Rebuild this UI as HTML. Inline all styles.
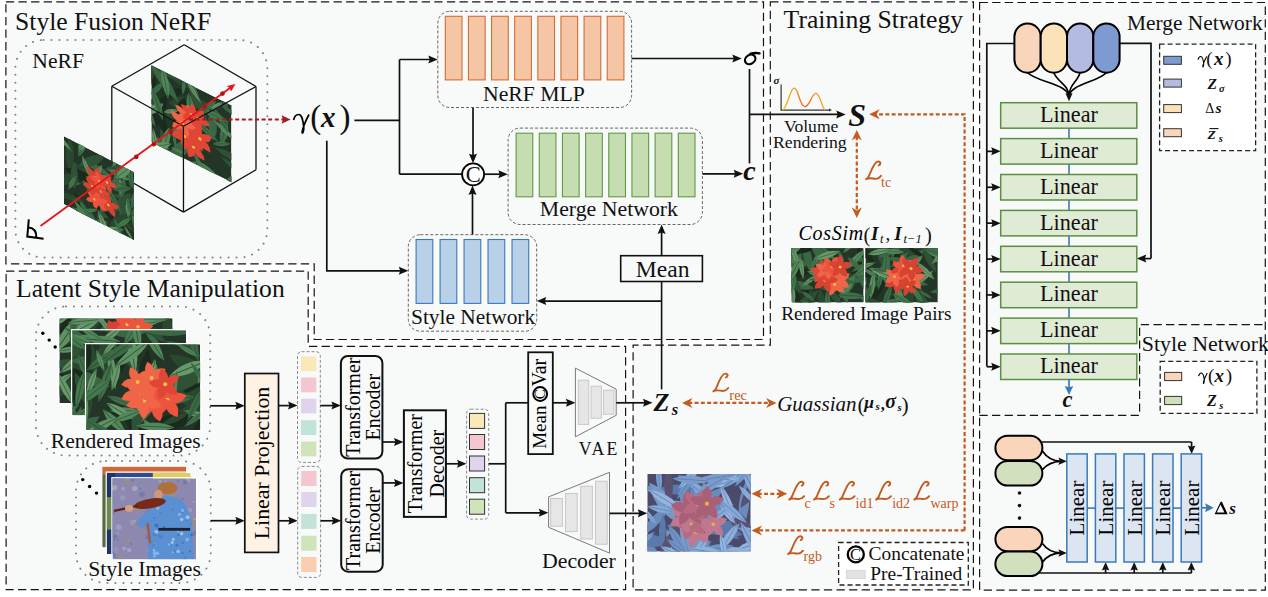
<!DOCTYPE html><html><head><meta charset="utf-8"><style>html,body{margin:0;padding:0;background:#fff;overflow:hidden}svg{display:block}</style></head><body>
<svg width="1268" height="597" viewBox="0 0 1268 597" font-family="Liberation Serif" fill="#000">
<defs><clipPath id="c1"><rect width="100" height="100"/></clipPath><clipPath id="c2"><rect width="100" height="100"/></clipPath><linearGradient id="vg" x1="0" x2="1" y1="0" y2="0"><stop offset="0" stop-color="#f5c518"/><stop offset="0.5" stop-color="#ef6a2a"/><stop offset="1" stop-color="#f5b020"/></linearGradient><clipPath id="c3"><rect width="72.1" height="54.3"/></clipPath><clipPath id="c4"><rect width="72.4" height="54.3"/></clipPath><clipPath id="c5"><rect width="113.4" height="85"/></clipPath><clipPath id="c6"><rect width="113.9" height="85"/></clipPath><clipPath id="c7"><rect width="114.2" height="85.8"/></clipPath><clipPath id="c8"><rect width="83.7" height="80.6"/></clipPath><clipPath id="c9"><rect width="83.7" height="81.3"/></clipPath><clipPath id="c10"><rect width="83.5" height="81.3"/></clipPath><clipPath id="c11"><rect width="103.4" height="77.6"/></clipPath></defs>
<path d="M5.9,1.8 L763.5,1.8 L763.5,339.5 L314.2,339.5 L314.2,263.8 L5.9,263.8 Z" fill="#f8f9f9" stroke="#141414" stroke-width="1.2" stroke-dasharray="8.3 4.3"/>
<path d="M6.1,271.2 L308.2,271.2 L308.2,346.3 L625.6,346.3 L625.6,589.6 L6.1,589.6 Z" fill="#f8f9f9" stroke="#141414" stroke-width="1.2" stroke-dasharray="8.3 4.3"/>
<path d="M770.3,1.8 L973.4,1.8 L973.4,589.9 L633.1,589.9 L633.1,345.2 L770.3,345.2 Z" fill="#f8f9f9" stroke="#141414" stroke-width="1.2" stroke-dasharray="8.3 4.3"/>
<rect x="979.6" y="2.5" width="285.7" height="587.6" rx="0" fill="#f8f9f9" stroke="#141414" stroke-width="1.2" stroke-dasharray="8.3 4.3"/>
<path d="M979.4,415.3 L1139.6,415.3 L1139.6,324.7 L1265.3,324.7" fill="none" stroke="#141414" stroke-width="1.2" stroke-linecap="butt" stroke-linejoin="miter" stroke-dasharray="8.3 4.3"/>
<text x="15.1" y="29.6" font-size="25.6" fill="#111" text-anchor="start">Style Fusion NeRF</text>
<text x="783.6" y="27.8" font-size="25.7" fill="#111" text-anchor="start">Training Strategy</text>
<text x="16" y="297" font-size="25.6" fill="#111" text-anchor="start">Latent Style Manipulation</text>
<rect x="15.4" y="40" width="251.9" height="217.6" rx="28" fill="none" stroke="#858585" stroke-width="2" stroke-dasharray="0.1 7.9" stroke-linecap="round"/>
<text x="32.3" y="67.8" font-size="21.6" fill="#111" text-anchor="start">NeRF</text>
<g transform="matrix(0.8,0.4,0,0.77,151.4,65.2)"><g clip-path="url(#c1)"><rect width="100" height="100" fill="#223526"/><path transform="translate(44.8,56.6) rotate(91.4)" d="M-26.5,0 Q0,-12.7 26.5,0 Q0,12.7 -26.5,0Z" fill="#3a6643"/><path transform="translate(15.3,51.3) rotate(16.9)" d="M-22.5,0 Q0,-12 22.5,0 Q0,12 -22.5,0Z" fill="#2a4830"/><path transform="translate(10.6,54.3) rotate(107.2)" d="M-26,0 Q0,-13.2 26,0 Q0,13.2 -26,0Z" fill="#1a2a1d"/><path transform="translate(101.1,66.9) rotate(2.7)" d="M-22.3,0 Q0,-9.5 22.3,0 Q0,9.5 -22.3,0Z" fill="#2f5236"/><path transform="translate(1.6,15.9) rotate(83.5)" d="M-17.3,0 Q0,-7 17.3,0 Q0,7 -17.3,0Z" fill="#1a2a1d"/><path transform="translate(60,16.5) rotate(0.8)" d="M-17.2,0 Q0,-7.7 17.2,0 Q0,7.7 -17.2,0Z" fill="#2f5236"/><path transform="translate(45.3,25.6) rotate(151.2)" d="M-27.5,0 Q0,-15.6 27.5,0 Q0,15.6 -27.5,0Z" fill="#2a4830"/><path transform="translate(29.7,20.3) rotate(137.9)" d="M-17.9,0 Q0,-7.4 17.9,0 Q0,7.4 -17.9,0Z" fill="#1a2a1d"/><path transform="translate(6.9,27) rotate(123.3)" d="M-14.9,0 Q0,-6 14.9,0 Q0,6 -14.9,0Z" fill="#3a6643"/><path transform="translate(18.1,95.1) rotate(71.5)" d="M-20.3,0 Q0,-11.5 20.3,0 Q0,11.5 -20.3,0Z" fill="#2f5236"/><path transform="translate(57.3,16.8) rotate(56)" d="M-23.1,0 Q0,-10.6 23.1,0 Q0,10.6 -23.1,0Z" fill="#2f5236"/><path transform="translate(101,78.4) rotate(18.2)" d="M-15.6,0 Q0,-6.9 15.6,0 Q0,6.9 -15.6,0Z" fill="#2f5236"/><path transform="translate(46.1,48.6) rotate(91.6)" d="M-23.2,0 Q0,-10 23.2,0 Q0,10 -23.2,0Z" fill="#3a6643"/><path transform="translate(41.1,37.2) rotate(0.1)" d="M-19.3,0 Q0,-11 19.3,0 Q0,11 -19.3,0Z" fill="#2a4830"/><path transform="translate(104.8,-2.8) rotate(108.4)" d="M-16.5,0 Q0,-9.4 16.5,0 Q0,9.4 -16.5,0Z" fill="#2f5236"/><path transform="translate(-0.4,11.1) rotate(109.9)" d="M-20,0 Q0,-8 20,0 Q0,8 -20,0Z" fill="#2a4830"/><path transform="translate(37.5,3.2) rotate(2.8)" d="M-16.8,0 Q0,-8.5 16.8,0 Q0,8.5 -16.8,0Z" fill="#2a4830"/><path transform="translate(35.9,44.9) rotate(103.4)" d="M-26.9,0 Q0,-13 26.9,0 Q0,13 -26.9,0Z" fill="#1a2a1d"/><path transform="translate(15.1,12) rotate(44.9)" d="M-26.3,0 Q0,-14.2 26.3,0 Q0,14.2 -26.3,0Z" fill="#3a6643"/><path transform="translate(12.4,64.2) rotate(69.9)" d="M-21.5,0 Q0,-11.1 21.5,0 Q0,11.1 -21.5,0Z" fill="#1a2a1d"/><path transform="translate(61.4,41.4) rotate(173.3)" d="M-15.4,0 Q0,-6.2 15.4,0 Q0,6.2 -15.4,0Z" fill="#3a6643"/><path transform="translate(76.4,38.1) rotate(88.4)" d="M-19.7,0 Q0,-10.9 19.7,0 Q0,10.9 -19.7,0Z" fill="#3a6643"/><path transform="translate(97.2,102.5) rotate(117.6)" d="M-15.7,0 Q0,-7.6 15.7,0 Q0,7.6 -15.7,0Z" fill="#2f5236"/><path transform="translate(25.8,95.9) rotate(48.5)" d="M-16.8,0 Q0,-6.7 16.8,0 Q0,6.7 -16.8,0Z" fill="#1a2a1d"/><path transform="translate(22.4,0.1) rotate(175.2)" d="M-17.8,0 Q0,-8.7 17.8,0 Q0,8.7 -17.8,0Z" fill="#2f5236"/><path transform="translate(34.8,93) rotate(124.4)" d="M-27.2,0 Q0,-13.9 27.2,0 Q0,13.9 -27.2,0Z" fill="#3a6643"/><path transform="translate(59.9,96.6) rotate(56.1)" d="M-14.7,0 Q0,-6.1 14.7,0 Q0,6.1 -14.7,0Z" fill="#457a4e"/><path transform="translate(59.9,96.6) rotate(56.1)" d="M-13.3,0 L13.3,0" stroke="#2a4a30" stroke-width="0.5"/><path transform="translate(-2.7,65) rotate(57.4)" d="M-14.8,0 Q0,-7 14.8,0 Q0,7 -14.8,0Z" fill="#457a4e"/><path transform="translate(-2.7,65) rotate(57.4)" d="M-13.3,0 L13.3,0" stroke="#2a4a30" stroke-width="0.6"/><path transform="translate(3.3,55.1) rotate(132.7)" d="M-17.4,0 Q0,-8.6 17.4,0 Q0,8.6 -17.4,0Z" fill="#68996a"/><path transform="translate(3.3,55.1) rotate(132.7)" d="M-15.6,0 L15.6,0" stroke="#2a4a30" stroke-width="0.7"/><path transform="translate(9.2,101) rotate(85.2)" d="M-13.4,0 Q0,-5 13.4,0 Q0,5 -13.4,0Z" fill="#457a4e"/><path transform="translate(9.2,101) rotate(85.2)" d="M-12.1,0 L12.1,0" stroke="#2a4a30" stroke-width="0.4"/><path transform="translate(90.8,40.9) rotate(103.1)" d="M-17.9,0 Q0,-8.8 17.9,0 Q0,8.8 -17.9,0Z" fill="#406f4a"/><path transform="translate(90.8,40.9) rotate(103.1)" d="M-16.1,0 L16.1,0" stroke="#2a4a30" stroke-width="0.7"/><path transform="translate(67.8,36.7) rotate(16.3)" d="M-10.1,0 Q0,-3.7 10.1,0 Q0,3.7 -10.1,0Z" fill="#457a4e"/><path transform="translate(67.8,36.7) rotate(16.3)" d="M-9.1,0 L9.1,0" stroke="#2a4a30" stroke-width="0.4"/><path transform="translate(104.3,91.8) rotate(132.3)" d="M-17.3,0 Q0,-7.2 17.3,0 Q0,7.2 -17.3,0Z" fill="#406f4a"/><path transform="translate(104.3,91.8) rotate(132.3)" d="M-15.6,0 L15.6,0" stroke="#2a4a30" stroke-width="0.6"/><path transform="translate(45.4,45.9) rotate(92.6)" d="M-15.4,0 Q0,-6.8 15.4,0 Q0,6.8 -15.4,0Z" fill="#3a6a45"/><path transform="translate(45.4,45.9) rotate(92.6)" d="M-13.9,0 L13.9,0" stroke="#2a4a30" stroke-width="0.6"/><path transform="translate(61.1,47.9) rotate(89.5)" d="M-12.3,0 Q0,-5.7 12.3,0 Q0,5.7 -12.3,0Z" fill="#406f4a"/><path transform="translate(61.1,47.9) rotate(89.5)" d="M-11.1,0 L11.1,0" stroke="#2a4a30" stroke-width="0.5"/><path transform="translate(67.6,48.5) rotate(25.8)" d="M-19,0 Q0,-7.9 19,0 Q0,7.9 -19,0Z" fill="#406f4a"/><path transform="translate(67.6,48.5) rotate(25.8)" d="M-17.1,0 L17.1,0" stroke="#2a4a30" stroke-width="0.7"/><path transform="translate(17.3,13.7) rotate(79.5)" d="M-19.1,0 Q0,-8.8 19.1,0 Q0,8.8 -19.1,0Z" fill="#52875a"/><path transform="translate(17.3,13.7) rotate(79.5)" d="M-17.2,0 L17.2,0" stroke="#2a4a30" stroke-width="0.7"/><path transform="translate(31,68.2) rotate(145.1)" d="M-12,0 Q0,-5.1 12,0 Q0,5.1 -12,0Z" fill="#52875a"/><path transform="translate(31,68.2) rotate(145.1)" d="M-10.8,0 L10.8,0" stroke="#2a4a30" stroke-width="0.4"/><path transform="translate(91.8,37.3) rotate(24.5)" d="M-15.8,0 Q0,-6.5 15.8,0 Q0,6.5 -15.8,0Z" fill="#5e9262"/><path transform="translate(91.8,37.3) rotate(24.5)" d="M-14.2,0 L14.2,0" stroke="#2a4a30" stroke-width="0.5"/><path transform="translate(33.6,93.5) rotate(176.5)" d="M-10.4,0 Q0,-3.8 10.4,0 Q0,3.8 -10.4,0Z" fill="#52875a"/><path transform="translate(33.6,93.5) rotate(176.5)" d="M-9.4,0 L9.4,0" stroke="#2a4a30" stroke-width="0.4"/><path transform="translate(7.4,46.8) rotate(68.9)" d="M-19.3,0 Q0,-9.4 19.3,0 Q0,9.4 -19.3,0Z" fill="#406f4a"/><path transform="translate(7.4,46.8) rotate(68.9)" d="M-17.3,0 L17.3,0" stroke="#2a4a30" stroke-width="0.8"/><path transform="translate(49.3,29.7) rotate(81.4)" d="M-18.4,0 Q0,-9.4 18.4,0 Q0,9.4 -18.4,0Z" fill="#457a4e"/><path transform="translate(49.3,29.7) rotate(81.4)" d="M-16.6,0 L16.6,0" stroke="#2a4a30" stroke-width="0.8"/><path transform="translate(86.2,25.6) rotate(50.6)" d="M-16.1,0 Q0,-7.5 16.1,0 Q0,7.5 -16.1,0Z" fill="#3a6a45"/><path transform="translate(86.2,25.6) rotate(50.6)" d="M-14.5,0 L14.5,0" stroke="#2a4a30" stroke-width="0.6"/><path transform="translate(29,82.1) rotate(81.9)" d="M-10.2,0 Q0,-3.9 10.2,0 Q0,3.9 -10.2,0Z" fill="#457a4e"/><path transform="translate(29,82.1) rotate(81.9)" d="M-9.2,0 L9.2,0" stroke="#2a4a30" stroke-width="0.4"/><path transform="translate(79.6,24.3) rotate(177.1)" d="M-17.8,0 Q0,-8.6 17.8,0 Q0,8.6 -17.8,0Z" fill="#457a4e"/><path transform="translate(79.6,24.3) rotate(177.1)" d="M-16,0 L16,0" stroke="#2a4a30" stroke-width="0.7"/><path transform="translate(44.1,64.3) rotate(172.5)" d="M-16.6,0 Q0,-8 16.6,0 Q0,8 -16.6,0Z" fill="#68996a"/><path transform="translate(44.1,64.3) rotate(172.5)" d="M-14.9,0 L14.9,0" stroke="#2a4a30" stroke-width="0.7"/><path transform="translate(16.8,85.6) rotate(135.9)" d="M-12.6,0 Q0,-5.9 12.6,0 Q0,5.9 -12.6,0Z" fill="#406f4a"/><path transform="translate(16.8,85.6) rotate(135.9)" d="M-11.3,0 L11.3,0" stroke="#2a4a30" stroke-width="0.5"/><path transform="translate(73.6,14.7) rotate(125.5)" d="M-12.7,0 Q0,-5.2 12.7,0 Q0,5.2 -12.7,0Z" fill="#406f4a"/><path transform="translate(73.6,14.7) rotate(125.5)" d="M-11.5,0 L11.5,0" stroke="#2a4a30" stroke-width="0.4"/><path transform="translate(50,104.6) rotate(126)" d="M-11.6,0 Q0,-5.7 11.6,0 Q0,5.7 -11.6,0Z" fill="#52875a"/><path transform="translate(50,104.6) rotate(126)" d="M-10.4,0 L10.4,0" stroke="#2a4a30" stroke-width="0.5"/><path transform="translate(4.6,97.6) rotate(81.6)" d="M-17.2,0 Q0,-6.5 17.2,0 Q0,6.5 -17.2,0Z" fill="#68996a"/><path transform="translate(4.6,97.6) rotate(81.6)" d="M-15.5,0 L15.5,0" stroke="#2a4a30" stroke-width="0.5"/><path transform="translate(92.6,-4.3) rotate(90.5)" d="M-15.5,0 Q0,-7.1 15.5,0 Q0,7.1 -15.5,0Z" fill="#3a6a45"/><path transform="translate(92.6,-4.3) rotate(90.5)" d="M-14,0 L14,0" stroke="#2a4a30" stroke-width="0.6"/><path transform="translate(46,66.6) rotate(147.3)" d="M-12,0 Q0,-5.7 12,0 Q0,5.7 -12,0Z" fill="#68996a"/><path transform="translate(46,66.6) rotate(147.3)" d="M-10.8,0 L10.8,0" stroke="#2a4a30" stroke-width="0.5"/><path transform="translate(96.7,8.6) rotate(15.8)" d="M-12.4,0 Q0,-5.2 12.4,0 Q0,5.2 -12.4,0Z" fill="#3a6a45"/><path transform="translate(96.7,8.6) rotate(15.8)" d="M-11.2,0 L11.2,0" stroke="#2a4a30" stroke-width="0.4"/><path transform="translate(54.1,82) rotate(154)" d="M-13.2,0 Q0,-6.6 13.2,0 Q0,6.6 -13.2,0Z" fill="#3a6a45"/><path transform="translate(54.1,82) rotate(154)" d="M-11.9,0 L11.9,0" stroke="#2a4a30" stroke-width="0.6"/><path transform="translate(50.5,-0.9) rotate(49.5)" d="M-13.4,0 Q0,-5.7 13.4,0 Q0,5.7 -13.4,0Z" fill="#457a4e"/><path transform="translate(50.5,-0.9) rotate(49.5)" d="M-12.1,0 L12.1,0" stroke="#2a4a30" stroke-width="0.5"/><path transform="translate(19,90.4) rotate(96)" d="M-14.3,0 Q0,-5.2 14.3,0 Q0,5.2 -14.3,0Z" fill="#68996a"/><path transform="translate(19,90.4) rotate(96)" d="M-12.9,0 L12.9,0" stroke="#2a4a30" stroke-width="0.4"/><path transform="translate(81.7,10.5) rotate(130.2)" d="M-11.5,0 Q0,-5 11.5,0 Q0,5 -11.5,0Z" fill="#68996a"/><path transform="translate(81.7,10.5) rotate(130.2)" d="M-10.3,0 L10.3,0" stroke="#2a4a30" stroke-width="0.4"/><path transform="translate(70.8,99) rotate(15.5)" d="M-14.9,0 Q0,-7.5 14.9,0 Q0,7.5 -14.9,0Z" fill="#52875a"/><path transform="translate(70.8,99) rotate(15.5)" d="M-13.4,0 L13.4,0" stroke="#2a4a30" stroke-width="0.6"/><path transform="translate(43.3,56.5) rotate(29.6)" d="M-18.3,0 Q0,-8.2 18.3,0 Q0,8.2 -18.3,0Z" fill="#406f4a"/><path transform="translate(43.3,56.5) rotate(29.6)" d="M-16.5,0 L16.5,0" stroke="#2a4a30" stroke-width="0.7"/><path transform="translate(87.8,56.6) rotate(152.1)" d="M-13.1,0 Q0,-5.5 13.1,0 Q0,5.5 -13.1,0Z" fill="#406f4a"/><path transform="translate(87.8,56.6) rotate(152.1)" d="M-11.8,0 L11.8,0" stroke="#2a4a30" stroke-width="0.5"/><path transform="translate(17.9,88.6) rotate(103.1)" d="M-19.7,0 Q0,-8.7 19.7,0 Q0,8.7 -19.7,0Z" fill="#52875a"/><path transform="translate(17.9,88.6) rotate(103.1)" d="M-17.7,0 L17.7,0" stroke="#2a4a30" stroke-width="0.7"/><path transform="translate(40.2,7.6) rotate(96.9)" d="M-10,0 Q0,-4.2 10,0 Q0,4.2 -10,0Z" fill="#457a4e"/><path transform="translate(40.2,7.6) rotate(96.9)" d="M-9,0 L9,0" stroke="#2a4a30" stroke-width="0.4"/><path transform="translate(51.8,39.1) rotate(88.4)" d="M-18,0 Q0,-8 18,0 Q0,8 -18,0Z" fill="#68996a"/><path transform="translate(51.8,39.1) rotate(88.4)" d="M-16.2,0 L16.2,0" stroke="#2a4a30" stroke-width="0.7"/><path transform="translate(13.3,97.4) rotate(144.1)" d="M-14.6,0 Q0,-7.3 14.6,0 Q0,7.3 -14.6,0Z" fill="#5e9262"/><path transform="translate(13.3,97.4) rotate(144.1)" d="M-13.1,0 L13.1,0" stroke="#2a4a30" stroke-width="0.6"/><path transform="translate(24.6,47) rotate(146.8)" d="M-11.3,0 Q0,-4.8 11.3,0 Q0,4.8 -11.3,0Z" fill="#5e9262"/><path transform="translate(24.6,47) rotate(146.8)" d="M-10.1,0 L10.1,0" stroke="#2a4a30" stroke-width="0.4"/><path transform="translate(52.7,6.9) rotate(46.8)" d="M-14.2,0 Q0,-5.2 14.2,0 Q0,5.2 -14.2,0Z" fill="#68996a"/><path transform="translate(52.7,6.9) rotate(46.8)" d="M-12.8,0 L12.8,0" stroke="#2a4a30" stroke-width="0.4"/><path transform="translate(55.2,61.3) rotate(45.6)" d="M-8.5,0 Q0,-8.7 8.5,0 Q0,8.7 -8.5,0Z" fill="#d84232"/><path transform="translate(46.6,62.5) rotate(117.6)" d="M-8.5,0 Q0,-8.7 8.5,0 Q0,8.7 -8.5,0Z" fill="#d84232"/><path transform="translate(42.7,54.8) rotate(189.6)" d="M-8.5,0 Q0,-8.7 8.5,0 Q0,8.7 -8.5,0Z" fill="#d84232"/><path transform="translate(48.9,48.7) rotate(261.6)" d="M-8.5,0 Q0,-8.7 8.5,0 Q0,8.7 -8.5,0Z" fill="#d84232"/><path transform="translate(56.6,52.7) rotate(333.6)" d="M-8.5,0 Q0,-8.7 8.5,0 Q0,8.7 -8.5,0Z" fill="#d84232"/><circle cx="50" cy="56" r="1.9" fill="#f0c040"/><path transform="translate(66.9,69.3) rotate(38.7)" d="M-9.3,0 Q0,-9.5 9.3,0 Q0,9.5 -9.3,0Z" fill="#e04636"/><path transform="translate(57.7,71.8) rotate(110.7)" d="M-9.3,0 Q0,-9.5 9.3,0 Q0,9.5 -9.3,0Z" fill="#e04636"/><path transform="translate(52.5,63.8) rotate(182.7)" d="M-9.3,0 Q0,-9.5 9.3,0 Q0,9.5 -9.3,0Z" fill="#e04636"/><path transform="translate(58.5,56.4) rotate(254.7)" d="M-9.3,0 Q0,-9.5 9.3,0 Q0,9.5 -9.3,0Z" fill="#e04636"/><path transform="translate(67.4,59.8) rotate(326.7)" d="M-9.3,0 Q0,-9.5 9.3,0 Q0,9.5 -9.3,0Z" fill="#e04636"/><circle cx="60.6" cy="64.2" r="2.1" fill="#f0c040"/><path transform="translate(59,83.6) rotate(38.1)" d="M-9.4,0 Q0,-9.6 9.4,0 Q0,9.6 -9.4,0Z" fill="#e04636"/><path transform="translate(49.8,86.2) rotate(110.1)" d="M-9.4,0 Q0,-9.6 9.4,0 Q0,9.6 -9.4,0Z" fill="#e04636"/><path transform="translate(44.5,78.3) rotate(182.1)" d="M-9.4,0 Q0,-9.6 9.4,0 Q0,9.6 -9.4,0Z" fill="#e04636"/><path transform="translate(50.4,70.7) rotate(254.1)" d="M-9.4,0 Q0,-9.6 9.4,0 Q0,9.6 -9.4,0Z" fill="#e04636"/><path transform="translate(59.4,74) rotate(326.1)" d="M-9.4,0 Q0,-9.6 9.4,0 Q0,9.6 -9.4,0Z" fill="#e04636"/><circle cx="52.6" cy="78.6" r="2.1" fill="#f0c040"/><path transform="translate(49.4,73.2) rotate(16.8)" d="M-9.4,0 Q0,-9.6 9.4,0 Q0,9.6 -9.4,0Z" fill="#e04636"/><path transform="translate(41.8,79) rotate(88.8)" d="M-9.4,0 Q0,-9.6 9.4,0 Q0,9.6 -9.4,0Z" fill="#e04636"/><path transform="translate(33.9,73.5) rotate(160.8)" d="M-9.4,0 Q0,-9.6 9.4,0 Q0,9.6 -9.4,0Z" fill="#e04636"/><path transform="translate(36.7,64.4) rotate(232.8)" d="M-9.4,0 Q0,-9.6 9.4,0 Q0,9.6 -9.4,0Z" fill="#e04636"/><path transform="translate(46.2,64.2) rotate(304.8)" d="M-9.4,0 Q0,-9.6 9.4,0 Q0,9.6 -9.4,0Z" fill="#e04636"/><circle cx="41.6" cy="70.8" r="2.1" fill="#f0c040"/><path transform="translate(42,62) rotate(65)" d="M-9.1,0 Q0,-9.3 9.1,0 Q0,9.3 -9.1,0Z" fill="#f06448"/><path transform="translate(32.9,60.3) rotate(137)" d="M-9.1,0 Q0,-9.3 9.1,0 Q0,9.3 -9.1,0Z" fill="#f06448"/><path transform="translate(31.7,51) rotate(209)" d="M-9.1,0 Q0,-9.3 9.1,0 Q0,9.3 -9.1,0Z" fill="#f06448"/><path transform="translate(40.2,47.1) rotate(281)" d="M-9.1,0 Q0,-9.3 9.1,0 Q0,9.3 -9.1,0Z" fill="#f06448"/><path transform="translate(46.6,53.9) rotate(353)" d="M-9.1,0 Q0,-9.3 9.1,0 Q0,9.3 -9.1,0Z" fill="#f06448"/><circle cx="38.7" cy="54.8" r="2.1" fill="#f0c040"/><path transform="translate(46.2,49.4) rotate(64.1)" d="M-8.2,0 Q0,-8.4 8.2,0 Q0,8.4 -8.2,0Z" fill="#f06448"/><path transform="translate(37.9,47.9) rotate(136.1)" d="M-8.2,0 Q0,-8.4 8.2,0 Q0,8.4 -8.2,0Z" fill="#f06448"/><path transform="translate(36.8,39.5) rotate(208.1)" d="M-8.2,0 Q0,-8.4 8.2,0 Q0,8.4 -8.2,0Z" fill="#f06448"/><path transform="translate(44.3,35.9) rotate(280.1)" d="M-8.2,0 Q0,-8.4 8.2,0 Q0,8.4 -8.2,0Z" fill="#f06448"/><path transform="translate(50.2,41.9) rotate(352.1)" d="M-8.2,0 Q0,-8.4 8.2,0 Q0,8.4 -8.2,0Z" fill="#f06448"/><circle cx="43.1" cy="42.9" r="1.9" fill="#f0c040"/><path transform="translate(53.1,44.4) rotate(63.9)" d="M-8,0 Q0,-8.2 8,0 Q0,8.2 -8,0Z" fill="#e04636"/><path transform="translate(45.1,43) rotate(135.9)" d="M-8,0 Q0,-8.2 8,0 Q0,8.2 -8,0Z" fill="#e04636"/><path transform="translate(43.9,34.9) rotate(207.9)" d="M-8,0 Q0,-8.2 8,0 Q0,8.2 -8,0Z" fill="#e04636"/><path transform="translate(51.3,31.3) rotate(279.9)" d="M-8,0 Q0,-8.2 8,0 Q0,8.2 -8,0Z" fill="#e04636"/><path transform="translate(57,37.2) rotate(351.9)" d="M-8,0 Q0,-8.2 8,0 Q0,8.2 -8,0Z" fill="#e04636"/><circle cx="50.1" cy="38.1" r="1.8" fill="#f0c040"/><path transform="translate(65.1,39.8) rotate(9.5)" d="M-7.9,0 Q0,-8.1 7.9,0 Q0,8.1 -7.9,0Z" fill="#e04636"/><path transform="translate(59.4,45.4) rotate(81.5)" d="M-7.9,0 Q0,-8.1 7.9,0 Q0,8.1 -7.9,0Z" fill="#e04636"/><path transform="translate(52.3,41.7) rotate(153.5)" d="M-7.9,0 Q0,-8.1 7.9,0 Q0,8.1 -7.9,0Z" fill="#e04636"/><path transform="translate(53.6,33.8) rotate(225.5)" d="M-7.9,0 Q0,-8.1 7.9,0 Q0,8.1 -7.9,0Z" fill="#e04636"/><path transform="translate(61.6,32.6) rotate(297.5)" d="M-7.9,0 Q0,-8.1 7.9,0 Q0,8.1 -7.9,0Z" fill="#e04636"/><circle cx="58.4" cy="38.6" r="1.8" fill="#f0c040"/></g></g>
<path d="M184.2,44.7 L111.8,86.2" fill="none" stroke="#111" stroke-width="1.3" stroke-linecap="butt" stroke-linejoin="miter"/>
<path d="M184.2,44.7 L256,86.5" fill="none" stroke="#111" stroke-width="1.3" stroke-linecap="butt" stroke-linejoin="miter"/>
<path d="M111.8,86.2 L183.4,126.2" fill="none" stroke="#111" stroke-width="1.3" stroke-linecap="butt" stroke-linejoin="miter"/>
<path d="M256,86.5 L183.4,126.2" fill="none" stroke="#111" stroke-width="1.3" stroke-linecap="butt" stroke-linejoin="miter"/>
<path d="M183.4,126.2 L183.5,212.1" fill="none" stroke="#111" stroke-width="1.3" stroke-linecap="butt" stroke-linejoin="miter"/>
<path d="M111.8,86.2 L111.8,170.5" fill="none" stroke="#111" stroke-width="1.3" stroke-linecap="butt" stroke-linejoin="miter"/>
<path d="M256,86.5 L256,169.8" fill="none" stroke="#111" stroke-width="1.3" stroke-linecap="butt" stroke-linejoin="miter"/>
<path d="M111.8,170.5 L183.5,212.1" fill="none" stroke="#111" stroke-width="1.3" stroke-linecap="butt" stroke-linejoin="miter"/>
<path d="M256,169.8 L183.5,212.1" fill="none" stroke="#111" stroke-width="1.3" stroke-linecap="butt" stroke-linejoin="miter"/>
<g transform="matrix(0.7,0.36,0,0.68,64,136.3)"><g clip-path="url(#c2)"><rect width="100" height="100" fill="#223526"/><path transform="translate(63.5,76.6) rotate(133.2)" d="M-24.7,0 Q0,-13.9 24.7,0 Q0,13.9 -24.7,0Z" fill="#2f5236"/><path transform="translate(87.4,80.4) rotate(28.2)" d="M-17.4,0 Q0,-7.1 17.4,0 Q0,7.1 -17.4,0Z" fill="#2a4830"/><path transform="translate(46.6,22.1) rotate(2.4)" d="M-21.3,0 Q0,-10.6 21.3,0 Q0,10.6 -21.3,0Z" fill="#3a6643"/><path transform="translate(39.9,15) rotate(137.1)" d="M-25.7,0 Q0,-12 25.7,0 Q0,12 -25.7,0Z" fill="#2f5236"/><path transform="translate(10.3,62.9) rotate(156.9)" d="M-15.7,0 Q0,-6.3 15.7,0 Q0,6.3 -15.7,0Z" fill="#3a6643"/><path transform="translate(80.1,100.6) rotate(56.5)" d="M-16.2,0 Q0,-6.9 16.2,0 Q0,6.9 -16.2,0Z" fill="#3a6643"/><path transform="translate(54.3,69.6) rotate(124.3)" d="M-16.8,0 Q0,-9.4 16.8,0 Q0,9.4 -16.8,0Z" fill="#1a2a1d"/><path transform="translate(27.9,34.7) rotate(11.7)" d="M-16.2,0 Q0,-6.9 16.2,0 Q0,6.9 -16.2,0Z" fill="#2a4830"/><path transform="translate(84.9,59.5) rotate(11.9)" d="M-22,0 Q0,-11.5 22,0 Q0,11.5 -22,0Z" fill="#2a4830"/><path transform="translate(85,47.9) rotate(126.8)" d="M-18.3,0 Q0,-8.8 18.3,0 Q0,8.8 -18.3,0Z" fill="#2f5236"/><path transform="translate(23.2,98.3) rotate(72.8)" d="M-26.8,0 Q0,-12.3 26.8,0 Q0,12.3 -26.8,0Z" fill="#1a2a1d"/><path transform="translate(35.3,58.6) rotate(32.6)" d="M-14.1,0 Q0,-5.7 14.1,0 Q0,5.7 -14.1,0Z" fill="#3a6643"/><path transform="translate(8.1,22.1) rotate(92.2)" d="M-25.1,0 Q0,-12 25.1,0 Q0,12 -25.1,0Z" fill="#2a4830"/><path transform="translate(80.3,6.9) rotate(154.7)" d="M-24.1,0 Q0,-12.9 24.1,0 Q0,12.9 -24.1,0Z" fill="#2f5236"/><path transform="translate(42.6,102.6) rotate(65.3)" d="M-16.8,0 Q0,-8.2 16.8,0 Q0,8.2 -16.8,0Z" fill="#3a6643"/><path transform="translate(32.4,96.7) rotate(57)" d="M-21.4,0 Q0,-9.7 21.4,0 Q0,9.7 -21.4,0Z" fill="#3a6643"/><path transform="translate(82.9,63.9) rotate(87.1)" d="M-23.7,0 Q0,-10.7 23.7,0 Q0,10.7 -23.7,0Z" fill="#2f5236"/><path transform="translate(3.9,61.1) rotate(133.3)" d="M-26.5,0 Q0,-10.7 26.5,0 Q0,10.7 -26.5,0Z" fill="#2a4830"/><path transform="translate(85.9,45.1) rotate(164.9)" d="M-19.7,0 Q0,-8 19.7,0 Q0,8 -19.7,0Z" fill="#2f5236"/><path transform="translate(83.2,31.8) rotate(101.5)" d="M-16.8,0 Q0,-9.5 16.8,0 Q0,9.5 -16.8,0Z" fill="#3a6643"/><path transform="translate(64.3,81.7) rotate(26.9)" d="M-15.4,0 Q0,-7.3 15.4,0 Q0,7.3 -15.4,0Z" fill="#1a2a1d"/><path transform="translate(27.4,44.8) rotate(175.7)" d="M-27.5,0 Q0,-15 27.5,0 Q0,15 -27.5,0Z" fill="#1a2a1d"/><path transform="translate(100.6,70.8) rotate(84.6)" d="M-18.3,0 Q0,-8.2 18.3,0 Q0,8.2 -18.3,0Z" fill="#3a6643"/><path transform="translate(7.4,85.4) rotate(168.7)" d="M-21.2,0 Q0,-9.1 21.2,0 Q0,9.1 -21.2,0Z" fill="#2a4830"/><path transform="translate(14.8,49.1) rotate(90.5)" d="M-21,0 Q0,-10.3 21,0 Q0,10.3 -21,0Z" fill="#2f5236"/><path transform="translate(81.5,80.2) rotate(136.7)" d="M-23.4,0 Q0,-12 23.4,0 Q0,12 -23.4,0Z" fill="#2a4830"/><path transform="translate(56.5,68.5) rotate(176.6)" d="M-18.4,0 Q0,-7.3 18.4,0 Q0,7.3 -18.4,0Z" fill="#68996a"/><path transform="translate(56.5,68.5) rotate(176.6)" d="M-16.5,0 L16.5,0" stroke="#2a4a30" stroke-width="0.6"/><path transform="translate(27.3,99) rotate(2.1)" d="M-16.5,0 Q0,-7.4 16.5,0 Q0,7.4 -16.5,0Z" fill="#406f4a"/><path transform="translate(27.3,99) rotate(2.1)" d="M-14.8,0 L14.8,0" stroke="#2a4a30" stroke-width="0.6"/><path transform="translate(80.1,30.8) rotate(90.1)" d="M-12.7,0 Q0,-5.1 12.7,0 Q0,5.1 -12.7,0Z" fill="#68996a"/><path transform="translate(80.1,30.8) rotate(90.1)" d="M-11.5,0 L11.5,0" stroke="#2a4a30" stroke-width="0.4"/><path transform="translate(82.7,33.3) rotate(149.1)" d="M-16.4,0 Q0,-7.8 16.4,0 Q0,7.8 -16.4,0Z" fill="#3a6a45"/><path transform="translate(82.7,33.3) rotate(149.1)" d="M-14.8,0 L14.8,0" stroke="#2a4a30" stroke-width="0.7"/><path transform="translate(96.5,14) rotate(65.6)" d="M-18.7,0 Q0,-8 18.7,0 Q0,8 -18.7,0Z" fill="#3a6a45"/><path transform="translate(96.5,14) rotate(65.6)" d="M-16.8,0 L16.8,0" stroke="#2a4a30" stroke-width="0.7"/><path transform="translate(52,53.2) rotate(168.7)" d="M-11.7,0 Q0,-5.7 11.7,0 Q0,5.7 -11.7,0Z" fill="#5e9262"/><path transform="translate(52,53.2) rotate(168.7)" d="M-10.5,0 L10.5,0" stroke="#2a4a30" stroke-width="0.5"/><path transform="translate(26.1,3.7) rotate(111)" d="M-16.7,0 Q0,-7.1 16.7,0 Q0,7.1 -16.7,0Z" fill="#406f4a"/><path transform="translate(26.1,3.7) rotate(111)" d="M-15,0 L15,0" stroke="#2a4a30" stroke-width="0.6"/><path transform="translate(51.8,98) rotate(156.1)" d="M-13,0 Q0,-5.8 13,0 Q0,5.8 -13,0Z" fill="#3a6a45"/><path transform="translate(51.8,98) rotate(156.1)" d="M-11.7,0 L11.7,0" stroke="#2a4a30" stroke-width="0.5"/><path transform="translate(74.2,-2) rotate(117)" d="M-11.6,0 Q0,-5 11.6,0 Q0,5 -11.6,0Z" fill="#52875a"/><path transform="translate(74.2,-2) rotate(117)" d="M-10.4,0 L10.4,0" stroke="#2a4a30" stroke-width="0.4"/><path transform="translate(78.5,14.9) rotate(176.4)" d="M-17.2,0 Q0,-8.8 17.2,0 Q0,8.8 -17.2,0Z" fill="#52875a"/><path transform="translate(78.5,14.9) rotate(176.4)" d="M-15.5,0 L15.5,0" stroke="#2a4a30" stroke-width="0.7"/><path transform="translate(1,9.7) rotate(34.8)" d="M-13.2,0 Q0,-5.1 13.2,0 Q0,5.1 -13.2,0Z" fill="#457a4e"/><path transform="translate(1,9.7) rotate(34.8)" d="M-11.9,0 L11.9,0" stroke="#2a4a30" stroke-width="0.4"/><path transform="translate(40.7,33.6) rotate(36.8)" d="M-16.6,0 Q0,-6.2 16.6,0 Q0,6.2 -16.6,0Z" fill="#68996a"/><path transform="translate(40.7,33.6) rotate(36.8)" d="M-15,0 L15,0" stroke="#2a4a30" stroke-width="0.5"/><path transform="translate(94.4,-4.9) rotate(73.8)" d="M-14.1,0 Q0,-5.6 14.1,0 Q0,5.6 -14.1,0Z" fill="#457a4e"/><path transform="translate(94.4,-4.9) rotate(73.8)" d="M-12.6,0 L12.6,0" stroke="#2a4a30" stroke-width="0.5"/><path transform="translate(70.8,55.2) rotate(54.2)" d="M-19.6,0 Q0,-8.7 19.6,0 Q0,8.7 -19.6,0Z" fill="#3a6a45"/><path transform="translate(70.8,55.2) rotate(54.2)" d="M-17.7,0 L17.7,0" stroke="#2a4a30" stroke-width="0.7"/><path transform="translate(55,32.3) rotate(147.3)" d="M-15.8,0 Q0,-8 15.8,0 Q0,8 -15.8,0Z" fill="#5e9262"/><path transform="translate(55,32.3) rotate(147.3)" d="M-14.2,0 L14.2,0" stroke="#2a4a30" stroke-width="0.7"/><path transform="translate(40,57) rotate(28.2)" d="M-15.4,0 Q0,-6.6 15.4,0 Q0,6.6 -15.4,0Z" fill="#5e9262"/><path transform="translate(40,57) rotate(28.2)" d="M-13.8,0 L13.8,0" stroke="#2a4a30" stroke-width="0.6"/><path transform="translate(57,100.3) rotate(63.2)" d="M-19.7,0 Q0,-8.9 19.7,0 Q0,8.9 -19.7,0Z" fill="#68996a"/><path transform="translate(57,100.3) rotate(63.2)" d="M-17.7,0 L17.7,0" stroke="#2a4a30" stroke-width="0.8"/><path transform="translate(-4.9,6.9) rotate(25.3)" d="M-15.7,0 Q0,-7.1 15.7,0 Q0,7.1 -15.7,0Z" fill="#68996a"/><path transform="translate(-4.9,6.9) rotate(25.3)" d="M-14.1,0 L14.1,0" stroke="#2a4a30" stroke-width="0.6"/><path transform="translate(91.4,57.1) rotate(88.8)" d="M-14.3,0 Q0,-7.3 14.3,0 Q0,7.3 -14.3,0Z" fill="#5e9262"/><path transform="translate(91.4,57.1) rotate(88.8)" d="M-12.9,0 L12.9,0" stroke="#2a4a30" stroke-width="0.6"/><path transform="translate(102,36.8) rotate(107.2)" d="M-19.6,0 Q0,-9.8 19.6,0 Q0,9.8 -19.6,0Z" fill="#3a6a45"/><path transform="translate(102,36.8) rotate(107.2)" d="M-17.7,0 L17.7,0" stroke="#2a4a30" stroke-width="0.8"/><path transform="translate(76.5,28.1) rotate(170.1)" d="M-12.5,0 Q0,-4.5 12.5,0 Q0,4.5 -12.5,0Z" fill="#3a6a45"/><path transform="translate(76.5,28.1) rotate(170.1)" d="M-11.3,0 L11.3,0" stroke="#2a4a30" stroke-width="0.4"/><path transform="translate(49.1,26.5) rotate(111.9)" d="M-14.8,0 Q0,-5.6 14.8,0 Q0,5.6 -14.8,0Z" fill="#5e9262"/><path transform="translate(49.1,26.5) rotate(111.9)" d="M-13.3,0 L13.3,0" stroke="#2a4a30" stroke-width="0.5"/><path transform="translate(22,-0.6) rotate(86.5)" d="M-11.4,0 Q0,-4.8 11.4,0 Q0,4.8 -11.4,0Z" fill="#406f4a"/><path transform="translate(22,-0.6) rotate(86.5)" d="M-10.2,0 L10.2,0" stroke="#2a4a30" stroke-width="0.4"/><path transform="translate(25.1,97.9) rotate(48.2)" d="M-17.8,0 Q0,-7.1 17.8,0 Q0,7.1 -17.8,0Z" fill="#52875a"/><path transform="translate(25.1,97.9) rotate(48.2)" d="M-16,0 L16,0" stroke="#2a4a30" stroke-width="0.6"/><path transform="translate(74.4,26.4) rotate(93.3)" d="M-14.9,0 Q0,-7.6 14.9,0 Q0,7.6 -14.9,0Z" fill="#406f4a"/><path transform="translate(74.4,26.4) rotate(93.3)" d="M-13.4,0 L13.4,0" stroke="#2a4a30" stroke-width="0.6"/><path transform="translate(91.9,93.5) rotate(50.8)" d="M-10.2,0 Q0,-3.8 10.2,0 Q0,3.8 -10.2,0Z" fill="#68996a"/><path transform="translate(91.9,93.5) rotate(50.8)" d="M-9.1,0 L9.1,0" stroke="#2a4a30" stroke-width="0.4"/><path transform="translate(32,27.7) rotate(65)" d="M-15.3,0 Q0,-6.6 15.3,0 Q0,6.6 -15.3,0Z" fill="#68996a"/><path transform="translate(32,27.7) rotate(65)" d="M-13.8,0 L13.8,0" stroke="#2a4a30" stroke-width="0.6"/><path transform="translate(84.4,9.6) rotate(123.4)" d="M-10,0 Q0,-4.5 10,0 Q0,4.5 -10,0Z" fill="#457a4e"/><path transform="translate(84.4,9.6) rotate(123.4)" d="M-9,0 L9,0" stroke="#2a4a30" stroke-width="0.4"/><path transform="translate(92.7,55) rotate(77)" d="M-10.1,0 Q0,-4.9 10.1,0 Q0,4.9 -10.1,0Z" fill="#406f4a"/><path transform="translate(92.7,55) rotate(77)" d="M-9.1,0 L9.1,0" stroke="#2a4a30" stroke-width="0.4"/><path transform="translate(70.8,99.9) rotate(151.4)" d="M-16.5,0 Q0,-8.1 16.5,0 Q0,8.1 -16.5,0Z" fill="#5e9262"/><path transform="translate(70.8,99.9) rotate(151.4)" d="M-14.8,0 L14.8,0" stroke="#2a4a30" stroke-width="0.7"/><path transform="translate(38.1,88.7) rotate(149.4)" d="M-12,0 Q0,-4.8 12,0 Q0,4.8 -12,0Z" fill="#457a4e"/><path transform="translate(38.1,88.7) rotate(149.4)" d="M-10.8,0 L10.8,0" stroke="#2a4a30" stroke-width="0.4"/><path transform="translate(28.4,-4.6) rotate(116.7)" d="M-17.8,0 Q0,-8 17.8,0 Q0,8 -17.8,0Z" fill="#5e9262"/><path transform="translate(28.4,-4.6) rotate(116.7)" d="M-16,0 L16,0" stroke="#2a4a30" stroke-width="0.7"/><path transform="translate(95.2,10.7) rotate(89.6)" d="M-14.8,0 Q0,-6.6 14.8,0 Q0,6.6 -14.8,0Z" fill="#3a6a45"/><path transform="translate(95.2,10.7) rotate(89.6)" d="M-13.3,0 L13.3,0" stroke="#2a4a30" stroke-width="0.6"/><path transform="translate(54.2,41.8) rotate(131.9)" d="M-15.4,0 Q0,-5.7 15.4,0 Q0,5.7 -15.4,0Z" fill="#3a6a45"/><path transform="translate(54.2,41.8) rotate(131.9)" d="M-13.9,0 L13.9,0" stroke="#2a4a30" stroke-width="0.5"/><path transform="translate(85.2,82.1) rotate(130.1)" d="M-16.6,0 Q0,-6 16.6,0 Q0,6 -16.6,0Z" fill="#457a4e"/><path transform="translate(85.2,82.1) rotate(130.1)" d="M-15,0 L15,0" stroke="#2a4a30" stroke-width="0.5"/><path transform="translate(104.8,72.1) rotate(39.5)" d="M-10.5,0 Q0,-5.1 10.5,0 Q0,5.1 -10.5,0Z" fill="#68996a"/><path transform="translate(104.8,72.1) rotate(39.5)" d="M-9.4,0 L9.4,0" stroke="#2a4a30" stroke-width="0.4"/><path transform="translate(85.7,7.2) rotate(127)" d="M-18.9,0 Q0,-9.7 18.9,0 Q0,9.7 -18.9,0Z" fill="#5e9262"/><path transform="translate(85.7,7.2) rotate(127)" d="M-17.1,0 L17.1,0" stroke="#2a4a30" stroke-width="0.8"/><path transform="translate(11.5,62.2) rotate(112)" d="M-14.1,0 Q0,-5.4 14.1,0 Q0,5.4 -14.1,0Z" fill="#457a4e"/><path transform="translate(11.5,62.2) rotate(112)" d="M-12.7,0 L12.7,0" stroke="#2a4a30" stroke-width="0.5"/><path transform="translate(56.1,67.6) rotate(102.8)" d="M-17.5,0 Q0,-7 17.5,0 Q0,7 -17.5,0Z" fill="#457a4e"/><path transform="translate(56.1,67.6) rotate(102.8)" d="M-15.7,0 L15.7,0" stroke="#2a4a30" stroke-width="0.6"/><path transform="translate(76.7,91.6) rotate(56.6)" d="M-11.3,0 Q0,-4.8 11.3,0 Q0,4.8 -11.3,0Z" fill="#406f4a"/><path transform="translate(76.7,91.6) rotate(56.6)" d="M-10.2,0 L10.2,0" stroke="#2a4a30" stroke-width="0.4"/><path transform="translate(55.5,59.6) rotate(58.2)" d="M-7.6,0 Q0,-7.8 7.6,0 Q0,7.8 -7.6,0Z" fill="#e04636"/><path transform="translate(47.7,59.1) rotate(130.2)" d="M-7.6,0 Q0,-7.8 7.6,0 Q0,7.8 -7.6,0Z" fill="#e04636"/><path transform="translate(45.9,51.5) rotate(202.2)" d="M-7.6,0 Q0,-7.8 7.6,0 Q0,7.8 -7.6,0Z" fill="#e04636"/><path transform="translate(52.5,47.4) rotate(274.2)" d="M-7.6,0 Q0,-7.8 7.6,0 Q0,7.8 -7.6,0Z" fill="#e04636"/><path transform="translate(58.4,52.4) rotate(346.2)" d="M-7.6,0 Q0,-7.8 7.6,0 Q0,7.8 -7.6,0Z" fill="#e04636"/><circle cx="52" cy="54" r="1.7" fill="#f0c040"/><path transform="translate(67.9,73.6) rotate(53)" d="M-8.8,0 Q0,-9 8.8,0 Q0,9 -8.8,0Z" fill="#d84232"/><path transform="translate(58.9,73.7) rotate(125)" d="M-8.8,0 Q0,-9 8.8,0 Q0,9 -8.8,0Z" fill="#d84232"/><path transform="translate(56,65.3) rotate(197)" d="M-8.8,0 Q0,-9 8.8,0 Q0,9 -8.8,0Z" fill="#d84232"/><path transform="translate(63.2,59.9) rotate(269)" d="M-8.8,0 Q0,-9 8.8,0 Q0,9 -8.8,0Z" fill="#d84232"/><path transform="translate(70.5,65) rotate(341)" d="M-8.8,0 Q0,-9 8.8,0 Q0,9 -8.8,0Z" fill="#d84232"/><circle cx="63.3" cy="67.5" r="2" fill="#f0c040"/><path transform="translate(53.7,73.7) rotate(47.2)" d="M-7.4,0 Q0,-7.6 7.4,0 Q0,7.6 -7.4,0Z" fill="#ec5440"/><path transform="translate(46.2,74.6) rotate(119.2)" d="M-7.4,0 Q0,-7.6 7.4,0 Q0,7.6 -7.4,0Z" fill="#ec5440"/><path transform="translate(43,67.7) rotate(191.2)" d="M-7.4,0 Q0,-7.6 7.4,0 Q0,7.6 -7.4,0Z" fill="#ec5440"/><path transform="translate(48.6,62.6) rotate(263.2)" d="M-7.4,0 Q0,-7.6 7.4,0 Q0,7.6 -7.4,0Z" fill="#ec5440"/><path transform="translate(55.2,66.3) rotate(335.2)" d="M-7.4,0 Q0,-7.6 7.4,0 Q0,7.6 -7.4,0Z" fill="#ec5440"/><circle cx="49.3" cy="69" r="1.7" fill="#f0c040"/><path transform="translate(49.6,70.6) rotate(6.6)" d="M-7.2,0 Q0,-7.4 7.2,0 Q0,7.4 -7.2,0Z" fill="#ec5440"/><path transform="translate(44.6,76) rotate(78.6)" d="M-7.2,0 Q0,-7.4 7.2,0 Q0,7.4 -7.2,0Z" fill="#ec5440"/><path transform="translate(37.8,72.9) rotate(150.6)" d="M-7.2,0 Q0,-7.4 7.2,0 Q0,7.4 -7.2,0Z" fill="#ec5440"/><path transform="translate(38.7,65.6) rotate(222.6)" d="M-7.2,0 Q0,-7.4 7.2,0 Q0,7.4 -7.2,0Z" fill="#ec5440"/><path transform="translate(46,64.1) rotate(294.6)" d="M-7.2,0 Q0,-7.4 7.2,0 Q0,7.4 -7.2,0Z" fill="#ec5440"/><circle cx="43.3" cy="69.8" r="1.6" fill="#f0c040"/><path transform="translate(46.2,54.1) rotate(17.2)" d="M-7.3,0 Q0,-7.5 7.3,0 Q0,7.5 -7.3,0Z" fill="#d84232"/><path transform="translate(40.2,58.5) rotate(89.2)" d="M-7.3,0 Q0,-7.5 7.3,0 Q0,7.5 -7.3,0Z" fill="#d84232"/><path transform="translate(34,54.2) rotate(161.2)" d="M-7.3,0 Q0,-7.5 7.3,0 Q0,7.5 -7.3,0Z" fill="#d84232"/><path transform="translate(36.3,47.1) rotate(233.2)" d="M-7.3,0 Q0,-7.5 7.3,0 Q0,7.5 -7.3,0Z" fill="#d84232"/><path transform="translate(43.7,47) rotate(305.2)" d="M-7.3,0 Q0,-7.5 7.3,0 Q0,7.5 -7.3,0Z" fill="#d84232"/><circle cx="40.1" cy="52.2" r="1.7" fill="#f0c040"/><path transform="translate(47.8,43.9) rotate(69.4)" d="M-8.8,0 Q0,-9 8.8,0 Q0,9 -8.8,0Z" fill="#d84232"/><path transform="translate(39.1,41.5) rotate(141.4)" d="M-8.8,0 Q0,-9 8.8,0 Q0,9 -8.8,0Z" fill="#d84232"/><path transform="translate(38.7,32.5) rotate(213.4)" d="M-8.8,0 Q0,-9 8.8,0 Q0,9 -8.8,0Z" fill="#d84232"/><path transform="translate(47.1,29.4) rotate(285.4)" d="M-8.8,0 Q0,-9 8.8,0 Q0,9 -8.8,0Z" fill="#d84232"/><path transform="translate(52.7,36.4) rotate(357.4)" d="M-8.8,0 Q0,-9 8.8,0 Q0,9 -8.8,0Z" fill="#d84232"/><circle cx="45.1" cy="36.7" r="2" fill="#f0c040"/><path transform="translate(55.2,43.6) rotate(39)" d="M-7.3,0 Q0,-7.5 7.3,0 Q0,7.5 -7.3,0Z" fill="#ec5440"/><path transform="translate(48,45.5) rotate(111)" d="M-7.3,0 Q0,-7.5 7.3,0 Q0,7.5 -7.3,0Z" fill="#ec5440"/><path transform="translate(44,39.2) rotate(183)" d="M-7.3,0 Q0,-7.5 7.3,0 Q0,7.5 -7.3,0Z" fill="#ec5440"/><path transform="translate(48.6,33.4) rotate(255)" d="M-7.3,0 Q0,-7.5 7.3,0 Q0,7.5 -7.3,0Z" fill="#ec5440"/><path transform="translate(55.6,36.1) rotate(327)" d="M-7.3,0 Q0,-7.5 7.3,0 Q0,7.5 -7.3,0Z" fill="#ec5440"/><circle cx="50.3" cy="39.6" r="1.6" fill="#f0c040"/><path transform="translate(64,41.7) rotate(68)" d="M-7.8,0 Q0,-8 7.8,0 Q0,8 -7.8,0Z" fill="#e04636"/><path transform="translate(56.2,39.8) rotate(140)" d="M-7.8,0 Q0,-8 7.8,0 Q0,8 -7.8,0Z" fill="#e04636"/><path transform="translate(55.7,31.8) rotate(212)" d="M-7.8,0 Q0,-8 7.8,0 Q0,8 -7.8,0Z" fill="#e04636"/><path transform="translate(63.1,28.8) rotate(284)" d="M-7.8,0 Q0,-8 7.8,0 Q0,8 -7.8,0Z" fill="#e04636"/><path transform="translate(68.2,35) rotate(356)" d="M-7.8,0 Q0,-8 7.8,0 Q0,8 -7.8,0Z" fill="#e04636"/><circle cx="61.4" cy="35.4" r="1.8" fill="#f0c040"/></g></g>
<path d="M40.5,226.1 L231,87.3" fill="none" stroke="#e3171c" stroke-width="1.9" stroke-linecap="butt" stroke-linejoin="miter"/>
<path d="M235.5,84 L231.1,91.54 L229.68,88.24 L226.97,85.88 Z" fill="#e3171c"/>
<circle cx="222.5" cy="93.6" r="2.3" fill="#a81818"/>
<circle cx="204.9" cy="106.6" r="2.3" fill="#a81818"/>
<circle cx="170.8" cy="131.7" r="2.3" fill="#a81818"/>
<circle cx="153.8" cy="144.3" r="2.3" fill="#a81818"/>
<circle cx="136.3" cy="156.9" r="2.3" fill="#a81818"/>
<path d="M189,119.5 L285.2,119.5" fill="none" stroke="#a31d25" stroke-width="2.1" stroke-linecap="butt" stroke-linejoin="miter" stroke-dasharray="4 2.6"/>
<path d="M290.6,119.5 L281.6,123.75 L282.95,119.5 L281.6,115.25 Z" fill="#a31d25"/>
<path d="M28.8,219.4 L27.3,236.6 L43.6,238.8 M28.8,227.6 C33.5,228 36.4,231.5 36.4,237.6" fill="none" stroke="#000" stroke-width="2"/>
<path transform="translate(293.6,114.5) scale(1)" d="M0,5.5 C0.9,1.5 2.9,0 5,0 C7.9,0 9.2,3.5 10.2,13 M15.4,0 C12.4,5.5 9.9,11.5 8.7,16.5 C8.2,18.5 8.9,19.3 9.5,17.7 C10,16.1 10.3,14.3 10.2,13" fill="none" stroke="#000" stroke-width="1.7"/>
<text x="310.2" y="128.2" font-size="33" fill="#111" text-anchor="start">(</text>
<text x="321" y="126.8" font-size="29" fill="#111" text-anchor="start" font-style="italic" font-weight="bold">x</text>
<text x="339.6" y="128.2" font-size="33" fill="#111" text-anchor="start">)</text>
<path d="M354.4,120.3 L399.5,120.3" fill="none" stroke="#111" stroke-width="1.7" stroke-linecap="butt" stroke-linejoin="miter"/>
<path d="M399.5,59.5 L399.5,174.2" fill="none" stroke="#111" stroke-width="1.7" stroke-linecap="butt" stroke-linejoin="miter"/>
<path d="M399.5,59.5 L432.1,59.5" fill="none" stroke="#111" stroke-width="1.7" stroke-linecap="butt" stroke-linejoin="miter"/>
<path d="M437.8,59.5 L428.3,63.5 L429.73,59.5 L428.3,55.5 Z" fill="#111"/>
<path d="M399.5,174.2 L462,174.2" fill="none" stroke="#111" stroke-width="1.7" stroke-linecap="butt" stroke-linejoin="miter"/>
<path d="M473,107.5 L473,157.5" fill="none" stroke="#111" stroke-width="1.7" stroke-linecap="butt" stroke-linejoin="miter"/>
<path d="M473,163.2 L469,153.7 L473,155.12 L477,153.7 Z" fill="#111"/>
<path d="M484.3,174.2 L502.1,174.2" fill="none" stroke="#111" stroke-width="1.7" stroke-linecap="butt" stroke-linejoin="miter"/>
<path d="M507.8,174.2 L498.3,178.2 L499.73,174.2 L498.3,170.2 Z" fill="#111"/>
<path d="M472.5,234.7 L472.5,191.1" fill="none" stroke="#111" stroke-width="1.7" stroke-linecap="butt" stroke-linejoin="miter"/>
<path d="M472.5,185.4 L476.5,194.9 L472.5,193.47 L468.5,194.9 Z" fill="#111"/>
<path d="M326.8,140.7 L326.8,270.8 L402.6,270.8" fill="none" stroke="#111" stroke-width="1.7" stroke-linecap="butt" stroke-linejoin="miter"/>
<path d="M408.3,270.8 L398.8,274.8 L400.23,270.8 L398.8,266.8 Z" fill="#111"/>
<path d="M631.6,58.5 L736.1,58.5" fill="none" stroke="#111" stroke-width="1.7" stroke-linecap="butt" stroke-linejoin="miter"/>
<path d="M741.8,58.5 L732.3,62.5 L733.72,58.5 L732.3,54.5 Z" fill="#111"/>
<path d="M702.4,173.8 L737.5,173.8" fill="none" stroke="#111" stroke-width="1.7" stroke-linecap="butt" stroke-linejoin="miter"/>
<path d="M743.2,173.8 L733.7,177.8 L735.12,173.8 L733.7,169.8 Z" fill="#111"/>
<path d="M749.5,69 L749.5,163.4" fill="none" stroke="#111" stroke-width="1.7" stroke-linecap="butt" stroke-linejoin="miter"/>
<path d="M749.5,114.4 L840,114.4" fill="none" stroke="#111" stroke-width="1.7" stroke-linecap="butt" stroke-linejoin="miter"/>
<path d="M845.7,114.4 L836.2,118.4 L837.62,114.4 L836.2,110.4 Z" fill="#111"/>
<rect x="620.7" y="255.7" width="81.7" height="25.8" rx="0" fill="none" stroke="#111" stroke-width="1.6"/>
<text x="635.8" y="276.6" font-size="23.6" fill="#111" text-anchor="start">Mean</text>
<path d="M661.6,255.3 L661.6,230.2" fill="none" stroke="#111" stroke-width="1.7" stroke-linecap="butt" stroke-linejoin="miter"/>
<path d="M661.6,224.5 L665.6,234 L661.6,232.57 L657.6,234 Z" fill="#111"/>
<path d="M661.6,281.3 L661.6,389.4" fill="none" stroke="#111" stroke-width="1.6" stroke-linecap="butt" stroke-linejoin="miter"/>
<path d="M661.6,301.1 L542.5,301.1" fill="none" stroke="#111" stroke-width="1.7" stroke-linecap="butt" stroke-linejoin="miter"/>
<path d="M536.8,301.1 L546.3,297.1 L544.88,301.1 L546.3,305.1 Z" fill="#111"/>
<circle cx="473.1" cy="174.4" r="11" fill="#fff" stroke="#000" stroke-width="1.8"/>
<text x="473.3" y="182.3" font-size="22.5" fill="#111" text-anchor="middle">C</text>
<rect x="437.8" y="11.3" width="193.8" height="96.2" rx="12" fill="none" stroke="#555" stroke-width="0.9" stroke-dasharray="3 2"/>
<rect x="445.3" y="16.3" width="16.7" height="63.6" rx="0" fill="#f5c6a5" stroke="#cf6f38" stroke-width="1.1"/>
<rect x="468.43" y="16.3" width="16.7" height="63.6" rx="0" fill="#f5c6a5" stroke="#cf6f38" stroke-width="1.1"/>
<rect x="491.56" y="16.3" width="16.7" height="63.6" rx="0" fill="#f5c6a5" stroke="#cf6f38" stroke-width="1.1"/>
<rect x="514.69" y="16.3" width="16.7" height="63.6" rx="0" fill="#f5c6a5" stroke="#cf6f38" stroke-width="1.1"/>
<rect x="537.82" y="16.3" width="16.7" height="63.6" rx="0" fill="#f5c6a5" stroke="#cf6f38" stroke-width="1.1"/>
<rect x="560.95" y="16.3" width="16.7" height="63.6" rx="0" fill="#f5c6a5" stroke="#cf6f38" stroke-width="1.1"/>
<rect x="584.08" y="16.3" width="16.7" height="63.6" rx="0" fill="#f5c6a5" stroke="#cf6f38" stroke-width="1.1"/>
<rect x="607.21" y="16.3" width="16.7" height="63.6" rx="0" fill="#f5c6a5" stroke="#cf6f38" stroke-width="1.1"/>
<text x="483" y="100.5" font-size="21.7" fill="#111" text-anchor="start">NeRF MLP</text>
<rect x="508.1" y="128.1" width="194.3" height="96.4" rx="12" fill="none" stroke="#555" stroke-width="0.9" stroke-dasharray="3 2"/>
<rect x="516.1" y="133.2" width="16.7" height="63.6" rx="0" fill="#c6ddb2" stroke="#5e9a44" stroke-width="1.1"/>
<rect x="539.27" y="133.2" width="16.7" height="63.6" rx="0" fill="#c6ddb2" stroke="#5e9a44" stroke-width="1.1"/>
<rect x="562.44" y="133.2" width="16.7" height="63.6" rx="0" fill="#c6ddb2" stroke="#5e9a44" stroke-width="1.1"/>
<rect x="585.61" y="133.2" width="16.7" height="63.6" rx="0" fill="#c6ddb2" stroke="#5e9a44" stroke-width="1.1"/>
<rect x="608.78" y="133.2" width="16.7" height="63.6" rx="0" fill="#c6ddb2" stroke="#5e9a44" stroke-width="1.1"/>
<rect x="631.95" y="133.2" width="16.7" height="63.6" rx="0" fill="#c6ddb2" stroke="#5e9a44" stroke-width="1.1"/>
<rect x="655.12" y="133.2" width="16.7" height="63.6" rx="0" fill="#c6ddb2" stroke="#5e9a44" stroke-width="1.1"/>
<rect x="678.29" y="133.2" width="16.7" height="63.6" rx="0" fill="#c6ddb2" stroke="#5e9a44" stroke-width="1.1"/>
<text x="539.8" y="215.5" font-size="21.8" fill="#111" text-anchor="start">Merge Network</text>
<rect x="408.3" y="234.7" width="128.4" height="96.5" rx="12" fill="none" stroke="#555" stroke-width="0.9" stroke-dasharray="3 2"/>
<rect x="416.1" y="239.5" width="16.7" height="63.9" rx="0" fill="#b9d0e9" stroke="#3b78b8" stroke-width="1.1"/>
<rect x="440.08" y="239.5" width="16.7" height="63.9" rx="0" fill="#b9d0e9" stroke="#3b78b8" stroke-width="1.1"/>
<rect x="464.06" y="239.5" width="16.7" height="63.9" rx="0" fill="#b9d0e9" stroke="#3b78b8" stroke-width="1.1"/>
<rect x="488.04" y="239.5" width="16.7" height="63.9" rx="0" fill="#b9d0e9" stroke="#3b78b8" stroke-width="1.1"/>
<rect x="512.02" y="239.5" width="16.7" height="63.9" rx="0" fill="#b9d0e9" stroke="#3b78b8" stroke-width="1.1"/>
<text x="411" y="323.5" font-size="21.4" fill="#111" text-anchor="start">Style Network</text>
<ellipse cx="750.2" cy="59.4" rx="5.5" ry="4.4" transform="rotate(-32 750.2 59.4)" fill="none" stroke="#000" stroke-width="2.2"/>
<path d="M750.5,53.6 Q755.5,52.6 759.6,53.3" fill="none" stroke="#000" stroke-width="2.3" stroke-linecap="round"/>
<text x="743.2" y="180" font-size="28" fill="#111" text-anchor="start" font-style="italic" font-weight="bold">c</text>
<text x="848.2" y="125.7" font-size="32" fill="#111" text-anchor="start" font-style="italic" font-weight="bold">S</text>
<path d="M781.1,84.6 L781.1,110.1 L830,110.1" fill="none" stroke="#333" stroke-width="1.2" stroke-linecap="butt" stroke-linejoin="miter"/>
<path d="M832,110.1 L829,111.6 L829,110.1 L829,108.6 Z" fill="#333"/>
<path d="M782.9,110 C788,106 790,88 794.3,88.1 C798.5,88.2 799.5,106.6 804.8,106.6 C810,106.6 811.5,93.4 815.9,93.4 C820,93.4 822,108 825,110" fill="none" stroke="url(#vg)" stroke-width="1.4"/>
<text x="773.6" y="83.8" font-size="11" fill="#111" text-anchor="start" font-style="italic" font-weight="bold">σ</text>
<text x="784" y="131.8" font-size="17.6" fill="#111" text-anchor="start">Volume</text>
<text x="773" y="148" font-size="17.7" fill="#111" text-anchor="start">Rendering</text>
<path d="M964.6,530.4 L964.6,114.3 L875.5,114.3" fill="none" stroke="#c45a1e" stroke-width="2.2" stroke-linecap="butt" stroke-linejoin="miter" stroke-dasharray="3.9 2.4"/>
<path d="M869.2,114.3 L879.7,109.3 L876.55,114.3 L879.7,119.3 Z" fill="#c45a1e"/>
<path d="M964.6,530.4 L757.8,530.4" fill="none" stroke="#c45a1e" stroke-width="2.2" stroke-linecap="butt" stroke-linejoin="miter" stroke-dasharray="3.9 2.4"/>
<path d="M751.5,530.4 L762,525.4 L758.85,530.4 L762,535.4 Z" fill="#c45a1e"/>
<path d="M856.8,136.3 L856.8,211.6" fill="none" stroke="#c45a1e" stroke-width="2.2" stroke-linecap="butt" stroke-linejoin="miter" stroke-dasharray="3.9 2.4"/>
<path d="M856.8,217.9 L851.8,207.4 L856.8,210.55 L861.8,207.4 Z" fill="#c45a1e"/>
<path d="M856.8,130 L861.8,140.5 L856.8,137.35 L851.8,140.5 Z" fill="#c45a1e"/>
<path d="M688.3,402.9 L770.2,402.9" fill="none" stroke="#c45a1e" stroke-width="2.2" stroke-linecap="butt" stroke-linejoin="miter" stroke-dasharray="3.9 2.4"/>
<path d="M776.5,402.9 L766,407.9 L769.15,402.9 L766,397.9 Z" fill="#c45a1e"/>
<path d="M682,402.9 L692.5,397.9 L689.35,402.9 L692.5,407.9 Z" fill="#c45a1e"/>
<path d="M757.8,493.8 L780.9,493.8" fill="none" stroke="#c45a1e" stroke-width="2.2" stroke-linecap="butt" stroke-linejoin="miter" stroke-dasharray="3.9 2.4"/>
<path d="M787.2,493.8 L776.7,498.8 L779.85,493.8 L776.7,488.8 Z" fill="#c45a1e"/>
<path d="M751.5,493.8 L762,488.8 L758.85,493.8 L762,498.8 Z" fill="#c45a1e"/>
<g transform="translate(865.2,161.4) scale(0.99)" fill="none" stroke="#c45a1e" stroke-linecap="round"><path d="M15.2,1.2 C14.6,0.1 13.2,-0.1 11.8,0.5 C8.6,1.9 6.2,9.5 3.6,15.2 C2.8,16.9 1.4,17.9 0.3,18.3 C3.2,16.6 6.4,16.9 9.6,17.5 C12.2,18 14.3,16.8 16,14.6" stroke-width="1.9"/><path d="M15.2,1.2 C15.6,2.4 14.9,3.6 13.6,4.0" stroke-width="1.9"/></g>
<text x="881" y="187" font-size="14" fill="#c45a1e" text-anchor="start">tc</text>
<g transform="translate(712.4,373.5) scale(0.99)" fill="none" stroke="#c45a1e" stroke-linecap="round"><path d="M15.2,1.2 C14.6,0.1 13.2,-0.1 11.8,0.5 C8.6,1.9 6.2,9.5 3.6,15.2 C2.8,16.9 1.4,17.9 0.3,18.3 C3.2,16.6 6.4,16.9 9.6,17.5 C12.2,18 14.3,16.8 16,14.6" stroke-width="1.9"/><path d="M15.2,1.2 C15.6,2.4 14.9,3.6 13.6,4.0" stroke-width="1.9"/></g>
<text x="729.3" y="399.5" font-size="14.5" fill="#c45a1e" text-anchor="start">rec</text>
<g transform="translate(787.2,536.2) scale(0.99)" fill="none" stroke="#c45a1e" stroke-linecap="round"><path d="M15.2,1.2 C14.6,0.1 13.2,-0.1 11.8,0.5 C8.6,1.9 6.2,9.5 3.6,15.2 C2.8,16.9 1.4,17.9 0.3,18.3 C3.2,16.6 6.4,16.9 9.6,17.5 C12.2,18 14.3,16.8 16,14.6" stroke-width="1.9"/><path d="M15.2,1.2 C15.6,2.4 14.9,3.6 13.6,4.0" stroke-width="1.9"/></g>
<text x="803.5" y="561" font-size="14" fill="#c45a1e" text-anchor="start">rgb</text>
<g transform="translate(788.3,481.7) scale(0.99)" fill="none" stroke="#c45a1e" stroke-linecap="round"><path d="M15.2,1.2 C14.6,0.1 13.2,-0.1 11.8,0.5 C8.6,1.9 6.2,9.5 3.6,15.2 C2.8,16.9 1.4,17.9 0.3,18.3 C3.2,16.6 6.4,16.9 9.6,17.5 C12.2,18 14.3,16.8 16,14.6" stroke-width="1.9"/><path d="M15.2,1.2 C15.6,2.4 14.9,3.6 13.6,4.0" stroke-width="1.9"/></g>
<text x="804.6" y="507.5" font-size="14" fill="#c45a1e" text-anchor="start">c</text>
<g transform="translate(813.1,481.7) scale(0.99)" fill="none" stroke="#c45a1e" stroke-linecap="round"><path d="M15.2,1.2 C14.6,0.1 13.2,-0.1 11.8,0.5 C8.6,1.9 6.2,9.5 3.6,15.2 C2.8,16.9 1.4,17.9 0.3,18.3 C3.2,16.6 6.4,16.9 9.6,17.5 C12.2,18 14.3,16.8 16,14.6" stroke-width="1.9"/><path d="M15.2,1.2 C15.6,2.4 14.9,3.6 13.6,4.0" stroke-width="1.9"/></g>
<text x="829.5" y="507.5" font-size="14" fill="#c45a1e" text-anchor="start">s</text>
<g transform="translate(838.8,481.7) scale(0.99)" fill="none" stroke="#c45a1e" stroke-linecap="round"><path d="M15.2,1.2 C14.6,0.1 13.2,-0.1 11.8,0.5 C8.6,1.9 6.2,9.5 3.6,15.2 C2.8,16.9 1.4,17.9 0.3,18.3 C3.2,16.6 6.4,16.9 9.6,17.5 C12.2,18 14.3,16.8 16,14.6" stroke-width="1.9"/><path d="M15.2,1.2 C15.6,2.4 14.9,3.6 13.6,4.0" stroke-width="1.9"/></g>
<text x="855.6" y="507.5" font-size="14" fill="#c45a1e" text-anchor="start">id1</text>
<g transform="translate(875.1,481.7) scale(0.99)" fill="none" stroke="#c45a1e" stroke-linecap="round"><path d="M15.2,1.2 C14.6,0.1 13.2,-0.1 11.8,0.5 C8.6,1.9 6.2,9.5 3.6,15.2 C2.8,16.9 1.4,17.9 0.3,18.3 C3.2,16.6 6.4,16.9 9.6,17.5 C12.2,18 14.3,16.8 16,14.6" stroke-width="1.9"/><path d="M15.2,1.2 C15.6,2.4 14.9,3.6 13.6,4.0" stroke-width="1.9"/></g>
<text x="892.2" y="507.5" font-size="14" fill="#c45a1e" text-anchor="start">id2</text>
<g transform="translate(913.4,481.7) scale(0.99)" fill="none" stroke="#c45a1e" stroke-linecap="round"><path d="M15.2,1.2 C14.6,0.1 13.2,-0.1 11.8,0.5 C8.6,1.9 6.2,9.5 3.6,15.2 C2.8,16.9 1.4,17.9 0.3,18.3 C3.2,16.6 6.4,16.9 9.6,17.5 C12.2,18 14.3,16.8 16,14.6" stroke-width="1.9"/><path d="M15.2,1.2 C15.6,2.4 14.9,3.6 13.6,4.0" stroke-width="1.9"/></g>
<text x="930.4" y="507.5" font-size="14" fill="#c45a1e" text-anchor="start">warp</text>
<text x="798.6" y="240.4" font-size="20" font-style="italic" textLength="64.5" lengthAdjust="spacing">CosSim</text>
<text x="863.6" y="242" font-size="20.5" fill="#111" text-anchor="start">(</text>
<text x="871" y="240.4" font-size="19" fill="#111" text-anchor="start" font-style="italic" font-weight="bold">I</text>
<text x="880" y="242.6" font-size="12.5" fill="#111" text-anchor="start" font-style="italic">t</text>
<text x="885.6" y="240.4" font-size="19" fill="#111" text-anchor="start">,</text>
<text x="894.2" y="240.4" font-size="19" fill="#111" text-anchor="start" font-style="italic" font-weight="bold">I</text>
<text x="903.6" y="242.6" font-size="12.5" fill="#111" text-anchor="start" font-style="italic">t−1</text>
<text x="925" y="242" font-size="20.5" fill="#111" text-anchor="start">)</text>
<g transform="translate(791.5,248.1)" clip-path="url(#c3)"><rect width="72.1" height="54.3" fill="#223526"/><path transform="translate(9.5,38.5) rotate(38.9)" d="M-16.3,0 Q0,-7.8 16.3,0 Q0,7.8 -16.3,0Z" fill="#1a2a1d"/><path transform="translate(60.5,27.9) rotate(0.6)" d="M-15,0 Q0,-6.6 15,0 Q0,6.6 -15,0Z" fill="#2a4830"/><path transform="translate(70.4,22.9) rotate(165.9)" d="M-11.5,0 Q0,-6.1 11.5,0 Q0,6.1 -11.5,0Z" fill="#2f5236"/><path transform="translate(31,56.7) rotate(79.5)" d="M-17.6,0 Q0,-8.2 17.6,0 Q0,8.2 -17.6,0Z" fill="#2a4830"/><path transform="translate(39.2,38.7) rotate(4.2)" d="M-16.4,0 Q0,-9.2 16.4,0 Q0,9.2 -16.4,0Z" fill="#2f5236"/><path transform="translate(6.3,52.7) rotate(61.7)" d="M-14.5,0 Q0,-7.2 14.5,0 Q0,7.2 -14.5,0Z" fill="#1a2a1d"/><path transform="translate(8.4,37) rotate(13.4)" d="M-14.7,0 Q0,-7.9 14.7,0 Q0,7.9 -14.7,0Z" fill="#3a6643"/><path transform="translate(12.9,55.1) rotate(137.3)" d="M-18.8,0 Q0,-9.9 18.8,0 Q0,9.9 -18.8,0Z" fill="#2f5236"/><path transform="translate(6.1,25.7) rotate(166.2)" d="M-18.1,0 Q0,-7.9 18.1,0 Q0,7.9 -18.1,0Z" fill="#1a2a1d"/><path transform="translate(19.6,54.3) rotate(87.2)" d="M-15,0 Q0,-6.8 15,0 Q0,6.8 -15,0Z" fill="#2a4830"/><path transform="translate(-1.5,2.9) rotate(89.3)" d="M-17.1,0 Q0,-9.7 17.1,0 Q0,9.7 -17.1,0Z" fill="#1a2a1d"/><path transform="translate(2,33.1) rotate(57.4)" d="M-15.2,0 Q0,-7.5 15.2,0 Q0,7.5 -15.2,0Z" fill="#2f5236"/><path transform="translate(10.7,7.4) rotate(62.4)" d="M-13.5,0 Q0,-7.5 13.5,0 Q0,7.5 -13.5,0Z" fill="#2a4830"/><path transform="translate(15.9,7.4) rotate(77.2)" d="M-19.1,0 Q0,-8.2 19.1,0 Q0,8.2 -19.1,0Z" fill="#3a6643"/><path transform="translate(50.6,37.7) rotate(73.3)" d="M-18.8,0 Q0,-10.6 18.8,0 Q0,10.6 -18.8,0Z" fill="#3a6643"/><path transform="translate(72.6,32.6) rotate(67.6)" d="M-18.7,0 Q0,-9 18.7,0 Q0,9 -18.7,0Z" fill="#3a6643"/><path transform="translate(70.7,12) rotate(73.3)" d="M-15.6,0 Q0,-7.4 15.6,0 Q0,7.4 -15.6,0Z" fill="#1a2a1d"/><path transform="translate(0.9,14.5) rotate(6.3)" d="M-18.4,0 Q0,-9.4 18.4,0 Q0,9.4 -18.4,0Z" fill="#3a6643"/><path transform="translate(9.9,1.4) rotate(177)" d="M-13.4,0 Q0,-7.4 13.4,0 Q0,7.4 -13.4,0Z" fill="#1a2a1d"/><path transform="translate(0.3,5.6) rotate(86.2)" d="M-16.4,0 Q0,-9.1 16.4,0 Q0,9.1 -16.4,0Z" fill="#3a6643"/><path transform="translate(67.7,19.1) rotate(139.1)" d="M-11.6,0 Q0,-5.4 11.6,0 Q0,5.4 -11.6,0Z" fill="#1a2a1d"/><path transform="translate(42.5,48) rotate(49.7)" d="M-13.1,0 Q0,-6.4 13.1,0 Q0,6.4 -13.1,0Z" fill="#2f5236"/><path transform="translate(26.7,4.8) rotate(58.7)" d="M-17.1,0 Q0,-7.6 17.1,0 Q0,7.6 -17.1,0Z" fill="#3a6643"/><path transform="translate(63.9,32.2) rotate(172.6)" d="M-12.6,0 Q0,-5.9 12.6,0 Q0,5.9 -12.6,0Z" fill="#3a6643"/><path transform="translate(7,2.9) rotate(80.4)" d="M-11,0 Q0,-4.4 11,0 Q0,4.4 -11,0Z" fill="#3a6643"/><path transform="translate(2.1,4.4) rotate(169.6)" d="M-12.8,0 Q0,-5.8 12.8,0 Q0,5.8 -12.8,0Z" fill="#1a2a1d"/><path transform="translate(35.6,10.4) rotate(68)" d="M-8.4,0 Q0,-3.3 8.4,0 Q0,3.3 -8.4,0Z" fill="#68996a"/><path transform="translate(35.6,10.4) rotate(68)" d="M-7.6,0 L7.6,0" stroke="#2a4a30" stroke-width="0.4"/><path transform="translate(55.4,42.5) rotate(134.2)" d="M-11.6,0 Q0,-5.1 11.6,0 Q0,5.1 -11.6,0Z" fill="#457a4e"/><path transform="translate(55.4,42.5) rotate(134.2)" d="M-10.4,0 L10.4,0" stroke="#2a4a30" stroke-width="0.4"/><path transform="translate(59.1,-2.2) rotate(137.5)" d="M-10.6,0 Q0,-3.9 10.6,0 Q0,3.9 -10.6,0Z" fill="#52875a"/><path transform="translate(59.1,-2.2) rotate(137.5)" d="M-9.5,0 L9.5,0" stroke="#2a4a30" stroke-width="0.4"/><path transform="translate(64.2,11.2) rotate(134.2)" d="M-14.2,0 Q0,-6.4 14.2,0 Q0,6.4 -14.2,0Z" fill="#52875a"/><path transform="translate(64.2,11.2) rotate(134.2)" d="M-12.7,0 L12.7,0" stroke="#2a4a30" stroke-width="0.5"/><path transform="translate(27.2,15.8) rotate(90.6)" d="M-13.7,0 Q0,-5.5 13.7,0 Q0,5.5 -13.7,0Z" fill="#406f4a"/><path transform="translate(27.2,15.8) rotate(90.6)" d="M-12.3,0 L12.3,0" stroke="#2a4a30" stroke-width="0.5"/><path transform="translate(35.3,31.5) rotate(107.1)" d="M-11.1,0 Q0,-4.1 11.1,0 Q0,4.1 -11.1,0Z" fill="#3a6a45"/><path transform="translate(35.3,31.5) rotate(107.1)" d="M-10,0 L10,0" stroke="#2a4a30" stroke-width="0.4"/><path transform="translate(73.1,15.8) rotate(100.9)" d="M-12.3,0 Q0,-5.4 12.3,0 Q0,5.4 -12.3,0Z" fill="#457a4e"/><path transform="translate(73.1,15.8) rotate(100.9)" d="M-11,0 L11,0" stroke="#2a4a30" stroke-width="0.5"/><path transform="translate(45.3,16.7) rotate(118.4)" d="M-8.7,0 Q0,-3.2 8.7,0 Q0,3.2 -8.7,0Z" fill="#5e9262"/><path transform="translate(45.3,16.7) rotate(118.4)" d="M-7.8,0 L7.8,0" stroke="#2a4a30" stroke-width="0.4"/><path transform="translate(4.9,1.8) rotate(136.8)" d="M-7.7,0 Q0,-3.7 7.7,0 Q0,3.7 -7.7,0Z" fill="#5e9262"/><path transform="translate(4.9,1.8) rotate(136.8)" d="M-7,0 L7,0" stroke="#2a4a30" stroke-width="0.4"/><path transform="translate(36.4,53.9) rotate(84.8)" d="M-12.1,0 Q0,-5.7 12.1,0 Q0,5.7 -12.1,0Z" fill="#406f4a"/><path transform="translate(36.4,53.9) rotate(84.8)" d="M-10.9,0 L10.9,0" stroke="#2a4a30" stroke-width="0.5"/><path transform="translate(27.3,21.3) rotate(78.1)" d="M-8.8,0 Q0,-3.2 8.8,0 Q0,3.2 -8.8,0Z" fill="#52875a"/><path transform="translate(27.3,21.3) rotate(78.1)" d="M-8,0 L8,0" stroke="#2a4a30" stroke-width="0.4"/><path transform="translate(18.3,32.5) rotate(143.6)" d="M-10.1,0 Q0,-4.3 10.1,0 Q0,4.3 -10.1,0Z" fill="#5e9262"/><path transform="translate(18.3,32.5) rotate(143.6)" d="M-9.1,0 L9.1,0" stroke="#2a4a30" stroke-width="0.4"/><path transform="translate(27,26.4) rotate(15.4)" d="M-11.8,0 Q0,-6 11.8,0 Q0,6 -11.8,0Z" fill="#5e9262"/><path transform="translate(27,26.4) rotate(15.4)" d="M-10.6,0 L10.6,0" stroke="#2a4a30" stroke-width="0.5"/><path transform="translate(10.1,19.6) rotate(81)" d="M-11.6,0 Q0,-4.5 11.6,0 Q0,4.5 -11.6,0Z" fill="#68996a"/><path transform="translate(10.1,19.6) rotate(81)" d="M-10.4,0 L10.4,0" stroke="#2a4a30" stroke-width="0.4"/><path transform="translate(56.6,37.2) rotate(122.9)" d="M-13.4,0 Q0,-6.3 13.4,0 Q0,6.3 -13.4,0Z" fill="#52875a"/><path transform="translate(56.6,37.2) rotate(122.9)" d="M-12.1,0 L12.1,0" stroke="#2a4a30" stroke-width="0.5"/><path transform="translate(34.6,27.1) rotate(94.4)" d="M-9.4,0 Q0,-3.9 9.4,0 Q0,3.9 -9.4,0Z" fill="#68996a"/><path transform="translate(34.6,27.1) rotate(94.4)" d="M-8.5,0 L8.5,0" stroke="#2a4a30" stroke-width="0.4"/><path transform="translate(74.8,-2.3) rotate(70.4)" d="M-9.5,0 Q0,-3.9 9.5,0 Q0,3.9 -9.5,0Z" fill="#52875a"/><path transform="translate(74.8,-2.3) rotate(70.4)" d="M-8.5,0 L8.5,0" stroke="#2a4a30" stroke-width="0.4"/><path transform="translate(3.6,7.8) rotate(67.6)" d="M-11,0 Q0,-5 11,0 Q0,5 -11,0Z" fill="#68996a"/><path transform="translate(3.6,7.8) rotate(67.6)" d="M-9.9,0 L9.9,0" stroke="#2a4a30" stroke-width="0.4"/><path transform="translate(33.1,3.7) rotate(37)" d="M-14.1,0 Q0,-6.6 14.1,0 Q0,6.6 -14.1,0Z" fill="#3a6a45"/><path transform="translate(33.1,3.7) rotate(37)" d="M-12.7,0 L12.7,0" stroke="#2a4a30" stroke-width="0.6"/><path transform="translate(25.9,32) rotate(5.1)" d="M-8.6,0 Q0,-3.2 8.6,0 Q0,3.2 -8.6,0Z" fill="#406f4a"/><path transform="translate(25.9,32) rotate(5.1)" d="M-7.7,0 L7.7,0" stroke="#2a4a30" stroke-width="0.4"/><path transform="translate(16.6,47.8) rotate(36)" d="M-8.3,0 Q0,-3.9 8.3,0 Q0,3.9 -8.3,0Z" fill="#406f4a"/><path transform="translate(16.6,47.8) rotate(36)" d="M-7.5,0 L7.5,0" stroke="#2a4a30" stroke-width="0.4"/><path transform="translate(51,40.1) rotate(72.3)" d="M-8.3,0 Q0,-3.5 8.3,0 Q0,3.5 -8.3,0Z" fill="#5e9262"/><path transform="translate(51,40.1) rotate(72.3)" d="M-7.5,0 L7.5,0" stroke="#2a4a30" stroke-width="0.4"/><path transform="translate(45.3,14) rotate(49)" d="M-8.5,0 Q0,-3.5 8.5,0 Q0,3.5 -8.5,0Z" fill="#52875a"/><path transform="translate(45.3,14) rotate(49)" d="M-7.6,0 L7.6,0" stroke="#2a4a30" stroke-width="0.4"/><path transform="translate(73.7,10.1) rotate(157)" d="M-9.7,0 Q0,-4.4 9.7,0 Q0,4.4 -9.7,0Z" fill="#3a6a45"/><path transform="translate(73.7,10.1) rotate(157)" d="M-8.8,0 L8.8,0" stroke="#2a4a30" stroke-width="0.4"/><path transform="translate(-2.1,27.2) rotate(126.1)" d="M-7.5,0 Q0,-3.4 7.5,0 Q0,3.4 -7.5,0Z" fill="#52875a"/><path transform="translate(-2.1,27.2) rotate(126.1)" d="M-6.7,0 L6.7,0" stroke="#2a4a30" stroke-width="0.4"/><path transform="translate(75,53.5) rotate(34.3)" d="M-8.3,0 Q0,-4.2 8.3,0 Q0,4.2 -8.3,0Z" fill="#3a6a45"/><path transform="translate(75,53.5) rotate(34.3)" d="M-7.4,0 L7.4,0" stroke="#2a4a30" stroke-width="0.4"/><path transform="translate(67.3,19.4) rotate(148)" d="M-8.2,0 Q0,-3.9 8.2,0 Q0,3.9 -8.2,0Z" fill="#406f4a"/><path transform="translate(67.3,19.4) rotate(148)" d="M-7.4,0 L7.4,0" stroke="#2a4a30" stroke-width="0.4"/><path transform="translate(63.1,15.7) rotate(44)" d="M-10.2,0 Q0,-5.1 10.2,0 Q0,5.1 -10.2,0Z" fill="#406f4a"/><path transform="translate(63.1,15.7) rotate(44)" d="M-9.2,0 L9.2,0" stroke="#2a4a30" stroke-width="0.4"/><path transform="translate(60,47.7) rotate(3.2)" d="M-13.9,0 Q0,-6.9 13.9,0 Q0,6.9 -13.9,0Z" fill="#406f4a"/><path transform="translate(60,47.7) rotate(3.2)" d="M-12.5,0 L12.5,0" stroke="#2a4a30" stroke-width="0.6"/><path transform="translate(2.2,23.3) rotate(118.5)" d="M-13.2,0 Q0,-6.8 13.2,0 Q0,6.8 -13.2,0Z" fill="#52875a"/><path transform="translate(2.2,23.3) rotate(118.5)" d="M-11.9,0 L11.9,0" stroke="#2a4a30" stroke-width="0.6"/><path transform="translate(1.1,46) rotate(84.8)" d="M-11.6,0 Q0,-5.3 11.6,0 Q0,5.3 -11.6,0Z" fill="#68996a"/><path transform="translate(1.1,46) rotate(84.8)" d="M-10.4,0 L10.4,0" stroke="#2a4a30" stroke-width="0.4"/><path transform="translate(23.2,13.4) rotate(112.9)" d="M-9.8,0 Q0,-4 9.8,0 Q0,4 -9.8,0Z" fill="#457a4e"/><path transform="translate(23.2,13.4) rotate(112.9)" d="M-8.8,0 L8.8,0" stroke="#2a4a30" stroke-width="0.4"/><path transform="translate(49.4,8.4) rotate(64.8)" d="M-7.9,0 Q0,-3.9 7.9,0 Q0,3.9 -7.9,0Z" fill="#3a6a45"/><path transform="translate(49.4,8.4) rotate(64.8)" d="M-7.1,0 L7.1,0" stroke="#2a4a30" stroke-width="0.4"/><path transform="translate(1.1,-0.5) rotate(117.6)" d="M-10.8,0 Q0,-5 10.8,0 Q0,5 -10.8,0Z" fill="#52875a"/><path transform="translate(1.1,-0.5) rotate(117.6)" d="M-9.7,0 L9.7,0" stroke="#2a4a30" stroke-width="0.4"/><path transform="translate(-1,11.2) rotate(35.8)" d="M-9.8,0 Q0,-3.9 9.8,0 Q0,3.9 -9.8,0Z" fill="#52875a"/><path transform="translate(-1,11.2) rotate(35.8)" d="M-8.8,0 L8.8,0" stroke="#2a4a30" stroke-width="0.4"/><path transform="translate(54.1,28.6) rotate(38.5)" d="M-7.8,0 Q0,-3.8 7.8,0 Q0,3.8 -7.8,0Z" fill="#457a4e"/><path transform="translate(54.1,28.6) rotate(38.5)" d="M-7,0 L7,0" stroke="#2a4a30" stroke-width="0.4"/><path transform="translate(54.1,33.5) rotate(3.8)" d="M-11.8,0 Q0,-5.4 11.8,0 Q0,5.4 -11.8,0Z" fill="#3a6a45"/><path transform="translate(54.1,33.5) rotate(3.8)" d="M-10.6,0 L10.6,0" stroke="#2a4a30" stroke-width="0.5"/><path transform="translate(35.6,7) rotate(163.1)" d="M-13.3,0 Q0,-6.4 13.3,0 Q0,6.4 -13.3,0Z" fill="#68996a"/><path transform="translate(35.6,7) rotate(163.1)" d="M-12,0 L12,0" stroke="#2a4a30" stroke-width="0.5"/><path transform="translate(0.8,38) rotate(108.6)" d="M-11.9,0 Q0,-5.4 11.9,0 Q0,5.4 -11.9,0Z" fill="#457a4e"/><path transform="translate(0.8,38) rotate(108.6)" d="M-10.7,0 L10.7,0" stroke="#2a4a30" stroke-width="0.5"/><path transform="translate(73.3,20.6) rotate(142.9)" d="M-14,0 Q0,-7 14,0 Q0,7 -14,0Z" fill="#457a4e"/><path transform="translate(73.3,20.6) rotate(142.9)" d="M-12.6,0 L12.6,0" stroke="#2a4a30" stroke-width="0.6"/><path transform="translate(46.1,28.9) rotate(17.3)" d="M-6.9,0 Q0,-7.1 6.9,0 Q0,7.1 -6.9,0Z" fill="#ec5440"/><path transform="translate(40.5,33.1) rotate(89.3)" d="M-6.9,0 Q0,-7.1 6.9,0 Q0,7.1 -6.9,0Z" fill="#ec5440"/><path transform="translate(34.7,29.1) rotate(161.3)" d="M-6.9,0 Q0,-7.1 6.9,0 Q0,7.1 -6.9,0Z" fill="#ec5440"/><path transform="translate(36.8,22.3) rotate(233.3)" d="M-6.9,0 Q0,-7.1 6.9,0 Q0,7.1 -6.9,0Z" fill="#ec5440"/><path transform="translate(43.8,22.3) rotate(305.3)" d="M-6.9,0 Q0,-7.1 6.9,0 Q0,7.1 -6.9,0Z" fill="#ec5440"/><circle cx="40.4" cy="27.1" r="1.6" fill="#f0c040"/><path transform="translate(52.3,35.4) rotate(38.9)" d="M-6.4,0 Q0,-6.5 6.4,0 Q0,6.5 -6.4,0Z" fill="#f06448"/><path transform="translate(46,37.1) rotate(110.9)" d="M-6.4,0 Q0,-6.5 6.4,0 Q0,6.5 -6.4,0Z" fill="#f06448"/><path transform="translate(42.4,31.7) rotate(182.9)" d="M-6.4,0 Q0,-6.5 6.4,0 Q0,6.5 -6.4,0Z" fill="#f06448"/><path transform="translate(46.5,26.6) rotate(254.9)" d="M-6.4,0 Q0,-6.5 6.4,0 Q0,6.5 -6.4,0Z" fill="#f06448"/><path transform="translate(52.6,28.9) rotate(326.9)" d="M-6.4,0 Q0,-6.5 6.4,0 Q0,6.5 -6.4,0Z" fill="#f06448"/><circle cx="48" cy="32" r="1.4" fill="#f0c040"/><path transform="translate(47.5,39.9) rotate(41.2)" d="M-6.7,0 Q0,-6.9 6.7,0 Q0,6.9 -6.7,0Z" fill="#f06448"/><path transform="translate(40.8,41.4) rotate(113.2)" d="M-6.7,0 Q0,-6.9 6.7,0 Q0,6.9 -6.7,0Z" fill="#f06448"/><path transform="translate(37.3,35.5) rotate(185.2)" d="M-6.7,0 Q0,-6.9 6.7,0 Q0,6.9 -6.7,0Z" fill="#f06448"/><path transform="translate(41.8,30.4) rotate(257.2)" d="M-6.7,0 Q0,-6.9 6.7,0 Q0,6.9 -6.7,0Z" fill="#f06448"/><path transform="translate(48.1,33.1) rotate(329.2)" d="M-6.7,0 Q0,-6.9 6.7,0 Q0,6.9 -6.7,0Z" fill="#f06448"/><circle cx="43.1" cy="36.1" r="1.5" fill="#f0c040"/><path transform="translate(35.6,37.7) rotate(68.7)" d="M-7,0 Q0,-7.1 7,0 Q0,7.1 -7,0Z" fill="#d84232"/><path transform="translate(28.7,35.9) rotate(140.7)" d="M-7,0 Q0,-7.1 7,0 Q0,7.1 -7,0Z" fill="#d84232"/><path transform="translate(28.3,28.8) rotate(212.7)" d="M-7,0 Q0,-7.1 7,0 Q0,7.1 -7,0Z" fill="#d84232"/><path transform="translate(35,26.2) rotate(284.7)" d="M-7,0 Q0,-7.1 7,0 Q0,7.1 -7,0Z" fill="#d84232"/><path transform="translate(39.5,31.7) rotate(356.7)" d="M-7,0 Q0,-7.1 7,0 Q0,7.1 -7,0Z" fill="#d84232"/><circle cx="33.4" cy="32" r="1.6" fill="#f0c040"/><path transform="translate(33.7,29) rotate(53.4)" d="M-6.6,0 Q0,-6.8 6.6,0 Q0,6.8 -6.6,0Z" fill="#e04636"/><path transform="translate(27,29) rotate(125.4)" d="M-6.6,0 Q0,-6.8 6.6,0 Q0,6.8 -6.6,0Z" fill="#e04636"/><path transform="translate(24.8,22.6) rotate(197.4)" d="M-6.6,0 Q0,-6.8 6.6,0 Q0,6.8 -6.6,0Z" fill="#e04636"/><path transform="translate(30.2,18.6) rotate(269.4)" d="M-6.6,0 Q0,-6.8 6.6,0 Q0,6.8 -6.6,0Z" fill="#e04636"/><path transform="translate(35.7,22.5) rotate(341.4)" d="M-6.6,0 Q0,-6.8 6.6,0 Q0,6.8 -6.6,0Z" fill="#e04636"/><circle cx="30.3" cy="24.4" r="1.5" fill="#f0c040"/><path transform="translate(35.9,26) rotate(64.4)" d="M-5.8,0 Q0,-5.9 5.8,0 Q0,5.9 -5.8,0Z" fill="#f06448"/><path transform="translate(30.1,25) rotate(136.4)" d="M-5.8,0 Q0,-5.9 5.8,0 Q0,5.9 -5.8,0Z" fill="#f06448"/><path transform="translate(29.3,19.1) rotate(208.4)" d="M-5.8,0 Q0,-5.9 5.8,0 Q0,5.9 -5.8,0Z" fill="#f06448"/><path transform="translate(34.7,16.5) rotate(280.4)" d="M-5.8,0 Q0,-5.9 5.8,0 Q0,5.9 -5.8,0Z" fill="#f06448"/><path transform="translate(38.8,20.8) rotate(352.4)" d="M-5.8,0 Q0,-5.9 5.8,0 Q0,5.9 -5.8,0Z" fill="#f06448"/><circle cx="33.8" cy="21.5" r="1.3" fill="#f0c040"/><path transform="translate(45.8,19.5) rotate(11.6)" d="M-6.2,0 Q0,-6.4 6.2,0 Q0,6.4 -6.2,0Z" fill="#ec5440"/><path transform="translate(41.1,23.8) rotate(83.6)" d="M-6.2,0 Q0,-6.4 6.2,0 Q0,6.4 -6.2,0Z" fill="#ec5440"/><path transform="translate(35.5,20.6) rotate(155.6)" d="M-6.2,0 Q0,-6.4 6.2,0 Q0,6.4 -6.2,0Z" fill="#ec5440"/><path transform="translate(36.8,14.4) rotate(227.6)" d="M-6.2,0 Q0,-6.4 6.2,0 Q0,6.4 -6.2,0Z" fill="#ec5440"/><path transform="translate(43.1,13.7) rotate(299.6)" d="M-6.2,0 Q0,-6.4 6.2,0 Q0,6.4 -6.2,0Z" fill="#ec5440"/><circle cx="40.5" cy="18.4" r="1.4" fill="#f0c040"/><path transform="translate(51.8,23.4) rotate(55.5)" d="M-6.5,0 Q0,-6.6 6.5,0 Q0,6.6 -6.5,0Z" fill="#d84232"/><path transform="translate(45.2,23.3) rotate(127.5)" d="M-6.5,0 Q0,-6.6 6.5,0 Q0,6.6 -6.5,0Z" fill="#d84232"/><path transform="translate(43.3,16.9) rotate(199.5)" d="M-6.5,0 Q0,-6.6 6.5,0 Q0,6.6 -6.5,0Z" fill="#d84232"/><path transform="translate(48.8,13.2) rotate(271.5)" d="M-6.5,0 Q0,-6.6 6.5,0 Q0,6.6 -6.5,0Z" fill="#d84232"/><path transform="translate(54,17.2) rotate(343.5)" d="M-6.5,0 Q0,-6.6 6.5,0 Q0,6.6 -6.5,0Z" fill="#d84232"/><circle cx="48.6" cy="18.8" r="1.5" fill="#f0c040"/></g>
<g transform="translate(865.4,248.1)" clip-path="url(#c4)"><rect width="72.4" height="54.3" fill="#223526"/><path transform="translate(72.7,5.7) rotate(33.2)" d="M-10.4,0 Q0,-5.9 10.4,0 Q0,5.9 -10.4,0Z" fill="#2f5236"/><path transform="translate(55.3,49.8) rotate(48.5)" d="M-17.9,0 Q0,-7.4 17.9,0 Q0,7.4 -17.9,0Z" fill="#2f5236"/><path transform="translate(21.8,33.2) rotate(166.3)" d="M-19.2,0 Q0,-9.9 19.2,0 Q0,9.9 -19.2,0Z" fill="#2f5236"/><path transform="translate(42.3,-1.4) rotate(32.5)" d="M-12.7,0 Q0,-6 12.7,0 Q0,6 -12.7,0Z" fill="#2f5236"/><path transform="translate(42.8,53.3) rotate(101.9)" d="M-17.7,0 Q0,-10 17.7,0 Q0,10 -17.7,0Z" fill="#2a4830"/><path transform="translate(45.1,12.7) rotate(140.6)" d="M-19.5,0 Q0,-8.8 19.5,0 Q0,8.8 -19.5,0Z" fill="#3a6643"/><path transform="translate(18.6,13.4) rotate(61.6)" d="M-16.9,0 Q0,-8 16.9,0 Q0,8 -16.9,0Z" fill="#2f5236"/><path transform="translate(29.8,12.3) rotate(71.5)" d="M-12.9,0 Q0,-7.1 12.9,0 Q0,7.1 -12.9,0Z" fill="#3a6643"/><path transform="translate(20.9,19.6) rotate(107.2)" d="M-15.8,0 Q0,-7.1 15.8,0 Q0,7.1 -15.8,0Z" fill="#1a2a1d"/><path transform="translate(56.7,51) rotate(79.9)" d="M-14.3,0 Q0,-5.9 14.3,0 Q0,5.9 -14.3,0Z" fill="#2f5236"/><path transform="translate(30.8,21.3) rotate(92.2)" d="M-19.2,0 Q0,-10.8 19.2,0 Q0,10.8 -19.2,0Z" fill="#1a2a1d"/><path transform="translate(-3.1,24.7) rotate(67.7)" d="M-12,0 Q0,-4.9 12,0 Q0,4.9 -12,0Z" fill="#3a6643"/><path transform="translate(22.5,18.6) rotate(96.4)" d="M-12,0 Q0,-4.9 12,0 Q0,4.9 -12,0Z" fill="#3a6643"/><path transform="translate(48.6,3.3) rotate(26.6)" d="M-12,0 Q0,-5.1 12,0 Q0,5.1 -12,0Z" fill="#1a2a1d"/><path transform="translate(-0.2,4.5) rotate(51.2)" d="M-17.1,0 Q0,-7.2 17.1,0 Q0,7.2 -17.1,0Z" fill="#1a2a1d"/><path transform="translate(34.3,1.2) rotate(19.9)" d="M-17.1,0 Q0,-9.6 17.1,0 Q0,9.6 -17.1,0Z" fill="#2a4830"/><path transform="translate(71.5,-1.6) rotate(61.3)" d="M-15,0 Q0,-7.6 15,0 Q0,7.6 -15,0Z" fill="#3a6643"/><path transform="translate(46.5,32.9) rotate(13.8)" d="M-17,0 Q0,-7.3 17,0 Q0,7.3 -17,0Z" fill="#3a6643"/><path transform="translate(24.4,4.3) rotate(155.9)" d="M-12.3,0 Q0,-5.4 12.3,0 Q0,5.4 -12.3,0Z" fill="#3a6643"/><path transform="translate(-1.8,42.2) rotate(72.5)" d="M-15.8,0 Q0,-8 15.8,0 Q0,8 -15.8,0Z" fill="#2f5236"/><path transform="translate(54.9,52.5) rotate(68)" d="M-18.3,0 Q0,-7.4 18.3,0 Q0,7.4 -18.3,0Z" fill="#2f5236"/><path transform="translate(12.7,42.3) rotate(124)" d="M-16.3,0 Q0,-6.7 16.3,0 Q0,6.7 -16.3,0Z" fill="#1a2a1d"/><path transform="translate(33.4,12.2) rotate(11.7)" d="M-12.4,0 Q0,-5.5 12.4,0 Q0,5.5 -12.4,0Z" fill="#3a6643"/><path transform="translate(10.6,54.7) rotate(28.5)" d="M-13.3,0 Q0,-5.4 13.3,0 Q0,5.4 -13.3,0Z" fill="#2a4830"/><path transform="translate(-0.3,26.4) rotate(0.7)" d="M-10.4,0 Q0,-5.5 10.4,0 Q0,5.5 -10.4,0Z" fill="#1a2a1d"/><path transform="translate(63.8,11.2) rotate(61.6)" d="M-15.4,0 Q0,-6.5 15.4,0 Q0,6.5 -15.4,0Z" fill="#2f5236"/><path transform="translate(52.4,33.6) rotate(171.8)" d="M-8,0 Q0,-3.9 8,0 Q0,3.9 -8,0Z" fill="#406f4a"/><path transform="translate(52.4,33.6) rotate(171.8)" d="M-7.2,0 L7.2,0" stroke="#2a4a30" stroke-width="0.4"/><path transform="translate(40.3,18.9) rotate(33.9)" d="M-13.4,0 Q0,-5.9 13.4,0 Q0,5.9 -13.4,0Z" fill="#3a6a45"/><path transform="translate(40.3,18.9) rotate(33.9)" d="M-12,0 L12,0" stroke="#2a4a30" stroke-width="0.5"/><path transform="translate(38.2,18.1) rotate(90)" d="M-13,0 Q0,-5.7 13,0 Q0,5.7 -13,0Z" fill="#52875a"/><path transform="translate(38.2,18.1) rotate(90)" d="M-11.7,0 L11.7,0" stroke="#2a4a30" stroke-width="0.5"/><path transform="translate(73.9,8.7) rotate(137.1)" d="M-10.2,0 Q0,-5 10.2,0 Q0,5 -10.2,0Z" fill="#5e9262"/><path transform="translate(73.9,8.7) rotate(137.1)" d="M-9.2,0 L9.2,0" stroke="#2a4a30" stroke-width="0.4"/><path transform="translate(49.4,28.7) rotate(165.8)" d="M-12.4,0 Q0,-4.6 12.4,0 Q0,4.6 -12.4,0Z" fill="#3a6a45"/><path transform="translate(49.4,28.7) rotate(165.8)" d="M-11.1,0 L11.1,0" stroke="#2a4a30" stroke-width="0.4"/><path transform="translate(15.2,28.2) rotate(100.4)" d="M-14.3,0 Q0,-5.5 14.3,0 Q0,5.5 -14.3,0Z" fill="#406f4a"/><path transform="translate(15.2,28.2) rotate(100.4)" d="M-12.8,0 L12.8,0" stroke="#2a4a30" stroke-width="0.5"/><path transform="translate(-3.6,16.5) rotate(91.2)" d="M-12.8,0 Q0,-4.8 12.8,0 Q0,4.8 -12.8,0Z" fill="#457a4e"/><path transform="translate(-3.6,16.5) rotate(91.2)" d="M-11.5,0 L11.5,0" stroke="#2a4a30" stroke-width="0.4"/><path transform="translate(60.6,46.6) rotate(32.1)" d="M-8,0 Q0,-2.9 8,0 Q0,2.9 -8,0Z" fill="#406f4a"/><path transform="translate(60.6,46.6) rotate(32.1)" d="M-7.2,0 L7.2,0" stroke="#2a4a30" stroke-width="0.4"/><path transform="translate(20.5,16) rotate(94.6)" d="M-13.8,0 Q0,-6.2 13.8,0 Q0,6.2 -13.8,0Z" fill="#406f4a"/><path transform="translate(20.5,16) rotate(94.6)" d="M-12.5,0 L12.5,0" stroke="#2a4a30" stroke-width="0.5"/><path transform="translate(22.9,55.3) rotate(162.3)" d="M-14.1,0 Q0,-6.6 14.1,0 Q0,6.6 -14.1,0Z" fill="#406f4a"/><path transform="translate(22.9,55.3) rotate(162.3)" d="M-12.7,0 L12.7,0" stroke="#2a4a30" stroke-width="0.6"/><path transform="translate(48.3,16.5) rotate(10.3)" d="M-9.3,0 Q0,-3.7 9.3,0 Q0,3.7 -9.3,0Z" fill="#3a6a45"/><path transform="translate(48.3,16.5) rotate(10.3)" d="M-8.3,0 L8.3,0" stroke="#2a4a30" stroke-width="0.4"/><path transform="translate(20.1,-1.3) rotate(80.1)" d="M-9.5,0 Q0,-3.6 9.5,0 Q0,3.6 -9.5,0Z" fill="#3a6a45"/><path transform="translate(20.1,-1.3) rotate(80.1)" d="M-8.6,0 L8.6,0" stroke="#2a4a30" stroke-width="0.4"/><path transform="translate(69.6,6.8) rotate(25.2)" d="M-9.3,0 Q0,-3.9 9.3,0 Q0,3.9 -9.3,0Z" fill="#5e9262"/><path transform="translate(69.6,6.8) rotate(25.2)" d="M-8.4,0 L8.4,0" stroke="#2a4a30" stroke-width="0.4"/><path transform="translate(20.8,29.6) rotate(67.5)" d="M-13.6,0 Q0,-6.9 13.6,0 Q0,6.9 -13.6,0Z" fill="#457a4e"/><path transform="translate(20.8,29.6) rotate(67.5)" d="M-12.2,0 L12.2,0" stroke="#2a4a30" stroke-width="0.6"/><path transform="translate(33.4,14) rotate(148.1)" d="M-11.2,0 Q0,-4.2 11.2,0 Q0,4.2 -11.2,0Z" fill="#3a6a45"/><path transform="translate(33.4,14) rotate(148.1)" d="M-10.1,0 L10.1,0" stroke="#2a4a30" stroke-width="0.4"/><path transform="translate(40.7,23.8) rotate(27.5)" d="M-9.1,0 Q0,-3.6 9.1,0 Q0,3.6 -9.1,0Z" fill="#406f4a"/><path transform="translate(40.7,23.8) rotate(27.5)" d="M-8.2,0 L8.2,0" stroke="#2a4a30" stroke-width="0.4"/><path transform="translate(34.7,45.2) rotate(61.1)" d="M-10.9,0 Q0,-4 10.9,0 Q0,4 -10.9,0Z" fill="#5e9262"/><path transform="translate(34.7,45.2) rotate(61.1)" d="M-9.8,0 L9.8,0" stroke="#2a4a30" stroke-width="0.4"/><path transform="translate(6.9,37.1) rotate(97)" d="M-13.7,0 Q0,-5.8 13.7,0 Q0,5.8 -13.7,0Z" fill="#5e9262"/><path transform="translate(6.9,37.1) rotate(97)" d="M-12.3,0 L12.3,0" stroke="#2a4a30" stroke-width="0.5"/><path transform="translate(51,45.5) rotate(51.5)" d="M-12.1,0 Q0,-5 12.1,0 Q0,5 -12.1,0Z" fill="#457a4e"/><path transform="translate(51,45.5) rotate(51.5)" d="M-10.9,0 L10.9,0" stroke="#2a4a30" stroke-width="0.4"/><path transform="translate(70.9,4.2) rotate(14.3)" d="M-13.3,0 Q0,-6.3 13.3,0 Q0,6.3 -13.3,0Z" fill="#406f4a"/><path transform="translate(70.9,4.2) rotate(14.3)" d="M-12,0 L12,0" stroke="#2a4a30" stroke-width="0.5"/><path transform="translate(34,35.3) rotate(165.7)" d="M-11.8,0 Q0,-4.3 11.8,0 Q0,4.3 -11.8,0Z" fill="#406f4a"/><path transform="translate(34,35.3) rotate(165.7)" d="M-10.6,0 L10.6,0" stroke="#2a4a30" stroke-width="0.4"/><path transform="translate(59.1,29.4) rotate(142.6)" d="M-11.5,0 Q0,-4.5 11.5,0 Q0,4.5 -11.5,0Z" fill="#68996a"/><path transform="translate(59.1,29.4) rotate(142.6)" d="M-10.3,0 L10.3,0" stroke="#2a4a30" stroke-width="0.4"/><path transform="translate(28.1,30.6) rotate(165.2)" d="M-8.5,0 Q0,-3.6 8.5,0 Q0,3.6 -8.5,0Z" fill="#406f4a"/><path transform="translate(28.1,30.6) rotate(165.2)" d="M-7.7,0 L7.7,0" stroke="#2a4a30" stroke-width="0.4"/><path transform="translate(60,22.7) rotate(44)" d="M-12.9,0 Q0,-5 12.9,0 Q0,5 -12.9,0Z" fill="#68996a"/><path transform="translate(60,22.7) rotate(44)" d="M-11.6,0 L11.6,0" stroke="#2a4a30" stroke-width="0.4"/><path transform="translate(38.6,38) rotate(43.2)" d="M-11.4,0 Q0,-5.1 11.4,0 Q0,5.1 -11.4,0Z" fill="#406f4a"/><path transform="translate(38.6,38) rotate(43.2)" d="M-10.2,0 L10.2,0" stroke="#2a4a30" stroke-width="0.4"/><path transform="translate(15.6,24.8) rotate(22.2)" d="M-13.1,0 Q0,-6.7 13.1,0 Q0,6.7 -13.1,0Z" fill="#68996a"/><path transform="translate(15.6,24.8) rotate(22.2)" d="M-11.8,0 L11.8,0" stroke="#2a4a30" stroke-width="0.6"/><path transform="translate(14.5,22.1) rotate(8.3)" d="M-8.2,0 Q0,-3.9 8.2,0 Q0,3.9 -8.2,0Z" fill="#406f4a"/><path transform="translate(14.5,22.1) rotate(8.3)" d="M-7.4,0 L7.4,0" stroke="#2a4a30" stroke-width="0.4"/><path transform="translate(36.5,36.2) rotate(91.6)" d="M-8,0 Q0,-3.9 8,0 Q0,3.9 -8,0Z" fill="#52875a"/><path transform="translate(36.5,36.2) rotate(91.6)" d="M-7.2,0 L7.2,0" stroke="#2a4a30" stroke-width="0.4"/><path transform="translate(27.9,3.4) rotate(2.3)" d="M-10.9,0 Q0,-5.2 10.9,0 Q0,5.2 -10.9,0Z" fill="#52875a"/><path transform="translate(27.9,3.4) rotate(2.3)" d="M-9.8,0 L9.8,0" stroke="#2a4a30" stroke-width="0.4"/><path transform="translate(31.5,45.6) rotate(91.5)" d="M-8.4,0 Q0,-4.2 8.4,0 Q0,4.2 -8.4,0Z" fill="#52875a"/><path transform="translate(31.5,45.6) rotate(91.5)" d="M-7.5,0 L7.5,0" stroke="#2a4a30" stroke-width="0.4"/><path transform="translate(52.6,12.9) rotate(128.6)" d="M-8.1,0 Q0,-3.1 8.1,0 Q0,3.1 -8.1,0Z" fill="#68996a"/><path transform="translate(52.6,12.9) rotate(128.6)" d="M-7.3,0 L7.3,0" stroke="#2a4a30" stroke-width="0.4"/><path transform="translate(36.3,12.5) rotate(125.5)" d="M-10.5,0 Q0,-4.5 10.5,0 Q0,4.5 -10.5,0Z" fill="#406f4a"/><path transform="translate(36.3,12.5) rotate(125.5)" d="M-9.4,0 L9.4,0" stroke="#2a4a30" stroke-width="0.4"/><path transform="translate(22,47.9) rotate(110.6)" d="M-12.6,0 Q0,-5.8 12.6,0 Q0,5.8 -12.6,0Z" fill="#3a6a45"/><path transform="translate(22,47.9) rotate(110.6)" d="M-11.4,0 L11.4,0" stroke="#2a4a30" stroke-width="0.5"/><path transform="translate(1.9,46.6) rotate(112.7)" d="M-11.2,0 Q0,-5.6 11.2,0 Q0,5.6 -11.2,0Z" fill="#3a6a45"/><path transform="translate(1.9,46.6) rotate(112.7)" d="M-10,0 L10,0" stroke="#2a4a30" stroke-width="0.5"/><path transform="translate(72.2,43.1) rotate(174.6)" d="M-7.9,0 Q0,-3.9 7.9,0 Q0,3.9 -7.9,0Z" fill="#3a6a45"/><path transform="translate(72.2,43.1) rotate(174.6)" d="M-7.1,0 L7.1,0" stroke="#2a4a30" stroke-width="0.4"/><path transform="translate(-0.3,17.8) rotate(163)" d="M-11.3,0 Q0,-4.3 11.3,0 Q0,4.3 -11.3,0Z" fill="#5e9262"/><path transform="translate(-0.3,17.8) rotate(163)" d="M-10.2,0 L10.2,0" stroke="#2a4a30" stroke-width="0.4"/><path transform="translate(37.1,51.3) rotate(28.5)" d="M-12.2,0 Q0,-5.4 12.2,0 Q0,5.4 -12.2,0Z" fill="#457a4e"/><path transform="translate(37.1,51.3) rotate(28.5)" d="M-11,0 L11,0" stroke="#2a4a30" stroke-width="0.5"/><path transform="translate(32.4,20.3) rotate(153.9)" d="M-7.8,0 Q0,-3.5 7.8,0 Q0,3.5 -7.8,0Z" fill="#5e9262"/><path transform="translate(32.4,20.3) rotate(153.9)" d="M-7,0 L7,0" stroke="#2a4a30" stroke-width="0.4"/><path transform="translate(13.3,3.8) rotate(168.1)" d="M-11.3,0 Q0,-5.6 11.3,0 Q0,5.6 -11.3,0Z" fill="#68996a"/><path transform="translate(13.3,3.8) rotate(168.1)" d="M-10.2,0 L10.2,0" stroke="#2a4a30" stroke-width="0.5"/><path transform="translate(5.1,25) rotate(32.7)" d="M-8.7,0 Q0,-3.7 8.7,0 Q0,3.7 -8.7,0Z" fill="#52875a"/><path transform="translate(5.1,25) rotate(32.7)" d="M-7.8,0 L7.8,0" stroke="#2a4a30" stroke-width="0.4"/><path transform="translate(43.3,31.7) rotate(58.4)" d="M-6.1,0 Q0,-6.2 6.1,0 Q0,6.2 -6.1,0Z" fill="#ec5440"/><path transform="translate(37.1,31.2) rotate(130.4)" d="M-6.1,0 Q0,-6.2 6.1,0 Q0,6.2 -6.1,0Z" fill="#ec5440"/><path transform="translate(35.7,25.1) rotate(202.4)" d="M-6.1,0 Q0,-6.2 6.1,0 Q0,6.2 -6.1,0Z" fill="#ec5440"/><path transform="translate(40.9,21.9) rotate(274.4)" d="M-6.1,0 Q0,-6.2 6.1,0 Q0,6.2 -6.1,0Z" fill="#ec5440"/><path transform="translate(45.7,25.9) rotate(346.4)" d="M-6.1,0 Q0,-6.2 6.1,0 Q0,6.2 -6.1,0Z" fill="#ec5440"/><circle cx="40.5" cy="27.1" r="1.4" fill="#f0c040"/><path transform="translate(51.3,35.5) rotate(53.1)" d="M-6.7,0 Q0,-6.8 6.7,0 Q0,6.8 -6.7,0Z" fill="#f06448"/><path transform="translate(44.5,35.6) rotate(125.1)" d="M-6.7,0 Q0,-6.8 6.7,0 Q0,6.8 -6.7,0Z" fill="#f06448"/><path transform="translate(42.3,29.2) rotate(197.1)" d="M-6.7,0 Q0,-6.8 6.7,0 Q0,6.8 -6.7,0Z" fill="#f06448"/><path transform="translate(47.7,25.1) rotate(269.1)" d="M-6.7,0 Q0,-6.8 6.7,0 Q0,6.8 -6.7,0Z" fill="#f06448"/><path transform="translate(53.3,29) rotate(341.1)" d="M-6.7,0 Q0,-6.8 6.7,0 Q0,6.8 -6.7,0Z" fill="#f06448"/><circle cx="47.8" cy="30.9" r="1.5" fill="#f0c040"/><path transform="translate(46.1,41.4) rotate(37.8)" d="M-5.5,0 Q0,-5.6 5.5,0 Q0,5.6 -5.5,0Z" fill="#d84232"/><path transform="translate(40.6,43) rotate(109.8)" d="M-5.5,0 Q0,-5.6 5.5,0 Q0,5.6 -5.5,0Z" fill="#d84232"/><path transform="translate(37.5,38.3) rotate(181.8)" d="M-5.5,0 Q0,-5.6 5.5,0 Q0,5.6 -5.5,0Z" fill="#d84232"/><path transform="translate(40.9,33.9) rotate(253.8)" d="M-5.5,0 Q0,-5.6 5.5,0 Q0,5.6 -5.5,0Z" fill="#d84232"/><path transform="translate(46.2,35.8) rotate(325.8)" d="M-5.5,0 Q0,-5.6 5.5,0 Q0,5.6 -5.5,0Z" fill="#d84232"/><circle cx="42.3" cy="38.5" r="1.2" fill="#f0c040"/><path transform="translate(37,34.7) rotate(13.6)" d="M-6.8,0 Q0,-7 6.8,0 Q0,7 -6.8,0Z" fill="#d84232"/><path transform="translate(31.7,39.2) rotate(85.6)" d="M-6.8,0 Q0,-7 6.8,0 Q0,7 -6.8,0Z" fill="#d84232"/><path transform="translate(25.8,35.5) rotate(157.6)" d="M-6.8,0 Q0,-7 6.8,0 Q0,7 -6.8,0Z" fill="#d84232"/><path transform="translate(27.4,28.8) rotate(229.6)" d="M-6.8,0 Q0,-7 6.8,0 Q0,7 -6.8,0Z" fill="#d84232"/><path transform="translate(34.4,28.2) rotate(301.6)" d="M-6.8,0 Q0,-7 6.8,0 Q0,7 -6.8,0Z" fill="#d84232"/><circle cx="31.3" cy="33.3" r="1.5" fill="#f0c040"/><path transform="translate(34.2,28.7) rotate(3.2)" d="M-5.8,0 Q0,-6 5.8,0 Q0,6 -5.8,0Z" fill="#f06448"/><path transform="translate(30.4,33.3) rotate(75.2)" d="M-5.8,0 Q0,-6 5.8,0 Q0,6 -5.8,0Z" fill="#f06448"/><path transform="translate(24.9,31.1) rotate(147.2)" d="M-5.8,0 Q0,-6 5.8,0 Q0,6 -5.8,0Z" fill="#f06448"/><path transform="translate(25.2,25.2) rotate(219.2)" d="M-5.8,0 Q0,-6 5.8,0 Q0,6 -5.8,0Z" fill="#f06448"/><path transform="translate(31,23.7) rotate(291.2)" d="M-5.8,0 Q0,-6 5.8,0 Q0,6 -5.8,0Z" fill="#f06448"/><circle cx="29.1" cy="28.4" r="1.3" fill="#f0c040"/><path transform="translate(39.4,20.5) rotate(8.5)" d="M-5.5,0 Q0,-5.7 5.5,0 Q0,5.7 -5.5,0Z" fill="#d84232"/><path transform="translate(35.5,24.5) rotate(80.5)" d="M-5.5,0 Q0,-5.7 5.5,0 Q0,5.7 -5.5,0Z" fill="#d84232"/><path transform="translate(30.4,22) rotate(152.5)" d="M-5.5,0 Q0,-5.7 5.5,0 Q0,5.7 -5.5,0Z" fill="#d84232"/><path transform="translate(31.2,16.4) rotate(224.5)" d="M-5.5,0 Q0,-5.7 5.5,0 Q0,5.7 -5.5,0Z" fill="#d84232"/><path transform="translate(36.8,15.4) rotate(296.5)" d="M-5.5,0 Q0,-5.7 5.5,0 Q0,5.7 -5.5,0Z" fill="#d84232"/><circle cx="34.7" cy="19.7" r="1.3" fill="#f0c040"/><path transform="translate(41.6,21.4) rotate(45.9)" d="M-6,0 Q0,-6.2 6,0 Q0,6.2 -6,0Z" fill="#ec5440"/><path transform="translate(35.5,22.2) rotate(117.9)" d="M-6,0 Q0,-6.2 6,0 Q0,6.2 -6,0Z" fill="#ec5440"/><path transform="translate(32.8,16.7) rotate(189.9)" d="M-6,0 Q0,-6.2 6,0 Q0,6.2 -6,0Z" fill="#ec5440"/><path transform="translate(37.2,12.4) rotate(261.9)" d="M-6,0 Q0,-6.2 6,0 Q0,6.2 -6,0Z" fill="#ec5440"/><path transform="translate(42.7,15.3) rotate(333.9)" d="M-6,0 Q0,-6.2 6,0 Q0,6.2 -6,0Z" fill="#ec5440"/><circle cx="38" cy="17.6" r="1.4" fill="#f0c040"/><path transform="translate(51.5,21.7) rotate(12.3)" d="M-6.9,0 Q0,-7.1 6.9,0 Q0,7.1 -6.9,0Z" fill="#d84232"/><path transform="translate(46.2,26.4) rotate(84.3)" d="M-6.9,0 Q0,-7.1 6.9,0 Q0,7.1 -6.9,0Z" fill="#d84232"/><path transform="translate(40.1,22.8) rotate(156.3)" d="M-6.9,0 Q0,-7.1 6.9,0 Q0,7.1 -6.9,0Z" fill="#d84232"/><path transform="translate(41.6,15.9) rotate(228.3)" d="M-6.9,0 Q0,-7.1 6.9,0 Q0,7.1 -6.9,0Z" fill="#d84232"/><path transform="translate(48.6,15.2) rotate(300.3)" d="M-6.9,0 Q0,-7.1 6.9,0 Q0,7.1 -6.9,0Z" fill="#d84232"/><circle cx="45.6" cy="20.4" r="1.6" fill="#f0c040"/></g>
<text x="781.2" y="319.9" font-size="19.3" fill="#111" text-anchor="start">Rendered Image Pairs</text>
<rect x="838.6" y="542.5" width="129.7" height="42.5" rx="0" fill="#fff" stroke="#222" stroke-width="1.3" stroke-dasharray="5 3"/>
<circle cx="855.8" cy="554.4" r="8" fill="none" stroke="#000" stroke-width="2.3"/>
<text x="855.6" y="559.8" font-size="16.5" fill="#111" text-anchor="middle">C</text>
<text x="868.6" y="560.3" font-size="19.4" fill="#111" text-anchor="start">Concatenate</text>
<rect x="846.5" y="570.3" width="18.7" height="8.3" rx="0" fill="#e3e3e3" stroke="#d2d2d2" stroke-width="0.8"/>
<text x="870.3" y="579.8" font-size="19.4" fill="#111" text-anchor="start">Pre-Trained</text>
<rect x="35.9" y="306.5" width="174.3" height="149" rx="30" fill="none" stroke="#858585" stroke-width="2" stroke-dasharray="0.1 7.9" stroke-linecap="round"/>
<rect x="76" y="461" width="134.7" height="122" rx="30" fill="none" stroke="#858585" stroke-width="2" stroke-dasharray="0.1 7.9" stroke-linecap="round"/>
<circle cx="42.8" cy="333.2" r="1.7" fill="#000"/>
<circle cx="49.2" cy="340.1" r="1.7" fill="#000"/>
<circle cx="55.2" cy="347" r="1.7" fill="#000"/>
<circle cx="82.7" cy="479.6" r="1.7" fill="#000"/>
<circle cx="89.6" cy="486.5" r="1.7" fill="#000"/>
<circle cx="96.5" cy="493.1" r="1.7" fill="#000"/>
<g transform="translate(59.3,318.2)" clip-path="url(#c5)"><rect width="113.4" height="85" fill="#223526"/><path transform="translate(-4.1,6.3) rotate(25)" d="M-21.9,0 Q0,-11.3 21.9,0 Q0,11.3 -21.9,0Z" fill="#2f5236"/><path transform="translate(61.1,62.3) rotate(6)" d="M-18,0 Q0,-10.2 18,0 Q0,10.2 -18,0Z" fill="#2f5236"/><path transform="translate(11.4,45.8) rotate(179.3)" d="M-22.7,0 Q0,-10.7 22.7,0 Q0,10.7 -22.7,0Z" fill="#2f5236"/><path transform="translate(9.1,67.8) rotate(37.1)" d="M-29.5,0 Q0,-13.5 29.5,0 Q0,13.5 -29.5,0Z" fill="#1a2a1d"/><path transform="translate(39.8,85.1) rotate(105.3)" d="M-19.1,0 Q0,-8.3 19.1,0 Q0,8.3 -19.1,0Z" fill="#2f5236"/><path transform="translate(113.3,74.2) rotate(150.6)" d="M-21.3,0 Q0,-9.2 21.3,0 Q0,9.2 -21.3,0Z" fill="#1a2a1d"/><path transform="translate(-1.9,64.5) rotate(39.3)" d="M-29.2,0 Q0,-14.9 29.2,0 Q0,14.9 -29.2,0Z" fill="#1a2a1d"/><path transform="translate(85.4,13.9) rotate(7.5)" d="M-25.7,0 Q0,-11.2 25.7,0 Q0,11.2 -25.7,0Z" fill="#2a4830"/><path transform="translate(30.9,49.2) rotate(56.9)" d="M-23.3,0 Q0,-11.9 23.3,0 Q0,11.9 -23.3,0Z" fill="#3a6643"/><path transform="translate(116.1,88.6) rotate(31.7)" d="M-28,0 Q0,-12.6 28,0 Q0,12.6 -28,0Z" fill="#2a4830"/><path transform="translate(6,13.8) rotate(125.2)" d="M-30,0 Q0,-15 30,0 Q0,15 -30,0Z" fill="#2f5236"/><path transform="translate(77.9,22.4) rotate(159.3)" d="M-20.6,0 Q0,-11.2 20.6,0 Q0,11.2 -20.6,0Z" fill="#2f5236"/><path transform="translate(51.1,70.6) rotate(101.1)" d="M-22.7,0 Q0,-12.1 22.7,0 Q0,12.1 -22.7,0Z" fill="#2f5236"/><path transform="translate(27.7,77.4) rotate(36.2)" d="M-25.6,0 Q0,-14.4 25.6,0 Q0,14.4 -25.6,0Z" fill="#3a6643"/><path transform="translate(83.3,75.6) rotate(141.9)" d="M-23.2,0 Q0,-11.2 23.2,0 Q0,11.2 -23.2,0Z" fill="#2a4830"/><path transform="translate(101.7,87.5) rotate(153.8)" d="M-23.4,0 Q0,-11.7 23.4,0 Q0,11.7 -23.4,0Z" fill="#1a2a1d"/><path transform="translate(11.5,63.5) rotate(138.2)" d="M-26.5,0 Q0,-15 26.5,0 Q0,15 -26.5,0Z" fill="#2a4830"/><path transform="translate(55.4,68.8) rotate(17.4)" d="M-23.1,0 Q0,-10.1 23.1,0 Q0,10.1 -23.1,0Z" fill="#2a4830"/><path transform="translate(49.9,88.6) rotate(110.5)" d="M-17.9,0 Q0,-8.9 17.9,0 Q0,8.9 -17.9,0Z" fill="#3a6643"/><path transform="translate(92.7,84.3) rotate(99.8)" d="M-29.1,0 Q0,-15.1 29.1,0 Q0,15.1 -29.1,0Z" fill="#1a2a1d"/><path transform="translate(22.6,13.9) rotate(147.5)" d="M-25.3,0 Q0,-11.4 25.3,0 Q0,11.4 -25.3,0Z" fill="#2a4830"/><path transform="translate(11,7.3) rotate(169.7)" d="M-27.9,0 Q0,-14.7 27.9,0 Q0,14.7 -27.9,0Z" fill="#1a2a1d"/><path transform="translate(66.6,11.3) rotate(76.5)" d="M-28.9,0 Q0,-12.1 28.9,0 Q0,12.1 -28.9,0Z" fill="#3a6643"/><path transform="translate(25,78.3) rotate(55.3)" d="M-19,0 Q0,-10.5 19,0 Q0,10.5 -19,0Z" fill="#3a6643"/><path transform="translate(109,20.9) rotate(85)" d="M-30.3,0 Q0,-12.3 30.3,0 Q0,12.3 -30.3,0Z" fill="#2a4830"/><path transform="translate(26.6,14.7) rotate(72.2)" d="M-28.3,0 Q0,-13.1 28.3,0 Q0,13.1 -28.3,0Z" fill="#1a2a1d"/><path transform="translate(42.2,14.3) rotate(125.6)" d="M-13.8,0 Q0,-5.7 13.8,0 Q0,5.7 -13.8,0Z" fill="#3a6a45"/><path transform="translate(42.2,14.3) rotate(125.6)" d="M-12.4,0 L12.4,0" stroke="#2a4a30" stroke-width="0.5"/><path transform="translate(8.3,15.9) rotate(124.8)" d="M-22.3,0 Q0,-11.1 22.3,0 Q0,11.1 -22.3,0Z" fill="#5e9262"/><path transform="translate(8.3,15.9) rotate(124.8)" d="M-20.1,0 L20.1,0" stroke="#2a4a30" stroke-width="0.9"/><path transform="translate(50.7,56.7) rotate(12.2)" d="M-18.8,0 Q0,-8 18.8,0 Q0,8 -18.8,0Z" fill="#52875a"/><path transform="translate(50.7,56.7) rotate(12.2)" d="M-16.9,0 L16.9,0" stroke="#2a4a30" stroke-width="0.7"/><path transform="translate(31.4,40) rotate(68.3)" d="M-11.4,0 Q0,-4.1 11.4,0 Q0,4.1 -11.4,0Z" fill="#3a6a45"/><path transform="translate(31.4,40) rotate(68.3)" d="M-10.3,0 L10.3,0" stroke="#2a4a30" stroke-width="0.4"/><path transform="translate(31.8,81.1) rotate(139.9)" d="M-17.9,0 Q0,-7.5 17.9,0 Q0,7.5 -17.9,0Z" fill="#52875a"/><path transform="translate(31.8,81.1) rotate(139.9)" d="M-16.1,0 L16.1,0" stroke="#2a4a30" stroke-width="0.6"/><path transform="translate(24.1,9.1) rotate(153)" d="M-18.5,0 Q0,-8.8 18.5,0 Q0,8.8 -18.5,0Z" fill="#68996a"/><path transform="translate(24.1,9.1) rotate(153)" d="M-16.7,0 L16.7,0" stroke="#2a4a30" stroke-width="0.7"/><path transform="translate(65.9,13.3) rotate(169.4)" d="M-15.6,0 Q0,-6.9 15.6,0 Q0,6.9 -15.6,0Z" fill="#68996a"/><path transform="translate(65.9,13.3) rotate(169.4)" d="M-14,0 L14,0" stroke="#2a4a30" stroke-width="0.6"/><path transform="translate(52.8,83.6) rotate(71.6)" d="M-14.3,0 Q0,-6.9 14.3,0 Q0,6.9 -14.3,0Z" fill="#52875a"/><path transform="translate(52.8,83.6) rotate(71.6)" d="M-12.9,0 L12.9,0" stroke="#2a4a30" stroke-width="0.6"/><path transform="translate(63.5,16.5) rotate(43.6)" d="M-16,0 Q0,-7.8 16,0 Q0,7.8 -16,0Z" fill="#68996a"/><path transform="translate(63.5,16.5) rotate(43.6)" d="M-14.4,0 L14.4,0" stroke="#2a4a30" stroke-width="0.7"/><path transform="translate(24.2,75) rotate(49.1)" d="M-16,0 Q0,-8 16,0 Q0,8 -16,0Z" fill="#457a4e"/><path transform="translate(24.2,75) rotate(49.1)" d="M-14.4,0 L14.4,0" stroke="#2a4a30" stroke-width="0.7"/><path transform="translate(93.7,1.5) rotate(179.7)" d="M-14.2,0 Q0,-6.2 14.2,0 Q0,6.2 -14.2,0Z" fill="#52875a"/><path transform="translate(93.7,1.5) rotate(179.7)" d="M-12.7,0 L12.7,0" stroke="#2a4a30" stroke-width="0.5"/><path transform="translate(89.9,24.6) rotate(40.6)" d="M-20.4,0 Q0,-10.3 20.4,0 Q0,10.3 -20.4,0Z" fill="#5e9262"/><path transform="translate(89.9,24.6) rotate(40.6)" d="M-18.4,0 L18.4,0" stroke="#2a4a30" stroke-width="0.9"/><path transform="translate(62.4,2.9) rotate(48.9)" d="M-16.9,0 Q0,-7.3 16.9,0 Q0,7.3 -16.9,0Z" fill="#5e9262"/><path transform="translate(62.4,2.9) rotate(48.9)" d="M-15.2,0 L15.2,0" stroke="#2a4a30" stroke-width="0.6"/><path transform="translate(77.5,-3.9) rotate(117)" d="M-19,0 Q0,-9.7 19,0 Q0,9.7 -19,0Z" fill="#52875a"/><path transform="translate(77.5,-3.9) rotate(117)" d="M-17.1,0 L17.1,0" stroke="#2a4a30" stroke-width="0.8"/><path transform="translate(15.4,4.1) rotate(102.5)" d="M-21.1,0 Q0,-7.8 21.1,0 Q0,7.8 -21.1,0Z" fill="#3a6a45"/><path transform="translate(15.4,4.1) rotate(102.5)" d="M-19,0 L19,0" stroke="#2a4a30" stroke-width="0.7"/><path transform="translate(71.5,14.7) rotate(156.5)" d="M-13.8,0 Q0,-5.1 13.8,0 Q0,5.1 -13.8,0Z" fill="#5e9262"/><path transform="translate(71.5,14.7) rotate(156.5)" d="M-12.4,0 L12.4,0" stroke="#2a4a30" stroke-width="0.4"/><path transform="translate(-0.8,64) rotate(147)" d="M-16.5,0 Q0,-6.9 16.5,0 Q0,6.9 -16.5,0Z" fill="#68996a"/><path transform="translate(-0.8,64) rotate(147)" d="M-14.8,0 L14.8,0" stroke="#2a4a30" stroke-width="0.6"/><path transform="translate(92.5,85.1) rotate(43.1)" d="M-17.2,0 Q0,-7 17.2,0 Q0,7 -17.2,0Z" fill="#3a6a45"/><path transform="translate(92.5,85.1) rotate(43.1)" d="M-15.5,0 L15.5,0" stroke="#2a4a30" stroke-width="0.6"/><path transform="translate(92.2,38.2) rotate(156.8)" d="M-12.9,0 Q0,-5.8 12.9,0 Q0,5.8 -12.9,0Z" fill="#52875a"/><path transform="translate(92.2,38.2) rotate(156.8)" d="M-11.6,0 L11.6,0" stroke="#2a4a30" stroke-width="0.5"/><path transform="translate(9.9,31.4) rotate(172.7)" d="M-13.9,0 Q0,-5.7 13.9,0 Q0,5.7 -13.9,0Z" fill="#5e9262"/><path transform="translate(9.9,31.4) rotate(172.7)" d="M-12.5,0 L12.5,0" stroke="#2a4a30" stroke-width="0.5"/><path transform="translate(91,73.7) rotate(75.6)" d="M-18.1,0 Q0,-8.8 18.1,0 Q0,8.8 -18.1,0Z" fill="#457a4e"/><path transform="translate(91,73.7) rotate(75.6)" d="M-16.3,0 L16.3,0" stroke="#2a4a30" stroke-width="0.7"/><path transform="translate(17.6,16.9) rotate(30.5)" d="M-14.3,0 Q0,-7.1 14.3,0 Q0,7.1 -14.3,0Z" fill="#457a4e"/><path transform="translate(17.6,16.9) rotate(30.5)" d="M-12.9,0 L12.9,0" stroke="#2a4a30" stroke-width="0.6"/><path transform="translate(82.7,24.8) rotate(35.4)" d="M-18.9,0 Q0,-8.1 18.9,0 Q0,8.1 -18.9,0Z" fill="#406f4a"/><path transform="translate(82.7,24.8) rotate(35.4)" d="M-17,0 L17,0" stroke="#2a4a30" stroke-width="0.7"/><path transform="translate(6.1,70.5) rotate(63.4)" d="M-17.5,0 Q0,-7.6 17.5,0 Q0,7.6 -17.5,0Z" fill="#68996a"/><path transform="translate(6.1,70.5) rotate(63.4)" d="M-15.7,0 L15.7,0" stroke="#2a4a30" stroke-width="0.6"/><path transform="translate(48.7,10.3) rotate(153.3)" d="M-14.2,0 Q0,-5.8 14.2,0 Q0,5.8 -14.2,0Z" fill="#3a6a45"/><path transform="translate(48.7,10.3) rotate(153.3)" d="M-12.8,0 L12.8,0" stroke="#2a4a30" stroke-width="0.5"/><path transform="translate(62.8,68.1) rotate(109.9)" d="M-12.7,0 Q0,-5.9 12.7,0 Q0,5.9 -12.7,0Z" fill="#68996a"/><path transform="translate(62.8,68.1) rotate(109.9)" d="M-11.4,0 L11.4,0" stroke="#2a4a30" stroke-width="0.5"/><path transform="translate(104.6,47.3) rotate(47.5)" d="M-18.1,0 Q0,-8.6 18.1,0 Q0,8.6 -18.1,0Z" fill="#406f4a"/><path transform="translate(104.6,47.3) rotate(47.5)" d="M-16.2,0 L16.2,0" stroke="#2a4a30" stroke-width="0.7"/><path transform="translate(32.3,32.1) rotate(109.1)" d="M-16.3,0 Q0,-6.7 16.3,0 Q0,6.7 -16.3,0Z" fill="#68996a"/><path transform="translate(32.3,32.1) rotate(109.1)" d="M-14.7,0 L14.7,0" stroke="#2a4a30" stroke-width="0.6"/><path transform="translate(26.6,2.7) rotate(174.5)" d="M-18.3,0 Q0,-7 18.3,0 Q0,7 -18.3,0Z" fill="#5e9262"/><path transform="translate(26.6,2.7) rotate(174.5)" d="M-16.5,0 L16.5,0" stroke="#2a4a30" stroke-width="0.6"/><path transform="translate(114.1,63.2) rotate(76.7)" d="M-19.5,0 Q0,-9.2 19.5,0 Q0,9.2 -19.5,0Z" fill="#52875a"/><path transform="translate(114.1,63.2) rotate(76.7)" d="M-17.5,0 L17.5,0" stroke="#2a4a30" stroke-width="0.8"/><path transform="translate(15.8,43.6) rotate(144.2)" d="M-19.1,0 Q0,-8.6 19.1,0 Q0,8.6 -19.1,0Z" fill="#5e9262"/><path transform="translate(15.8,43.6) rotate(144.2)" d="M-17.2,0 L17.2,0" stroke="#2a4a30" stroke-width="0.7"/><path transform="translate(106.3,72.7) rotate(119.4)" d="M-15.2,0 Q0,-6.6 15.2,0 Q0,6.6 -15.2,0Z" fill="#52875a"/><path transform="translate(106.3,72.7) rotate(119.4)" d="M-13.6,0 L13.6,0" stroke="#2a4a30" stroke-width="0.6"/><path transform="translate(84.2,40.9) rotate(17.2)" d="M-14.8,0 Q0,-5.8 14.8,0 Q0,5.8 -14.8,0Z" fill="#5e9262"/><path transform="translate(84.2,40.9) rotate(17.2)" d="M-13.3,0 L13.3,0" stroke="#2a4a30" stroke-width="0.5"/><path transform="translate(68.1,28.1) rotate(12.8)" d="M-21.1,0 Q0,-10.1 21.1,0 Q0,10.1 -21.1,0Z" fill="#68996a"/><path transform="translate(68.1,28.1) rotate(12.8)" d="M-19,0 L19,0" stroke="#2a4a30" stroke-width="0.9"/><path transform="translate(69.2,71.8) rotate(9.3)" d="M-12.1,0 Q0,-4.4 12.1,0 Q0,4.4 -12.1,0Z" fill="#3a6a45"/><path transform="translate(69.2,71.8) rotate(9.3)" d="M-10.9,0 L10.9,0" stroke="#2a4a30" stroke-width="0.4"/><path transform="translate(65,18) rotate(92.8)" d="M-15.5,0 Q0,-6.6 15.5,0 Q0,6.6 -15.5,0Z" fill="#3a6a45"/><path transform="translate(65,18) rotate(92.8)" d="M-14,0 L14,0" stroke="#2a4a30" stroke-width="0.6"/><path transform="translate(44.2,4.9) rotate(53)" d="M-12.4,0 Q0,-4.8 12.4,0 Q0,4.8 -12.4,0Z" fill="#68996a"/><path transform="translate(44.2,4.9) rotate(53)" d="M-11.2,0 L11.2,0" stroke="#2a4a30" stroke-width="0.4"/><path transform="translate(-1.1,2.7) rotate(155.1)" d="M-13,0 Q0,-6.6 13,0 Q0,6.6 -13,0Z" fill="#68996a"/><path transform="translate(-1.1,2.7) rotate(155.1)" d="M-11.7,0 L11.7,0" stroke="#2a4a30" stroke-width="0.6"/><path transform="translate(85.7,5.2) rotate(174)" d="M-14.1,0 Q0,-6.9 14.1,0 Q0,6.9 -14.1,0Z" fill="#5e9262"/><path transform="translate(85.7,5.2) rotate(174)" d="M-12.7,0 L12.7,0" stroke="#2a4a30" stroke-width="0.6"/><path transform="translate(109.5,29.3) rotate(158.8)" d="M-16,0 Q0,-7.5 16,0 Q0,7.5 -16,0Z" fill="#52875a"/><path transform="translate(109.5,29.3) rotate(158.8)" d="M-14.4,0 L14.4,0" stroke="#2a4a30" stroke-width="0.6"/><path transform="translate(77.3,19.5) rotate(20)" d="M-8.5,0 Q0,-8.7 8.5,0 Q0,8.7 -8.5,0Z" fill="#e04636"/><path transform="translate(70.1,24.4) rotate(92)" d="M-8.5,0 Q0,-8.7 8.5,0 Q0,8.7 -8.5,0Z" fill="#e04636"/><path transform="translate(63.2,19.1) rotate(164)" d="M-8.5,0 Q0,-8.7 8.5,0 Q0,8.7 -8.5,0Z" fill="#e04636"/><path transform="translate(66.2,10.8) rotate(236)" d="M-8.5,0 Q0,-8.7 8.5,0 Q0,8.7 -8.5,0Z" fill="#e04636"/><path transform="translate(74.9,11.1) rotate(308)" d="M-8.5,0 Q0,-8.7 8.5,0 Q0,8.7 -8.5,0Z" fill="#e04636"/><circle cx="70.3" cy="17" r="1.9" fill="#f0c040"/><path transform="translate(81.7,34.5) rotate(69.7)" d="M-7.9,0 Q0,-8.1 7.9,0 Q0,8.1 -7.9,0Z" fill="#f06448"/><path transform="translate(74,32.3) rotate(141.7)" d="M-7.9,0 Q0,-8.1 7.9,0 Q0,8.1 -7.9,0Z" fill="#f06448"/><path transform="translate(73.6,24.3) rotate(213.7)" d="M-7.9,0 Q0,-8.1 7.9,0 Q0,8.1 -7.9,0Z" fill="#f06448"/><path transform="translate(81.2,21.5) rotate(285.7)" d="M-7.9,0 Q0,-8.1 7.9,0 Q0,8.1 -7.9,0Z" fill="#f06448"/><path transform="translate(86.2,27.8) rotate(357.7)" d="M-7.9,0 Q0,-8.1 7.9,0 Q0,8.1 -7.9,0Z" fill="#f06448"/><circle cx="79.3" cy="28.1" r="1.8" fill="#f0c040"/><path transform="translate(78.9,29.6) rotate(14.4)" d="M-8.1,0 Q0,-8.3 8.1,0 Q0,8.3 -8.1,0Z" fill="#d84232"/><path transform="translate(72.5,34.9) rotate(86.4)" d="M-8.1,0 Q0,-8.3 8.1,0 Q0,8.3 -8.1,0Z" fill="#d84232"/><path transform="translate(65.6,30.4) rotate(158.4)" d="M-8.1,0 Q0,-8.3 8.1,0 Q0,8.3 -8.1,0Z" fill="#d84232"/><path transform="translate(67.6,22.4) rotate(230.4)" d="M-8.1,0 Q0,-8.3 8.1,0 Q0,8.3 -8.1,0Z" fill="#d84232"/><path transform="translate(75.9,21.9) rotate(302.4)" d="M-8.1,0 Q0,-8.3 8.1,0 Q0,8.3 -8.1,0Z" fill="#d84232"/><circle cx="72.1" cy="27.9" r="1.8" fill="#f0c040"/><path transform="translate(69.9,30.1) rotate(1.2)" d="M-8,0 Q0,-8.2 8,0 Q0,8.2 -8,0Z" fill="#ec5440"/><path transform="translate(64.9,36.6) rotate(73.2)" d="M-8,0 Q0,-8.2 8,0 Q0,8.2 -8,0Z" fill="#ec5440"/><path transform="translate(57.2,33.9) rotate(145.2)" d="M-8,0 Q0,-8.2 8,0 Q0,8.2 -8,0Z" fill="#ec5440"/><path transform="translate(57.4,25.8) rotate(217.2)" d="M-8,0 Q0,-8.2 8,0 Q0,8.2 -8,0Z" fill="#ec5440"/><path transform="translate(65.2,23.4) rotate(289.2)" d="M-8,0 Q0,-8.2 8,0 Q0,8.2 -8,0Z" fill="#ec5440"/><circle cx="62.9" cy="30" r="1.8" fill="#f0c040"/><path transform="translate(61.4,19.7) rotate(30.4)" d="M-8.2,0 Q0,-8.4 8.2,0 Q0,8.4 -8.2,0Z" fill="#d84232"/><path transform="translate(53.7,23.1) rotate(102.4)" d="M-8.2,0 Q0,-8.4 8.2,0 Q0,8.4 -8.2,0Z" fill="#d84232"/><path transform="translate(48.2,16.8) rotate(174.4)" d="M-8.2,0 Q0,-8.4 8.2,0 Q0,8.4 -8.2,0Z" fill="#d84232"/><path transform="translate(52.4,9.6) rotate(246.4)" d="M-8.2,0 Q0,-8.4 8.2,0 Q0,8.4 -8.2,0Z" fill="#d84232"/><path transform="translate(60.6,11.4) rotate(318.4)" d="M-8.2,0 Q0,-8.4 8.2,0 Q0,8.4 -8.2,0Z" fill="#d84232"/><circle cx="55.3" cy="16.1" r="1.9" fill="#f0c040"/><path transform="translate(69.8,11.3) rotate(35.4)" d="M-8.2,0 Q0,-8.4 8.2,0 Q0,8.4 -8.2,0Z" fill="#d84232"/><path transform="translate(61.9,14) rotate(107.4)" d="M-8.2,0 Q0,-8.4 8.2,0 Q0,8.4 -8.2,0Z" fill="#d84232"/><path transform="translate(56.9,7.3) rotate(179.4)" d="M-8.2,0 Q0,-8.4 8.2,0 Q0,8.4 -8.2,0Z" fill="#d84232"/><path transform="translate(61.8,0.5) rotate(251.4)" d="M-8.2,0 Q0,-8.4 8.2,0 Q0,8.4 -8.2,0Z" fill="#d84232"/><path transform="translate(69.7,3) rotate(323.4)" d="M-8.2,0 Q0,-8.4 8.2,0 Q0,8.4 -8.2,0Z" fill="#d84232"/><circle cx="64" cy="7.2" r="1.8" fill="#f0c040"/><path transform="translate(75.3,6.1) rotate(0.1)" d="M-8.2,0 Q0,-8.4 8.2,0 Q0,8.4 -8.2,0Z" fill="#ec5440"/><path transform="translate(70.3,12.9) rotate(72.1)" d="M-8.2,0 Q0,-8.4 8.2,0 Q0,8.4 -8.2,0Z" fill="#ec5440"/><path transform="translate(62.4,10.3) rotate(144.1)" d="M-8.2,0 Q0,-8.4 8.2,0 Q0,8.4 -8.2,0Z" fill="#ec5440"/><path transform="translate(62.4,1.9) rotate(216.1)" d="M-8.2,0 Q0,-8.4 8.2,0 Q0,8.4 -8.2,0Z" fill="#ec5440"/><path transform="translate(70.3,-0.7) rotate(288.1)" d="M-8.2,0 Q0,-8.4 8.2,0 Q0,8.4 -8.2,0Z" fill="#ec5440"/><circle cx="68.1" cy="6.1" r="1.9" fill="#f0c040"/><path transform="translate(81,15.3) rotate(70.4)" d="M-8.2,0 Q0,-8.4 8.2,0 Q0,8.4 -8.2,0Z" fill="#ec5440"/><path transform="translate(73,13) rotate(142.4)" d="M-8.2,0 Q0,-8.4 8.2,0 Q0,8.4 -8.2,0Z" fill="#ec5440"/><path transform="translate(72.8,4.6) rotate(214.4)" d="M-8.2,0 Q0,-8.4 8.2,0 Q0,8.4 -8.2,0Z" fill="#ec5440"/><path transform="translate(80.7,1.8) rotate(286.4)" d="M-8.2,0 Q0,-8.4 8.2,0 Q0,8.4 -8.2,0Z" fill="#ec5440"/><path transform="translate(85.7,8.4) rotate(358.4)" d="M-8.2,0 Q0,-8.4 8.2,0 Q0,8.4 -8.2,0Z" fill="#ec5440"/><circle cx="78.7" cy="8.6" r="1.8" fill="#f0c040"/></g>
<rect x="58.7" y="317.6" width="114.6" height="86.2" rx="0" fill="none" stroke="#fff" stroke-width="1.2"/>
<g transform="translate(72.2,330.3)" clip-path="url(#c6)"><rect width="113.9" height="85" fill="#223526"/><path transform="translate(4,15.7) rotate(89.3)" d="M-20.6,0 Q0,-11.4 20.6,0 Q0,11.4 -20.6,0Z" fill="#2f5236"/><path transform="translate(6.9,43.3) rotate(170)" d="M-28.9,0 Q0,-14.1 28.9,0 Q0,14.1 -28.9,0Z" fill="#1a2a1d"/><path transform="translate(40.8,-4.2) rotate(1.7)" d="M-27.6,0 Q0,-11.6 27.6,0 Q0,11.6 -27.6,0Z" fill="#3a6643"/><path transform="translate(99.1,84.9) rotate(21.7)" d="M-19,0 Q0,-7.9 19,0 Q0,7.9 -19,0Z" fill="#2f5236"/><path transform="translate(85.5,36.8) rotate(100)" d="M-22.6,0 Q0,-12.6 22.6,0 Q0,12.6 -22.6,0Z" fill="#3a6643"/><path transform="translate(14.8,24.7) rotate(146.6)" d="M-30.2,0 Q0,-12.9 30.2,0 Q0,12.9 -30.2,0Z" fill="#2a4830"/><path transform="translate(65.5,49.6) rotate(41.3)" d="M-27.8,0 Q0,-13.9 27.8,0 Q0,13.9 -27.8,0Z" fill="#2a4830"/><path transform="translate(4.2,57.7) rotate(125.4)" d="M-28.9,0 Q0,-13 28.9,0 Q0,13 -28.9,0Z" fill="#1a2a1d"/><path transform="translate(-4.6,12.6) rotate(155.4)" d="M-18.5,0 Q0,-10.5 18.5,0 Q0,10.5 -18.5,0Z" fill="#3a6643"/><path transform="translate(77.2,0.3) rotate(34.8)" d="M-20.6,0 Q0,-9.6 20.6,0 Q0,9.6 -20.6,0Z" fill="#2f5236"/><path transform="translate(55.7,42.9) rotate(64.9)" d="M-24,0 Q0,-10.9 24,0 Q0,10.9 -24,0Z" fill="#1a2a1d"/><path transform="translate(113.9,76.4) rotate(91.6)" d="M-25.4,0 Q0,-12.4 25.4,0 Q0,12.4 -25.4,0Z" fill="#3a6643"/><path transform="translate(42.4,50) rotate(172.4)" d="M-21.6,0 Q0,-11.7 21.6,0 Q0,11.7 -21.6,0Z" fill="#3a6643"/><path transform="translate(70,72.6) rotate(44.6)" d="M-25.9,0 Q0,-10.9 25.9,0 Q0,10.9 -25.9,0Z" fill="#2f5236"/><path transform="translate(56.9,5.8) rotate(30)" d="M-16,0 Q0,-8.7 16,0 Q0,8.7 -16,0Z" fill="#2a4830"/><path transform="translate(91.7,34.7) rotate(176.1)" d="M-19.4,0 Q0,-9.1 19.4,0 Q0,9.1 -19.4,0Z" fill="#1a2a1d"/><path transform="translate(15.1,29.9) rotate(176.3)" d="M-17.2,0 Q0,-9 17.2,0 Q0,9 -17.2,0Z" fill="#3a6643"/><path transform="translate(10.6,60.4) rotate(66)" d="M-20,0 Q0,-10.3 20,0 Q0,10.3 -20,0Z" fill="#2f5236"/><path transform="translate(97.2,-1) rotate(0.7)" d="M-30.8,0 Q0,-13.2 30.8,0 Q0,13.2 -30.8,0Z" fill="#3a6643"/><path transform="translate(78.9,67.4) rotate(57.3)" d="M-21.7,0 Q0,-9.1 21.7,0 Q0,9.1 -21.7,0Z" fill="#3a6643"/><path transform="translate(23.1,37.1) rotate(1)" d="M-22.9,0 Q0,-12.7 22.9,0 Q0,12.7 -22.9,0Z" fill="#2a4830"/><path transform="translate(-3.7,2.1) rotate(21.7)" d="M-21.3,0 Q0,-11.1 21.3,0 Q0,11.1 -21.3,0Z" fill="#3a6643"/><path transform="translate(116.1,76.6) rotate(106.1)" d="M-27.5,0 Q0,-11.3 27.5,0 Q0,11.3 -27.5,0Z" fill="#3a6643"/><path transform="translate(57.3,1.9) rotate(175.8)" d="M-18.8,0 Q0,-10.7 18.8,0 Q0,10.7 -18.8,0Z" fill="#3a6643"/><path transform="translate(116.6,29.9) rotate(110.8)" d="M-25.9,0 Q0,-11.9 25.9,0 Q0,11.9 -25.9,0Z" fill="#2f5236"/><path transform="translate(72.1,29.9) rotate(135.4)" d="M-16.3,0 Q0,-7.9 16.3,0 Q0,7.9 -16.3,0Z" fill="#3a6643"/><path transform="translate(7.8,59.5) rotate(102.2)" d="M-18.7,0 Q0,-7.4 18.7,0 Q0,7.4 -18.7,0Z" fill="#457a4e"/><path transform="translate(7.8,59.5) rotate(102.2)" d="M-16.8,0 L16.8,0" stroke="#2a4a30" stroke-width="0.6"/><path transform="translate(74,44.4) rotate(37.1)" d="M-12.9,0 Q0,-5.2 12.9,0 Q0,5.2 -12.9,0Z" fill="#52875a"/><path transform="translate(74,44.4) rotate(37.1)" d="M-11.6,0 L11.6,0" stroke="#2a4a30" stroke-width="0.4"/><path transform="translate(32.4,57.2) rotate(7)" d="M-20,0 Q0,-9.8 20,0 Q0,9.8 -20,0Z" fill="#5e9262"/><path transform="translate(32.4,57.2) rotate(7)" d="M-18,0 L18,0" stroke="#2a4a30" stroke-width="0.8"/><path transform="translate(115,71.6) rotate(103)" d="M-14.5,0 Q0,-5.5 14.5,0 Q0,5.5 -14.5,0Z" fill="#5e9262"/><path transform="translate(115,71.6) rotate(103)" d="M-13,0 L13,0" stroke="#2a4a30" stroke-width="0.5"/><path transform="translate(32.2,83.8) rotate(140.5)" d="M-11.7,0 Q0,-4.9 11.7,0 Q0,4.9 -11.7,0Z" fill="#52875a"/><path transform="translate(32.2,83.8) rotate(140.5)" d="M-10.5,0 L10.5,0" stroke="#2a4a30" stroke-width="0.4"/><path transform="translate(26.3,82) rotate(124)" d="M-14.8,0 Q0,-7.6 14.8,0 Q0,7.6 -14.8,0Z" fill="#457a4e"/><path transform="translate(26.3,82) rotate(124)" d="M-13.3,0 L13.3,0" stroke="#2a4a30" stroke-width="0.6"/><path transform="translate(81.6,10.1) rotate(43.9)" d="M-11.9,0 Q0,-4.7 11.9,0 Q0,4.7 -11.9,0Z" fill="#406f4a"/><path transform="translate(81.6,10.1) rotate(43.9)" d="M-10.8,0 L10.8,0" stroke="#2a4a30" stroke-width="0.4"/><path transform="translate(113.6,70.5) rotate(13.4)" d="M-18.3,0 Q0,-8.2 18.3,0 Q0,8.2 -18.3,0Z" fill="#52875a"/><path transform="translate(113.6,70.5) rotate(13.4)" d="M-16.5,0 L16.5,0" stroke="#2a4a30" stroke-width="0.7"/><path transform="translate(32.1,44.7) rotate(3.3)" d="M-17,0 Q0,-7.3 17,0 Q0,7.3 -17,0Z" fill="#5e9262"/><path transform="translate(32.1,44.7) rotate(3.3)" d="M-15.3,0 L15.3,0" stroke="#2a4a30" stroke-width="0.6"/><path transform="translate(110.9,19.7) rotate(26.7)" d="M-19.5,0 Q0,-9.7 19.5,0 Q0,9.7 -19.5,0Z" fill="#3a6a45"/><path transform="translate(110.9,19.7) rotate(26.7)" d="M-17.5,0 L17.5,0" stroke="#2a4a30" stroke-width="0.8"/><path transform="translate(38.1,5.5) rotate(141.6)" d="M-15.4,0 Q0,-6.9 15.4,0 Q0,6.9 -15.4,0Z" fill="#68996a"/><path transform="translate(38.1,5.5) rotate(141.6)" d="M-13.8,0 L13.8,0" stroke="#2a4a30" stroke-width="0.6"/><path transform="translate(6.1,87.4) rotate(104.4)" d="M-11.7,0 Q0,-4.9 11.7,0 Q0,4.9 -11.7,0Z" fill="#406f4a"/><path transform="translate(6.1,87.4) rotate(104.4)" d="M-10.5,0 L10.5,0" stroke="#2a4a30" stroke-width="0.4"/><path transform="translate(66.6,21.9) rotate(80.4)" d="M-14,0 Q0,-6.9 14,0 Q0,6.9 -14,0Z" fill="#5e9262"/><path transform="translate(66.6,21.9) rotate(80.4)" d="M-12.6,0 L12.6,0" stroke="#2a4a30" stroke-width="0.6"/><path transform="translate(78.3,54.3) rotate(125.2)" d="M-19.2,0 Q0,-9.4 19.2,0 Q0,9.4 -19.2,0Z" fill="#457a4e"/><path transform="translate(78.3,54.3) rotate(125.2)" d="M-17.2,0 L17.2,0" stroke="#2a4a30" stroke-width="0.8"/><path transform="translate(63.4,-2.8) rotate(123.9)" d="M-22.5,0 Q0,-8.8 22.5,0 Q0,8.8 -22.5,0Z" fill="#457a4e"/><path transform="translate(63.4,-2.8) rotate(123.9)" d="M-20.2,0 L20.2,0" stroke="#2a4a30" stroke-width="0.7"/><path transform="translate(72.9,83.5) rotate(127.4)" d="M-12.3,0 Q0,-6 12.3,0 Q0,6 -12.3,0Z" fill="#5e9262"/><path transform="translate(72.9,83.5) rotate(127.4)" d="M-11,0 L11,0" stroke="#2a4a30" stroke-width="0.5"/><path transform="translate(93.3,72.3) rotate(100.2)" d="M-19.6,0 Q0,-9.6 19.6,0 Q0,9.6 -19.6,0Z" fill="#68996a"/><path transform="translate(93.3,72.3) rotate(100.2)" d="M-17.7,0 L17.7,0" stroke="#2a4a30" stroke-width="0.8"/><path transform="translate(15.3,7.8) rotate(178.2)" d="M-16.5,0 Q0,-7.3 16.5,0 Q0,7.3 -16.5,0Z" fill="#52875a"/><path transform="translate(15.3,7.8) rotate(178.2)" d="M-14.8,0 L14.8,0" stroke="#2a4a30" stroke-width="0.6"/><path transform="translate(30.1,9.9) rotate(4.3)" d="M-18.2,0 Q0,-8.9 18.2,0 Q0,8.9 -18.2,0Z" fill="#52875a"/><path transform="translate(30.1,9.9) rotate(4.3)" d="M-16.3,0 L16.3,0" stroke="#2a4a30" stroke-width="0.8"/><path transform="translate(86,20.8) rotate(153.6)" d="M-12.8,0 Q0,-6 12.8,0 Q0,6 -12.8,0Z" fill="#3a6a45"/><path transform="translate(86,20.8) rotate(153.6)" d="M-11.5,0 L11.5,0" stroke="#2a4a30" stroke-width="0.5"/><path transform="translate(55,84.1) rotate(179)" d="M-16.3,0 Q0,-6.1 16.3,0 Q0,6.1 -16.3,0Z" fill="#68996a"/><path transform="translate(55,84.1) rotate(179)" d="M-14.6,0 L14.6,0" stroke="#2a4a30" stroke-width="0.5"/><path transform="translate(7.1,8.9) rotate(21.9)" d="M-13.9,0 Q0,-6.6 13.9,0 Q0,6.6 -13.9,0Z" fill="#52875a"/><path transform="translate(7.1,8.9) rotate(21.9)" d="M-12.5,0 L12.5,0" stroke="#2a4a30" stroke-width="0.6"/><path transform="translate(29.8,68.9) rotate(7.3)" d="M-15.3,0 Q0,-6.1 15.3,0 Q0,6.1 -15.3,0Z" fill="#5e9262"/><path transform="translate(29.8,68.9) rotate(7.3)" d="M-13.8,0 L13.8,0" stroke="#2a4a30" stroke-width="0.5"/><path transform="translate(64.7,3.6) rotate(80.6)" d="M-17.3,0 Q0,-8.1 17.3,0 Q0,8.1 -17.3,0Z" fill="#52875a"/><path transform="translate(64.7,3.6) rotate(80.6)" d="M-15.6,0 L15.6,0" stroke="#2a4a30" stroke-width="0.7"/><path transform="translate(5.7,86.6) rotate(137.8)" d="M-15.5,0 Q0,-7.4 15.5,0 Q0,7.4 -15.5,0Z" fill="#406f4a"/><path transform="translate(5.7,86.6) rotate(137.8)" d="M-13.9,0 L13.9,0" stroke="#2a4a30" stroke-width="0.6"/><path transform="translate(21.2,39.8) rotate(68.8)" d="M-22.7,0 Q0,-8.3 22.7,0 Q0,8.3 -22.7,0Z" fill="#5e9262"/><path transform="translate(21.2,39.8) rotate(68.8)" d="M-20.4,0 L20.4,0" stroke="#2a4a30" stroke-width="0.7"/><path transform="translate(98.6,84.1) rotate(137.8)" d="M-22.2,0 Q0,-11.2 22.2,0 Q0,11.2 -22.2,0Z" fill="#52875a"/><path transform="translate(98.6,84.1) rotate(137.8)" d="M-20,0 L20,0" stroke="#2a4a30" stroke-width="0.9"/><path transform="translate(89.7,26.1) rotate(126.5)" d="M-12.9,0 Q0,-5.6 12.9,0 Q0,5.6 -12.9,0Z" fill="#3a6a45"/><path transform="translate(89.7,26.1) rotate(126.5)" d="M-11.6,0 L11.6,0" stroke="#2a4a30" stroke-width="0.5"/><path transform="translate(91.2,75.4) rotate(165.2)" d="M-14.8,0 Q0,-6.9 14.8,0 Q0,6.9 -14.8,0Z" fill="#68996a"/><path transform="translate(91.2,75.4) rotate(165.2)" d="M-13.3,0 L13.3,0" stroke="#2a4a30" stroke-width="0.6"/><path transform="translate(1.9,9.8) rotate(39.2)" d="M-15.9,0 Q0,-8.1 15.9,0 Q0,8.1 -15.9,0Z" fill="#457a4e"/><path transform="translate(1.9,9.8) rotate(39.2)" d="M-14.3,0 L14.3,0" stroke="#2a4a30" stroke-width="0.7"/><path transform="translate(32.2,37.5) rotate(170.6)" d="M-12.3,0 Q0,-4.5 12.3,0 Q0,4.5 -12.3,0Z" fill="#52875a"/><path transform="translate(32.2,37.5) rotate(170.6)" d="M-11,0 L11,0" stroke="#2a4a30" stroke-width="0.4"/><path transform="translate(18.1,2.9) rotate(29.6)" d="M-14.5,0 Q0,-5.4 14.5,0 Q0,5.4 -14.5,0Z" fill="#52875a"/><path transform="translate(18.1,2.9) rotate(29.6)" d="M-13,0 L13,0" stroke="#2a4a30" stroke-width="0.5"/><path transform="translate(105,43.1) rotate(118.4)" d="M-16.5,0 Q0,-8.3 16.5,0 Q0,8.3 -16.5,0Z" fill="#5e9262"/><path transform="translate(105,43.1) rotate(118.4)" d="M-14.9,0 L14.9,0" stroke="#2a4a30" stroke-width="0.7"/><path transform="translate(113.1,62.1) rotate(35.1)" d="M-16.3,0 Q0,-6.7 16.3,0 Q0,6.7 -16.3,0Z" fill="#5e9262"/><path transform="translate(113.1,62.1) rotate(35.1)" d="M-14.7,0 L14.7,0" stroke="#2a4a30" stroke-width="0.6"/><path transform="translate(49.1,59.3) rotate(132)" d="M-16.4,0 Q0,-7.3 16.4,0 Q0,7.3 -16.4,0Z" fill="#3a6a45"/><path transform="translate(49.1,59.3) rotate(132)" d="M-14.8,0 L14.8,0" stroke="#2a4a30" stroke-width="0.6"/><path transform="translate(76.8,53.1) rotate(93.3)" d="M-11.9,0 Q0,-4.5 11.9,0 Q0,4.5 -11.9,0Z" fill="#406f4a"/><path transform="translate(76.8,53.1) rotate(93.3)" d="M-10.7,0 L10.7,0" stroke="#2a4a30" stroke-width="0.4"/><path transform="translate(-0.9,79.2) rotate(55.4)" d="M-13.5,0 Q0,-6.1 13.5,0 Q0,6.1 -13.5,0Z" fill="#406f4a"/><path transform="translate(-0.9,79.2) rotate(55.4)" d="M-12.1,0 L12.1,0" stroke="#2a4a30" stroke-width="0.5"/><path transform="translate(-4.3,81) rotate(152.2)" d="M-12.4,0 Q0,-5.6 12.4,0 Q0,5.6 -12.4,0Z" fill="#457a4e"/><path transform="translate(-4.3,81) rotate(152.2)" d="M-11.1,0 L11.1,0" stroke="#2a4a30" stroke-width="0.5"/><path transform="translate(11.4,37.1) rotate(66.6)" d="M-14.8,0 Q0,-7 14.8,0 Q0,7 -14.8,0Z" fill="#406f4a"/><path transform="translate(11.4,37.1) rotate(66.6)" d="M-13.3,0 L13.3,0" stroke="#2a4a30" stroke-width="0.6"/><path transform="translate(93.8,68.3) rotate(111.2)" d="M-15.9,0 Q0,-5.7 15.9,0 Q0,5.7 -15.9,0Z" fill="#406f4a"/><path transform="translate(93.8,68.3) rotate(111.2)" d="M-14.3,0 L14.3,0" stroke="#2a4a30" stroke-width="0.5"/><path transform="translate(75.9,64.8) rotate(7.6)" d="M-8.7,0 Q0,-8.9 8.7,0 Q0,8.9 -8.7,0Z" fill="#ec5440"/><path transform="translate(69.7,71.2) rotate(79.6)" d="M-8.7,0 Q0,-8.9 8.7,0 Q0,8.9 -8.7,0Z" fill="#ec5440"/><path transform="translate(61.7,67.3) rotate(151.6)" d="M-8.7,0 Q0,-8.9 8.7,0 Q0,8.9 -8.7,0Z" fill="#ec5440"/><path transform="translate(62.9,58.5) rotate(223.6)" d="M-8.7,0 Q0,-8.9 8.7,0 Q0,8.9 -8.7,0Z" fill="#ec5440"/><path transform="translate(71.6,56.9) rotate(295.6)" d="M-8.7,0 Q0,-8.9 8.7,0 Q0,8.9 -8.7,0Z" fill="#ec5440"/><circle cx="68.3" cy="63.8" r="2" fill="#f0c040"/><path transform="translate(81.8,81.4) rotate(48.2)" d="M-9.3,0 Q0,-9.6 9.3,0 Q0,9.6 -9.3,0Z" fill="#d84232"/><path transform="translate(72.3,82.4) rotate(120.2)" d="M-9.3,0 Q0,-9.6 9.3,0 Q0,9.6 -9.3,0Z" fill="#d84232"/><path transform="translate(68.4,73.6) rotate(192.2)" d="M-9.3,0 Q0,-9.6 9.3,0 Q0,9.6 -9.3,0Z" fill="#d84232"/><path transform="translate(75.5,67.3) rotate(264.2)" d="M-9.3,0 Q0,-9.6 9.3,0 Q0,9.6 -9.3,0Z" fill="#d84232"/><path transform="translate(83.8,72.1) rotate(336.2)" d="M-9.3,0 Q0,-9.6 9.3,0 Q0,9.6 -9.3,0Z" fill="#d84232"/><circle cx="76.4" cy="75.3" r="2.1" fill="#f0c040"/><path transform="translate(72.5,83.2) rotate(0.5)" d="M-8.7,0 Q0,-8.9 8.7,0 Q0,8.9 -8.7,0Z" fill="#ec5440"/><path transform="translate(67.2,90.4) rotate(72.5)" d="M-8.7,0 Q0,-8.9 8.7,0 Q0,8.9 -8.7,0Z" fill="#ec5440"/><path transform="translate(58.8,87.5) rotate(144.5)" d="M-8.7,0 Q0,-8.9 8.7,0 Q0,8.9 -8.7,0Z" fill="#ec5440"/><path transform="translate(58.9,78.7) rotate(216.5)" d="M-8.7,0 Q0,-8.9 8.7,0 Q0,8.9 -8.7,0Z" fill="#ec5440"/><path transform="translate(67.3,76) rotate(288.5)" d="M-8.7,0 Q0,-8.9 8.7,0 Q0,8.9 -8.7,0Z" fill="#ec5440"/><circle cx="64.9" cy="83.2" r="2" fill="#f0c040"/><path transform="translate(65.3,83) rotate(53.2)" d="M-11,0 Q0,-11.2 11,0 Q0,11.2 -11,0Z" fill="#d84232"/><path transform="translate(54.1,83.2) rotate(125.2)" d="M-11,0 Q0,-11.2 11,0 Q0,11.2 -11,0Z" fill="#d84232"/><path transform="translate(50.5,72.6) rotate(197.2)" d="M-11,0 Q0,-11.2 11,0 Q0,11.2 -11,0Z" fill="#d84232"/><path transform="translate(59.5,65.8) rotate(269.2)" d="M-11,0 Q0,-11.2 11,0 Q0,11.2 -11,0Z" fill="#d84232"/><path transform="translate(68.6,72.3) rotate(341.2)" d="M-11,0 Q0,-11.2 11,0 Q0,11.2 -11,0Z" fill="#d84232"/><circle cx="59.6" cy="75.4" r="2.5" fill="#f0c040"/><path transform="translate(60,72.9) rotate(34)" d="M-10,0 Q0,-10.2 10,0 Q0,10.2 -10,0Z" fill="#d84232"/><path transform="translate(50.4,76.4) rotate(106)" d="M-10,0 Q0,-10.2 10,0 Q0,10.2 -10,0Z" fill="#d84232"/><path transform="translate(44.2,68.4) rotate(178)" d="M-10,0 Q0,-10.2 10,0 Q0,10.2 -10,0Z" fill="#d84232"/><path transform="translate(49.9,59.9) rotate(250)" d="M-10,0 Q0,-10.2 10,0 Q0,10.2 -10,0Z" fill="#d84232"/><path transform="translate(59.6,62.7) rotate(322)" d="M-10,0 Q0,-10.2 10,0 Q0,10.2 -10,0Z" fill="#d84232"/><circle cx="52.8" cy="68.1" r="2.3" fill="#f0c040"/><path transform="translate(60.9,53.1) rotate(17.6)" d="M-8.9,0 Q0,-9.1 8.9,0 Q0,9.1 -8.9,0Z" fill="#d84232"/><path transform="translate(53.6,58.5) rotate(89.6)" d="M-8.9,0 Q0,-9.1 8.9,0 Q0,9.1 -8.9,0Z" fill="#d84232"/><path transform="translate(46.1,53.2) rotate(161.6)" d="M-8.9,0 Q0,-9.1 8.9,0 Q0,9.1 -8.9,0Z" fill="#d84232"/><path transform="translate(48.9,44.5) rotate(233.6)" d="M-8.9,0 Q0,-9.1 8.9,0 Q0,9.1 -8.9,0Z" fill="#d84232"/><path transform="translate(58,44.4) rotate(305.6)" d="M-8.9,0 Q0,-9.1 8.9,0 Q0,9.1 -8.9,0Z" fill="#d84232"/><circle cx="53.5" cy="50.7" r="2" fill="#f0c040"/><path transform="translate(78,50.8) rotate(36.7)" d="M-9.3,0 Q0,-9.5 9.3,0 Q0,9.5 -9.3,0Z" fill="#f06448"/><path transform="translate(68.9,53.6) rotate(108.7)" d="M-9.3,0 Q0,-9.5 9.3,0 Q0,9.5 -9.3,0Z" fill="#f06448"/><path transform="translate(63.4,45.9) rotate(180.7)" d="M-9.3,0 Q0,-9.5 9.3,0 Q0,9.5 -9.3,0Z" fill="#f06448"/><path transform="translate(69.1,38.3) rotate(252.7)" d="M-9.3,0 Q0,-9.5 9.3,0 Q0,9.5 -9.3,0Z" fill="#f06448"/><path transform="translate(78.1,41.3) rotate(324.7)" d="M-9.3,0 Q0,-9.5 9.3,0 Q0,9.5 -9.3,0Z" fill="#f06448"/><circle cx="71.5" cy="46" r="2.1" fill="#f0c040"/><path transform="translate(84,52.7) rotate(31.5)" d="M-9.1,0 Q0,-9.3 9.1,0 Q0,9.3 -9.1,0Z" fill="#e04636"/><path transform="translate(75.5,56.2) rotate(103.5)" d="M-9.1,0 Q0,-9.3 9.1,0 Q0,9.3 -9.1,0Z" fill="#e04636"/><path transform="translate(69.5,49.2) rotate(175.5)" d="M-9.1,0 Q0,-9.3 9.1,0 Q0,9.3 -9.1,0Z" fill="#e04636"/><path transform="translate(74.3,41.3) rotate(247.5)" d="M-9.1,0 Q0,-9.3 9.1,0 Q0,9.3 -9.1,0Z" fill="#e04636"/><path transform="translate(83.3,43.5) rotate(319.5)" d="M-9.1,0 Q0,-9.3 9.1,0 Q0,9.3 -9.1,0Z" fill="#e04636"/><circle cx="77.3" cy="48.6" r="2" fill="#f0c040"/></g>
<rect x="71.6" y="329.7" width="115.1" height="86.2" rx="0" fill="none" stroke="#fff" stroke-width="1.2"/>
<g transform="translate(86.1,344.2)" clip-path="url(#c7)"><rect width="114.2" height="85.8" fill="#223526"/><path transform="translate(65.9,55.4) rotate(117.3)" d="M-28.6,0 Q0,-12.8 28.6,0 Q0,12.8 -28.6,0Z" fill="#3a6643"/><path transform="translate(117.3,81.1) rotate(123.7)" d="M-30.5,0 Q0,-13.9 30.5,0 Q0,13.9 -30.5,0Z" fill="#1a2a1d"/><path transform="translate(50.2,84.8) rotate(55.7)" d="M-25.8,0 Q0,-11.6 25.8,0 Q0,11.6 -25.8,0Z" fill="#1a2a1d"/><path transform="translate(107.2,65.8) rotate(146.7)" d="M-29.2,0 Q0,-15.1 29.2,0 Q0,15.1 -29.2,0Z" fill="#2a4830"/><path transform="translate(110.9,48.1) rotate(10.1)" d="M-26.5,0 Q0,-11.1 26.5,0 Q0,11.1 -26.5,0Z" fill="#2a4830"/><path transform="translate(119.3,89.2) rotate(117.6)" d="M-17,0 Q0,-7.9 17,0 Q0,7.9 -17,0Z" fill="#3a6643"/><path transform="translate(58.7,25.9) rotate(99.9)" d="M-21.4,0 Q0,-11 21.4,0 Q0,11 -21.4,0Z" fill="#1a2a1d"/><path transform="translate(17.6,6.1) rotate(134.5)" d="M-16.5,0 Q0,-9 16.5,0 Q0,9 -16.5,0Z" fill="#2f5236"/><path transform="translate(2.2,4.5) rotate(73.8)" d="M-28.4,0 Q0,-11.4 28.4,0 Q0,11.4 -28.4,0Z" fill="#2a4830"/><path transform="translate(19.8,13.9) rotate(85.2)" d="M-26.1,0 Q0,-12.4 26.1,0 Q0,12.4 -26.1,0Z" fill="#2a4830"/><path transform="translate(68.4,38.6) rotate(1.7)" d="M-29.3,0 Q0,-14.1 29.3,0 Q0,14.1 -29.3,0Z" fill="#1a2a1d"/><path transform="translate(41.9,69.4) rotate(2.7)" d="M-17.7,0 Q0,-9.7 17.7,0 Q0,9.7 -17.7,0Z" fill="#1a2a1d"/><path transform="translate(85.1,78.1) rotate(163.8)" d="M-29,0 Q0,-15.8 29,0 Q0,15.8 -29,0Z" fill="#1a2a1d"/><path transform="translate(-1.5,4) rotate(83.3)" d="M-25.3,0 Q0,-13.2 25.3,0 Q0,13.2 -25.3,0Z" fill="#1a2a1d"/><path transform="translate(113.2,34.1) rotate(136.4)" d="M-23.3,0 Q0,-11.8 23.3,0 Q0,11.8 -23.3,0Z" fill="#1a2a1d"/><path transform="translate(-3.1,33.2) rotate(19)" d="M-28.4,0 Q0,-12.9 28.4,0 Q0,12.9 -28.4,0Z" fill="#3a6643"/><path transform="translate(109.2,25.9) rotate(31)" d="M-30.7,0 Q0,-17 30.7,0 Q0,17 -30.7,0Z" fill="#2a4830"/><path transform="translate(98.7,36.7) rotate(156.4)" d="M-28.5,0 Q0,-15.9 28.5,0 Q0,15.9 -28.5,0Z" fill="#2f5236"/><path transform="translate(101.1,54.7) rotate(16.6)" d="M-27.1,0 Q0,-11.9 27.1,0 Q0,11.9 -27.1,0Z" fill="#2a4830"/><path transform="translate(100.8,3.1) rotate(35.8)" d="M-17.8,0 Q0,-9.7 17.8,0 Q0,9.7 -17.8,0Z" fill="#2f5236"/><path transform="translate(2.4,59.9) rotate(95.1)" d="M-16.2,0 Q0,-7.6 16.2,0 Q0,7.6 -16.2,0Z" fill="#2a4830"/><path transform="translate(-4.9,84.3) rotate(146.5)" d="M-22.4,0 Q0,-12.4 22.4,0 Q0,12.4 -22.4,0Z" fill="#3a6643"/><path transform="translate(51.7,69.4) rotate(100.2)" d="M-25.1,0 Q0,-10.9 25.1,0 Q0,10.9 -25.1,0Z" fill="#2f5236"/><path transform="translate(36.3,4.1) rotate(55.7)" d="M-29.8,0 Q0,-14.4 29.8,0 Q0,14.4 -29.8,0Z" fill="#2f5236"/><path transform="translate(89.1,74.6) rotate(155.2)" d="M-16.2,0 Q0,-6.5 16.2,0 Q0,6.5 -16.2,0Z" fill="#2a4830"/><path transform="translate(35.3,7.8) rotate(89.2)" d="M-21.1,0 Q0,-9.6 21.1,0 Q0,9.6 -21.1,0Z" fill="#1a2a1d"/><path transform="translate(28.4,77.6) rotate(46.5)" d="M-17.4,0 Q0,-8.5 17.4,0 Q0,8.5 -17.4,0Z" fill="#52875a"/><path transform="translate(28.4,77.6) rotate(46.5)" d="M-15.7,0 L15.7,0" stroke="#2a4a30" stroke-width="0.7"/><path transform="translate(46.4,8) rotate(82.8)" d="M-20.6,0 Q0,-9.1 20.6,0 Q0,9.1 -20.6,0Z" fill="#68996a"/><path transform="translate(46.4,8) rotate(82.8)" d="M-18.5,0 L18.5,0" stroke="#2a4a30" stroke-width="0.8"/><path transform="translate(87,-3.6) rotate(33.5)" d="M-11.7,0 Q0,-4.5 11.7,0 Q0,4.5 -11.7,0Z" fill="#68996a"/><path transform="translate(87,-3.6) rotate(33.5)" d="M-10.5,0 L10.5,0" stroke="#2a4a30" stroke-width="0.4"/><path transform="translate(26,24.6) rotate(80.8)" d="M-20.9,0 Q0,-7.5 20.9,0 Q0,7.5 -20.9,0Z" fill="#5e9262"/><path transform="translate(26,24.6) rotate(80.8)" d="M-18.8,0 L18.8,0" stroke="#2a4a30" stroke-width="0.6"/><path transform="translate(66.2,86.1) rotate(51.5)" d="M-14.5,0 Q0,-6.9 14.5,0 Q0,6.9 -14.5,0Z" fill="#5e9262"/><path transform="translate(66.2,86.1) rotate(51.5)" d="M-13,0 L13,0" stroke="#2a4a30" stroke-width="0.6"/><path transform="translate(117.2,28.3) rotate(116.1)" d="M-12.8,0 Q0,-6.5 12.8,0 Q0,6.5 -12.8,0Z" fill="#5e9262"/><path transform="translate(117.2,28.3) rotate(116.1)" d="M-11.5,0 L11.5,0" stroke="#2a4a30" stroke-width="0.5"/><path transform="translate(35.9,72.2) rotate(143)" d="M-11.9,0 Q0,-4.7 11.9,0 Q0,4.7 -11.9,0Z" fill="#406f4a"/><path transform="translate(35.9,72.2) rotate(143)" d="M-10.7,0 L10.7,0" stroke="#2a4a30" stroke-width="0.4"/><path transform="translate(14.5,82.1) rotate(152.2)" d="M-18.5,0 Q0,-8.8 18.5,0 Q0,8.8 -18.5,0Z" fill="#5e9262"/><path transform="translate(14.5,82.1) rotate(152.2)" d="M-16.6,0 L16.6,0" stroke="#2a4a30" stroke-width="0.7"/><path transform="translate(18,14.5) rotate(146.3)" d="M-21.5,0 Q0,-9.1 21.5,0 Q0,9.1 -21.5,0Z" fill="#3a6a45"/><path transform="translate(18,14.5) rotate(146.3)" d="M-19.4,0 L19.4,0" stroke="#2a4a30" stroke-width="0.8"/><path transform="translate(29.7,32) rotate(105.8)" d="M-15,0 Q0,-6.4 15,0 Q0,6.4 -15,0Z" fill="#68996a"/><path transform="translate(29.7,32) rotate(105.8)" d="M-13.5,0 L13.5,0" stroke="#2a4a30" stroke-width="0.5"/><path transform="translate(113.7,71.3) rotate(17.7)" d="M-16.5,0 Q0,-6.9 16.5,0 Q0,6.9 -16.5,0Z" fill="#5e9262"/><path transform="translate(113.7,71.3) rotate(17.7)" d="M-14.8,0 L14.8,0" stroke="#2a4a30" stroke-width="0.6"/><path transform="translate(14.2,16.3) rotate(69.1)" d="M-11.8,0 Q0,-4.5 11.8,0 Q0,4.5 -11.8,0Z" fill="#5e9262"/><path transform="translate(14.2,16.3) rotate(69.1)" d="M-10.6,0 L10.6,0" stroke="#2a4a30" stroke-width="0.4"/><path transform="translate(108.8,74.5) rotate(143.5)" d="M-12.9,0 Q0,-5.1 12.9,0 Q0,5.1 -12.9,0Z" fill="#406f4a"/><path transform="translate(108.8,74.5) rotate(143.5)" d="M-11.6,0 L11.6,0" stroke="#2a4a30" stroke-width="0.4"/><path transform="translate(46.3,9.6) rotate(143)" d="M-21.9,0 Q0,-9.5 21.9,0 Q0,9.5 -21.9,0Z" fill="#5e9262"/><path transform="translate(46.3,9.6) rotate(143)" d="M-19.7,0 L19.7,0" stroke="#2a4a30" stroke-width="0.8"/><path transform="translate(119,80.6) rotate(105.6)" d="M-17.5,0 Q0,-7.3 17.5,0 Q0,7.3 -17.5,0Z" fill="#5e9262"/><path transform="translate(119,80.6) rotate(105.6)" d="M-15.7,0 L15.7,0" stroke="#2a4a30" stroke-width="0.6"/><path transform="translate(56.3,43.5) rotate(97.9)" d="M-15,0 Q0,-6.6 15,0 Q0,6.6 -15,0Z" fill="#3a6a45"/><path transform="translate(56.3,43.5) rotate(97.9)" d="M-13.5,0 L13.5,0" stroke="#2a4a30" stroke-width="0.6"/><path transform="translate(69.2,82.5) rotate(2.5)" d="M-19.2,0 Q0,-8.1 19.2,0 Q0,8.1 -19.2,0Z" fill="#52875a"/><path transform="translate(69.2,82.5) rotate(2.5)" d="M-17.2,0 L17.2,0" stroke="#2a4a30" stroke-width="0.7"/><path transform="translate(102.1,24.3) rotate(157.6)" d="M-20.9,0 Q0,-10.5 20.9,0 Q0,10.5 -20.9,0Z" fill="#68996a"/><path transform="translate(102.1,24.3) rotate(157.6)" d="M-18.8,0 L18.8,0" stroke="#2a4a30" stroke-width="0.9"/><path transform="translate(18.8,38.2) rotate(108.3)" d="M-20.8,0 Q0,-8.3 20.8,0 Q0,8.3 -20.8,0Z" fill="#406f4a"/><path transform="translate(18.8,38.2) rotate(108.3)" d="M-18.7,0 L18.7,0" stroke="#2a4a30" stroke-width="0.7"/><path transform="translate(111.6,28.8) rotate(57)" d="M-12.8,0 Q0,-4.7 12.8,0 Q0,4.7 -12.8,0Z" fill="#406f4a"/><path transform="translate(111.6,28.8) rotate(57)" d="M-11.5,0 L11.5,0" stroke="#2a4a30" stroke-width="0.4"/><path transform="translate(85.6,55) rotate(174.6)" d="M-22.7,0 Q0,-10.8 22.7,0 Q0,10.8 -22.7,0Z" fill="#406f4a"/><path transform="translate(85.6,55) rotate(174.6)" d="M-20.4,0 L20.4,0" stroke="#2a4a30" stroke-width="0.9"/><path transform="translate(35.5,57.1) rotate(20.6)" d="M-15.4,0 Q0,-6.2 15.4,0 Q0,6.2 -15.4,0Z" fill="#406f4a"/><path transform="translate(35.5,57.1) rotate(20.6)" d="M-13.9,0 L13.9,0" stroke="#2a4a30" stroke-width="0.5"/><path transform="translate(107.4,-1.4) rotate(75.2)" d="M-19.6,0 Q0,-7.2 19.6,0 Q0,7.2 -19.6,0Z" fill="#3a6a45"/><path transform="translate(107.4,-1.4) rotate(75.2)" d="M-17.6,0 L17.6,0" stroke="#2a4a30" stroke-width="0.6"/><path transform="translate(34.5,5.9) rotate(144.3)" d="M-20.9,0 Q0,-9.7 20.9,0 Q0,9.7 -20.9,0Z" fill="#3a6a45"/><path transform="translate(34.5,5.9) rotate(144.3)" d="M-18.8,0 L18.8,0" stroke="#2a4a30" stroke-width="0.8"/><path transform="translate(24.9,1.6) rotate(132.9)" d="M-11.6,0 Q0,-5.1 11.6,0 Q0,5.1 -11.6,0Z" fill="#68996a"/><path transform="translate(24.9,1.6) rotate(132.9)" d="M-10.4,0 L10.4,0" stroke="#2a4a30" stroke-width="0.4"/><path transform="translate(5.5,38.1) rotate(109.6)" d="M-14.9,0 Q0,-6.1 14.9,0 Q0,6.1 -14.9,0Z" fill="#68996a"/><path transform="translate(5.5,38.1) rotate(109.6)" d="M-13.4,0 L13.4,0" stroke="#2a4a30" stroke-width="0.5"/><path transform="translate(16.8,86.4) rotate(31.9)" d="M-19.6,0 Q0,-7.4 19.6,0 Q0,7.4 -19.6,0Z" fill="#3a6a45"/><path transform="translate(16.8,86.4) rotate(31.9)" d="M-17.6,0 L17.6,0" stroke="#2a4a30" stroke-width="0.6"/><path transform="translate(38.4,66.5) rotate(0.2)" d="M-14.7,0 Q0,-6.8 14.7,0 Q0,6.8 -14.7,0Z" fill="#52875a"/><path transform="translate(38.4,66.5) rotate(0.2)" d="M-13.2,0 L13.2,0" stroke="#2a4a30" stroke-width="0.6"/><path transform="translate(68.6,1.7) rotate(57.6)" d="M-17.5,0 Q0,-7.9 17.5,0 Q0,7.9 -17.5,0Z" fill="#52875a"/><path transform="translate(68.6,1.7) rotate(57.6)" d="M-15.8,0 L15.8,0" stroke="#2a4a30" stroke-width="0.7"/><path transform="translate(110.9,57.7) rotate(112.6)" d="M-16.1,0 Q0,-6.2 16.1,0 Q0,6.2 -16.1,0Z" fill="#3a6a45"/><path transform="translate(110.9,57.7) rotate(112.6)" d="M-14.5,0 L14.5,0" stroke="#2a4a30" stroke-width="0.5"/><path transform="translate(68.7,36.3) rotate(88.2)" d="M-21.6,0 Q0,-10 21.6,0 Q0,10 -21.6,0Z" fill="#457a4e"/><path transform="translate(68.7,36.3) rotate(88.2)" d="M-19.4,0 L19.4,0" stroke="#2a4a30" stroke-width="0.8"/><path transform="translate(-4.2,55.4) rotate(130.2)" d="M-13.6,0 Q0,-5.6 13.6,0 Q0,5.6 -13.6,0Z" fill="#406f4a"/><path transform="translate(-4.2,55.4) rotate(130.2)" d="M-12.2,0 L12.2,0" stroke="#2a4a30" stroke-width="0.5"/><path transform="translate(33.7,66.9) rotate(31.3)" d="M-15.4,0 Q0,-7.7 15.4,0 Q0,7.7 -15.4,0Z" fill="#68996a"/><path transform="translate(33.7,66.9) rotate(31.3)" d="M-13.8,0 L13.8,0" stroke="#2a4a30" stroke-width="0.7"/><path transform="translate(101.8,6.3) rotate(30.9)" d="M-12.2,0 Q0,-4.4 12.2,0 Q0,4.4 -12.2,0Z" fill="#52875a"/><path transform="translate(101.8,6.3) rotate(30.9)" d="M-11,0 L11,0" stroke="#2a4a30" stroke-width="0.4"/><path transform="translate(63.3,33.5) rotate(110)" d="M-18.6,0 Q0,-8.5 18.6,0 Q0,8.5 -18.6,0Z" fill="#68996a"/><path transform="translate(63.3,33.5) rotate(110)" d="M-16.8,0 L16.8,0" stroke="#2a4a30" stroke-width="0.7"/><path transform="translate(-3.4,72.4) rotate(100.3)" d="M-21.7,0 Q0,-9.8 21.7,0 Q0,9.8 -21.7,0Z" fill="#5e9262"/><path transform="translate(-3.4,72.4) rotate(100.3)" d="M-19.6,0 L19.6,0" stroke="#2a4a30" stroke-width="0.8"/><path transform="translate(42,71.4) rotate(158.2)" d="M-15.6,0 Q0,-7.6 15.6,0 Q0,7.6 -15.6,0Z" fill="#52875a"/><path transform="translate(42,71.4) rotate(158.2)" d="M-14,0 L14,0" stroke="#2a4a30" stroke-width="0.6"/><path transform="translate(108.6,61.1) rotate(115)" d="M-17.1,0 Q0,-6.9 17.1,0 Q0,6.9 -17.1,0Z" fill="#3a6a45"/><path transform="translate(108.6,61.1) rotate(115)" d="M-15.4,0 L15.4,0" stroke="#2a4a30" stroke-width="0.6"/><path transform="translate(87.1,44.5) rotate(102.4)" d="M-18.8,0 Q0,-7.2 18.8,0 Q0,7.2 -18.8,0Z" fill="#52875a"/><path transform="translate(87.1,44.5) rotate(102.4)" d="M-16.9,0 L16.9,0" stroke="#2a4a30" stroke-width="0.6"/><path transform="translate(8.4,47.8) rotate(142.4)" d="M-20.9,0 Q0,-8.3 20.9,0 Q0,8.3 -20.9,0Z" fill="#457a4e"/><path transform="translate(8.4,47.8) rotate(142.4)" d="M-18.8,0 L18.8,0" stroke="#2a4a30" stroke-width="0.7"/><path transform="translate(75.3,51) rotate(29.6)" d="M-8.9,0 Q0,-9.2 8.9,0 Q0,9.2 -8.9,0Z" fill="#f06448"/><path transform="translate(67,54.8) rotate(101.6)" d="M-8.9,0 Q0,-9.2 8.9,0 Q0,9.2 -8.9,0Z" fill="#f06448"/><path transform="translate(60.8,48.1) rotate(173.6)" d="M-8.9,0 Q0,-9.2 8.9,0 Q0,9.2 -8.9,0Z" fill="#f06448"/><path transform="translate(65.3,40.1) rotate(245.6)" d="M-8.9,0 Q0,-9.2 8.9,0 Q0,9.2 -8.9,0Z" fill="#f06448"/><path transform="translate(74.3,41.9) rotate(317.6)" d="M-8.9,0 Q0,-9.2 8.9,0 Q0,9.2 -8.9,0Z" fill="#f06448"/><circle cx="68.5" cy="47.2" r="2" fill="#f0c040"/><path transform="translate(86,63.7) rotate(58.8)" d="M-10.5,0 Q0,-10.8 10.5,0 Q0,10.8 -10.5,0Z" fill="#ec5440"/><path transform="translate(75.3,62.8) rotate(130.8)" d="M-10.5,0 Q0,-10.8 10.5,0 Q0,10.8 -10.5,0Z" fill="#ec5440"/><path transform="translate(72.8,52.3) rotate(202.8)" d="M-10.5,0 Q0,-10.8 10.5,0 Q0,10.8 -10.5,0Z" fill="#ec5440"/><path transform="translate(82,46.7) rotate(274.8)" d="M-10.5,0 Q0,-10.8 10.5,0 Q0,10.8 -10.5,0Z" fill="#ec5440"/><path transform="translate(90.2,53.8) rotate(346.8)" d="M-10.5,0 Q0,-10.8 10.5,0 Q0,10.8 -10.5,0Z" fill="#ec5440"/><circle cx="81.3" cy="55.9" r="2.4" fill="#f0c040"/><path transform="translate(77.5,59.6) rotate(2.2)" d="M-10,0 Q0,-10.2 10,0 Q0,10.2 -10,0Z" fill="#ec5440"/><path transform="translate(71.2,67.6) rotate(74.2)" d="M-10,0 Q0,-10.2 10,0 Q0,10.2 -10,0Z" fill="#ec5440"/><path transform="translate(61.6,64.1) rotate(146.2)" d="M-10,0 Q0,-10.2 10,0 Q0,10.2 -10,0Z" fill="#ec5440"/><path transform="translate(62,53.9) rotate(218.2)" d="M-10,0 Q0,-10.2 10,0 Q0,10.2 -10,0Z" fill="#ec5440"/><path transform="translate(71.8,51.1) rotate(290.2)" d="M-10,0 Q0,-10.2 10,0 Q0,10.2 -10,0Z" fill="#ec5440"/><circle cx="68.8" cy="59.3" r="2.3" fill="#f0c040"/><path transform="translate(66,59.1) rotate(18.4)" d="M-10,0 Q0,-10.2 10,0 Q0,10.2 -10,0Z" fill="#f06448"/><path transform="translate(57.7,65) rotate(90.4)" d="M-10,0 Q0,-10.2 10,0 Q0,10.2 -10,0Z" fill="#f06448"/><path transform="translate(49.5,58.9) rotate(162.4)" d="M-10,0 Q0,-10.2 10,0 Q0,10.2 -10,0Z" fill="#f06448"/><path transform="translate(52.8,49.3) rotate(234.4)" d="M-10,0 Q0,-10.2 10,0 Q0,10.2 -10,0Z" fill="#f06448"/><path transform="translate(62.9,49.4) rotate(306.4)" d="M-10,0 Q0,-10.2 10,0 Q0,10.2 -10,0Z" fill="#f06448"/><circle cx="57.8" cy="56.3" r="2.3" fill="#f0c040"/><path transform="translate(59.9,51) rotate(16)" d="M-9.5,0 Q0,-9.8 9.5,0 Q0,9.8 -9.5,0Z" fill="#f06448"/><path transform="translate(52.2,57) rotate(88)" d="M-9.5,0 Q0,-9.8 9.5,0 Q0,9.8 -9.5,0Z" fill="#f06448"/><path transform="translate(44.1,51.6) rotate(160)" d="M-9.5,0 Q0,-9.8 9.5,0 Q0,9.8 -9.5,0Z" fill="#f06448"/><path transform="translate(46.8,42.2) rotate(232)" d="M-9.5,0 Q0,-9.8 9.5,0 Q0,9.8 -9.5,0Z" fill="#f06448"/><path transform="translate(56.6,41.9) rotate(304)" d="M-9.5,0 Q0,-9.8 9.5,0 Q0,9.8 -9.5,0Z" fill="#f06448"/><circle cx="51.9" cy="48.7" r="2.2" fill="#f0c040"/><path transform="translate(58.5,41.5) rotate(27.4)" d="M-8.9,0 Q0,-9.2 8.9,0 Q0,9.2 -8.9,0Z" fill="#f06448"/><path transform="translate(50.3,45.6) rotate(99.4)" d="M-8.9,0 Q0,-9.2 8.9,0 Q0,9.2 -8.9,0Z" fill="#f06448"/><path transform="translate(43.9,39.1) rotate(171.4)" d="M-8.9,0 Q0,-9.2 8.9,0 Q0,9.2 -8.9,0Z" fill="#f06448"/><path transform="translate(48.1,31) rotate(243.4)" d="M-8.9,0 Q0,-9.2 8.9,0 Q0,9.2 -8.9,0Z" fill="#f06448"/><path transform="translate(57.1,32.4) rotate(315.4)" d="M-8.9,0 Q0,-9.2 8.9,0 Q0,9.2 -8.9,0Z" fill="#f06448"/><circle cx="51.6" cy="37.9" r="2" fill="#f0c040"/><path transform="translate(71.5,38.6) rotate(39.4)" d="M-8.9,0 Q0,-9.1 8.9,0 Q0,9.1 -8.9,0Z" fill="#f06448"/><path transform="translate(62.7,40.9) rotate(111.4)" d="M-8.9,0 Q0,-9.1 8.9,0 Q0,9.1 -8.9,0Z" fill="#f06448"/><path transform="translate(57.8,33.2) rotate(183.4)" d="M-8.9,0 Q0,-9.1 8.9,0 Q0,9.1 -8.9,0Z" fill="#f06448"/><path transform="translate(63.6,26.2) rotate(255.4)" d="M-8.9,0 Q0,-9.1 8.9,0 Q0,9.1 -8.9,0Z" fill="#f06448"/><path transform="translate(72,29.5) rotate(327.4)" d="M-8.9,0 Q0,-9.1 8.9,0 Q0,9.1 -8.9,0Z" fill="#f06448"/><circle cx="65.5" cy="33.7" r="2" fill="#f0c040"/><path transform="translate(84.8,45) rotate(40.9)" d="M-8.7,0 Q0,-8.9 8.7,0 Q0,8.9 -8.7,0Z" fill="#e04636"/><path transform="translate(76.1,47) rotate(112.9)" d="M-8.7,0 Q0,-8.9 8.7,0 Q0,8.9 -8.7,0Z" fill="#e04636"/><path transform="translate(71.5,39.4) rotate(184.9)" d="M-8.7,0 Q0,-8.9 8.7,0 Q0,8.9 -8.7,0Z" fill="#e04636"/><path transform="translate(77.4,32.6) rotate(256.9)" d="M-8.7,0 Q0,-8.9 8.7,0 Q0,8.9 -8.7,0Z" fill="#e04636"/><path transform="translate(85.6,36.1) rotate(328.9)" d="M-8.7,0 Q0,-8.9 8.7,0 Q0,8.9 -8.7,0Z" fill="#e04636"/><circle cx="79.1" cy="40" r="2" fill="#f0c040"/></g>
<rect x="85.5" y="343.6" width="115.4" height="87" rx="0" fill="none" stroke="#fff" stroke-width="1.2"/>
<text x="50.8" y="447.5" font-size="21.5" fill="#111" text-anchor="start">Rendered Images</text>
<g transform="translate(102.4,466.7)" clip-path="url(#c8)"><rect width="83.7" height="80.6" fill="#7a5a3a"/><rect width="83.7" height="8.1" fill="#d0683a"/><rect y="8.1" width="8.4" height="72.5" fill="#5a6a40"/></g>
<g transform="translate(106.8,472.7)" clip-path="url(#c9)"><rect width="83.7" height="81.3" fill="#2a4c90"/><rect x="46" width="37.7" height="9.8" fill="#d8d060"/><rect width="8.4" height="81.3" fill="#1c3468"/><rect y="24.4" width="5" height="32.5" fill="#6a8a50"/></g>
<rect x="106.2" y="472.1" width="84.9" height="82.5" rx="0" fill="none" stroke="#fff" stroke-width="1.2"/>
<g transform="translate(112.5,478.3)" clip-path="url(#c10)"><rect width="83.5" height="81.3" fill="#8c88b0"/><circle cx="19.9" cy="44.2" r="2.8" fill="#9c9cbc" opacity="0.75"/><circle cx="39.6" cy="47.2" r="1" fill="#6c76a8" opacity="0.75"/><circle cx="69.9" cy="21.1" r="1.4" fill="#7a78a8" opacity="0.75"/><circle cx="59.9" cy="44" r="2" fill="#6c76a8" opacity="0.75"/><circle cx="53.4" cy="12.2" r="1.3" fill="#8a9ac0" opacity="0.75"/><circle cx="77.3" cy="31.7" r="2.3" fill="#a8a2c8" opacity="0.75"/><circle cx="5.3" cy="61.6" r="1.1" fill="#6c76a8" opacity="0.75"/><circle cx="65.1" cy="67" r="1.9" fill="#9c9cbc" opacity="0.75"/><circle cx="60" cy="71.4" r="2.6" fill="#8a9ac0" opacity="0.75"/><circle cx="35.6" cy="59.2" r="1.9" fill="#6c76a8" opacity="0.75"/><circle cx="78.1" cy="71.5" r="1.1" fill="#a8a2c8" opacity="0.75"/><circle cx="41.3" cy="21" r="1.9" fill="#8a9ac0" opacity="0.75"/><circle cx="52.3" cy="24.5" r="2.7" fill="#6c76a8" opacity="0.75"/><circle cx="47.9" cy="43.4" r="2.2" fill="#b4aac4" opacity="0.75"/><circle cx="75.5" cy="55.4" r="2.7" fill="#a8a2c8" opacity="0.75"/><circle cx="82.7" cy="54.6" r="2.4" fill="#7a78a8" opacity="0.75"/><circle cx="27.3" cy="44" r="2.1" fill="#6c76a8" opacity="0.75"/><circle cx="59.6" cy="17.2" r="3" fill="#a09070" opacity="0.75"/><circle cx="22.3" cy="10.1" r="2.7" fill="#b4aac4" opacity="0.75"/><circle cx="82.6" cy="7.2" r="1.1" fill="#a09070" opacity="0.75"/><circle cx="74.9" cy="1.6" r="2.5" fill="#b4aac4" opacity="0.75"/><circle cx="72.9" cy="3.6" r="2.5" fill="#6c76a8" opacity="0.75"/><circle cx="31.5" cy="47.7" r="2.8" fill="#6c76a8" opacity="0.75"/><circle cx="81.9" cy="41.1" r="1.6" fill="#a8a2c8" opacity="0.75"/><circle cx="6.4" cy="48.8" r="2.9" fill="#a8a2c8" opacity="0.75"/><circle cx="81.1" cy="23.7" r="1.3" fill="#9c9cbc" opacity="0.75"/><circle cx="3.5" cy="70.6" r="1.7" fill="#9c9cbc" opacity="0.75"/><circle cx="11.6" cy="70.1" r="1.9" fill="#b4aac4" opacity="0.75"/><circle cx="43.4" cy="52.3" r="2.4" fill="#6c76a8" opacity="0.75"/><circle cx="8.6" cy="79.1" r="2" fill="#a09070" opacity="0.75"/><circle cx="36" cy="58.6" r="2.9" fill="#7a78a8" opacity="0.75"/><circle cx="36.5" cy="21" r="2.1" fill="#9c9cbc" opacity="0.75"/><circle cx="1" cy="33.8" r="1.6" fill="#6c76a8" opacity="0.75"/><circle cx="31.4" cy="47.9" r="1.1" fill="#7a78a8" opacity="0.75"/><circle cx="52.4" cy="37.9" r="2.8" fill="#8a9ac0" opacity="0.75"/><circle cx="50.8" cy="22.7" r="1" fill="#b4aac4" opacity="0.75"/><circle cx="5.1" cy="55" r="1.5" fill="#9c9cbc" opacity="0.75"/><circle cx="38.1" cy="48.2" r="1.4" fill="#9c9cbc" opacity="0.75"/><circle cx="15.5" cy="61.6" r="2.2" fill="#a09070" opacity="0.75"/><circle cx="25.1" cy="30.7" r="2.6" fill="#a09070" opacity="0.75"/><circle cx="81.1" cy="55.6" r="1.6" fill="#7a78a8" opacity="0.75"/><circle cx="18.6" cy="65.3" r="1.7" fill="#7a78a8" opacity="0.75"/><circle cx="56.6" cy="52.8" r="1.2" fill="#a8a2c8" opacity="0.75"/><circle cx="26.9" cy="27.1" r="1.4" fill="#a09070" opacity="0.75"/><circle cx="67.6" cy="78.1" r="1.7" fill="#a8a2c8" opacity="0.75"/><circle cx="54.3" cy="71.9" r="1.5" fill="#b4aac4" opacity="0.75"/><circle cx="65.7" cy="2.8" r="1.6" fill="#7a78a8" opacity="0.75"/><circle cx="69.8" cy="46.7" r="1.6" fill="#a09070" opacity="0.75"/><circle cx="67.4" cy="52.2" r="2.2" fill="#a09070" opacity="0.75"/><circle cx="49.2" cy="34.2" r="2.6" fill="#6c76a8" opacity="0.75"/><circle cx="22.6" cy="28.2" r="1.6" fill="#b4aac4" opacity="0.75"/><circle cx="47.5" cy="2.9" r="1.3" fill="#b4aac4" opacity="0.75"/><circle cx="0.4" cy="76.7" r="3" fill="#6c76a8" opacity="0.75"/><circle cx="36.3" cy="77.2" r="1.4" fill="#8a9ac0" opacity="0.75"/><circle cx="62.3" cy="68" r="2.5" fill="#8a9ac0" opacity="0.75"/><circle cx="80.4" cy="44.2" r="2.7" fill="#7a78a8" opacity="0.75"/><circle cx="71.6" cy="78.9" r="2.6" fill="#a8a2c8" opacity="0.75"/><circle cx="3.8" cy="73.5" r="2" fill="#8a9ac0" opacity="0.75"/><circle cx="16.6" cy="71.8" r="2.2" fill="#b4aac4" opacity="0.75"/><circle cx="1.1" cy="60.6" r="2" fill="#7a78a8" opacity="0.75"/><circle cx="20" cy="1.6" r="1.8" fill="#6c76a8" opacity="0.75"/><circle cx="78.4" cy="49.8" r="1.3" fill="#9c9cbc" opacity="0.75"/><circle cx="81.2" cy="44" r="2.6" fill="#a09070" opacity="0.75"/><circle cx="29.4" cy="16" r="2.8" fill="#6c76a8" opacity="0.75"/><circle cx="10" cy="19.5" r="2.8" fill="#9c9cbc" opacity="0.75"/><circle cx="67.3" cy="67" r="2" fill="#a8a2c8" opacity="0.75"/><circle cx="47.7" cy="32.5" r="1.5" fill="#a09070" opacity="0.75"/><circle cx="22.4" cy="42.9" r="1.1" fill="#b4aac4" opacity="0.75"/><circle cx="27" cy="66.6" r="1.1" fill="#a09070" opacity="0.75"/><circle cx="10.6" cy="10.1" r="2" fill="#a8a2c8" opacity="0.75"/><circle cx="2.8" cy="57.9" r="2" fill="#6c76a8" opacity="0.75"/><circle cx="26.4" cy="25.6" r="1.8" fill="#9c9cbc" opacity="0.75"/><circle cx="32.5" cy="24.7" r="1.4" fill="#9c9cbc" opacity="0.75"/><circle cx="27.5" cy="10.1" r="1" fill="#6c76a8" opacity="0.75"/><circle cx="60.4" cy="64.7" r="1.4" fill="#6c76a8" opacity="0.75"/><circle cx="31.2" cy="49.1" r="2.1" fill="#a09070" opacity="0.75"/><circle cx="53.2" cy="3.5" r="1.1" fill="#b4aac4" opacity="0.75"/><circle cx="52.4" cy="61.8" r="1.8" fill="#9c9cbc" opacity="0.75"/><circle cx="58" cy="37.5" r="1.4" fill="#7a78a8" opacity="0.75"/><circle cx="22.6" cy="48" r="1.8" fill="#a09070" opacity="0.75"/><circle cx="35.6" cy="71.5" r="1.7" fill="#9c9cbc" opacity="0.75"/><circle cx="75" cy="64.3" r="1.2" fill="#9c9cbc" opacity="0.75"/><circle cx="57.7" cy="76.3" r="2.3" fill="#8a9ac0" opacity="0.75"/><circle cx="74.1" cy="64.4" r="1.2" fill="#8a9ac0" opacity="0.75"/><circle cx="26.6" cy="43.2" r="2.2" fill="#a09070" opacity="0.75"/><circle cx="0.4" cy="11.7" r="1.8" fill="#a09070" opacity="0.75"/><circle cx="44" cy="45.9" r="2.8" fill="#8a9ac0" opacity="0.75"/><circle cx="15" cy="1.9" r="2.7" fill="#a09070" opacity="0.75"/><circle cx="2.1" cy="9.4" r="2.7" fill="#b4aac4" opacity="0.75"/><circle cx="79.5" cy="47.1" r="1.2" fill="#a09070" opacity="0.75"/><path d="M50.1,17.9 C66.8,16.3 77.7,24.4 79.3,48.8 L81.8,81.3 L35.1,81.3 C36.7,61 30.1,36.6 50.1,17.9 Z" fill="#5a90d2"/><path d="M37.6,28.5 L23.4,44.7 L28.4,50.4 L45.9,40.6 Z" fill="#5a90d2"/><circle cx="79.2" cy="56.5" r="1.5" fill="#3a6cb0" opacity="0.8"/><circle cx="42" cy="67" r="2.1" fill="#8cbcf0" opacity="0.8"/><circle cx="60.5" cy="73.9" r="1.1" fill="#8cbcf0" opacity="0.8"/><circle cx="47.7" cy="34.6" r="1.1" fill="#4a80c8" opacity="0.8"/><circle cx="48.1" cy="58.5" r="2.1" fill="#4a80c8" opacity="0.8"/><circle cx="77.9" cy="45.7" r="1.1" fill="#4a80c8" opacity="0.8"/><circle cx="72.8" cy="79.4" r="1.4" fill="#4a80c8" opacity="0.8"/><circle cx="44.1" cy="47.2" r="2" fill="#3a6cb0" opacity="0.8"/><circle cx="41.6" cy="67" r="2.1" fill="#4a80c8" opacity="0.8"/><circle cx="62.1" cy="73.2" r="1" fill="#3a6cb0" opacity="0.8"/><circle cx="43.7" cy="53.7" r="2.1" fill="#a8d0f4" opacity="0.8"/><circle cx="65.6" cy="73.1" r="1.6" fill="#a8d0f4" opacity="0.8"/><circle cx="74.7" cy="41.9" r="1.2" fill="#4a80c8" opacity="0.8"/><circle cx="46" cy="56.8" r="1.1" fill="#4a80c8" opacity="0.8"/><circle cx="69.9" cy="32.6" r="2.2" fill="#4a80c8" opacity="0.8"/><circle cx="66.9" cy="36.1" r="1.6" fill="#8cbcf0" opacity="0.8"/><circle cx="57.7" cy="65.4" r="2" fill="#4a80c8" opacity="0.8"/><circle cx="70.3" cy="74.6" r="0.9" fill="#3a6cb0" opacity="0.8"/><circle cx="74.8" cy="61.3" r="1.9" fill="#8cbcf0" opacity="0.8"/><circle cx="77.6" cy="73" r="1.1" fill="#3a6cb0" opacity="0.8"/><circle cx="70" cy="32.2" r="1.7" fill="#8cbcf0" opacity="0.8"/><circle cx="75.1" cy="38.9" r="2" fill="#a8d0f4" opacity="0.8"/><circle cx="45.2" cy="29.6" r="1.9" fill="#8cbcf0" opacity="0.8"/><circle cx="41.4" cy="71.8" r="1.2" fill="#a8d0f4" opacity="0.8"/><circle cx="56.5" cy="66.2" r="1.3" fill="#8cbcf0" opacity="0.8"/><circle cx="51.6" cy="49.2" r="1.5" fill="#3a6cb0" opacity="0.8"/><circle cx="64.5" cy="66.6" r="1.5" fill="#3a6cb0" opacity="0.8"/><circle cx="60.3" cy="31.2" r="1.2" fill="#4a80c8" opacity="0.8"/><circle cx="42.3" cy="74.9" r="2.1" fill="#8cbcf0" opacity="0.8"/><circle cx="59.6" cy="64.3" r="1.7" fill="#a8d0f4" opacity="0.8"/><circle cx="69.2" cy="41.2" r="1.7" fill="#a8d0f4" opacity="0.8"/><circle cx="42" cy="78.1" r="1.3" fill="#8cbcf0" opacity="0.8"/><circle cx="65.4" cy="53.3" r="0.9" fill="#a8d0f4" opacity="0.8"/><circle cx="65.9" cy="56.6" r="1.1" fill="#3a6cb0" opacity="0.8"/><circle cx="45.1" cy="75" r="1.7" fill="#8cbcf0" opacity="0.8"/><circle cx="42.1" cy="56.2" r="2.1" fill="#4a80c8" opacity="0.8"/><circle cx="60.7" cy="61.2" r="1.4" fill="#a8d0f4" opacity="0.8"/><circle cx="70.2" cy="64.5" r="1" fill="#3a6cb0" opacity="0.8"/><circle cx="69.1" cy="55.3" r="1.8" fill="#a8d0f4" opacity="0.8"/><circle cx="41.7" cy="39.8" r="0.9" fill="#3a6cb0" opacity="0.8"/><ellipse cx="55.1" cy="9.8" rx="10" ry="6.1" fill="#b0703c"/><ellipse cx="45.9" cy="16.3" rx="4.2" ry="4.9" fill="#d09878"/><ellipse cx="37.6" cy="25.2" rx="15.9" ry="4.9" transform="rotate(-10 37.6 25.2)" fill="#7a2818"/><path d="M25.1,27.6 L1.7,32.5" stroke="#6a2010" stroke-width="2.4"/><ellipse cx="16.7" cy="30.1" rx="4.2" ry="3.3" fill="#d8a080"/><rect x="45.9" y="49.6" width="31.7" height="2.8" fill="#1e2030"/><path d="M35.1,44.7 L37.6,65" stroke="#a05a40" stroke-width="2.4"/></g>
<rect x="111.9" y="477.7" width="84.7" height="82.5" rx="0" fill="none" stroke="#fff" stroke-width="1.2"/>
<text x="88.2" y="575.6" font-size="21.7" fill="#111" text-anchor="start">Style Images</text>
<path d="M210.2,405.8 L239.1,405.8" fill="none" stroke="#111" stroke-width="1.7" stroke-linecap="butt" stroke-linejoin="miter"/>
<path d="M244.8,405.8 L235.3,409.8 L236.73,405.8 L235.3,401.8 Z" fill="#111"/>
<path d="M210.7,520.7 L239.1,520.7" fill="none" stroke="#111" stroke-width="1.7" stroke-linecap="butt" stroke-linejoin="miter"/>
<path d="M244.8,520.7 L235.3,524.7 L236.73,520.7 L235.3,516.7 Z" fill="#111"/>
<rect x="244.8" y="373.5" width="33.7" height="178.9" rx="0" fill="#fdf2e4" stroke="#111" stroke-width="1.7"/>
<text transform="translate(268.8,463) rotate(-90)" font-size="21.9" text-anchor="middle">Linear Projection</text>
<path d="M278.5,405.6 L291.8,405.6" fill="none" stroke="#111" stroke-width="1.7" stroke-linecap="butt" stroke-linejoin="miter"/>
<path d="M297.5,405.6 L288,409.6 L289.43,405.6 L288,401.6 Z" fill="#111"/>
<path d="M278.5,520.8 L292,520.8" fill="none" stroke="#111" stroke-width="1.7" stroke-linecap="butt" stroke-linejoin="miter"/>
<path d="M297.7,520.8 L288.2,524.8 L289.62,520.8 L288.2,516.8 Z" fill="#111"/>
<rect x="297.5" y="351.7" width="22.8" height="110.7" rx="4" fill="none" stroke="#8a8a8a" stroke-width="1" stroke-dasharray="3 2"/>
<rect x="301" y="356.4" width="15.3" height="14.8" rx="0" fill="#f9e8b8" stroke="none" stroke-width="0"/>
<rect x="301" y="377.5" width="15.3" height="14.8" rx="0" fill="#f5c6cf" stroke="none" stroke-width="0"/>
<rect x="301" y="398.6" width="15.3" height="14.8" rx="0" fill="#e0d4ec" stroke="none" stroke-width="0"/>
<rect x="301" y="420.2" width="15.3" height="14.8" rx="0" fill="#c2e3d8" stroke="none" stroke-width="0"/>
<rect x="301" y="441.5" width="15.3" height="14.8" rx="0" fill="#cfe4b9" stroke="none" stroke-width="0"/>
<rect x="297.7" y="466.4" width="22.9" height="111" rx="4" fill="none" stroke="#8a8a8a" stroke-width="1" stroke-dasharray="3 2"/>
<rect x="301.2" y="471" width="15.3" height="15" rx="0" fill="#f5c6cf" stroke="none" stroke-width="0"/>
<rect x="301.2" y="492" width="15.3" height="15" rx="0" fill="#e0d4ec" stroke="none" stroke-width="0"/>
<rect x="301.2" y="513.9" width="15.3" height="15" rx="0" fill="#c2e3d8" stroke="none" stroke-width="0"/>
<rect x="301.2" y="535.7" width="15.3" height="15" rx="0" fill="#cfe4b9" stroke="none" stroke-width="0"/>
<rect x="301.2" y="557" width="15.3" height="15" rx="0" fill="#f8cdb0" stroke="none" stroke-width="0"/>
<path d="M320.3,405.6 L335.2,405.6" fill="none" stroke="#111" stroke-width="1.7" stroke-linecap="butt" stroke-linejoin="miter"/>
<path d="M340.9,405.6 L331.4,409.6 L332.82,405.6 L331.4,401.6 Z" fill="#111"/>
<path d="M320.6,520.8 L335.5,520.8" fill="none" stroke="#111" stroke-width="1.7" stroke-linecap="butt" stroke-linejoin="miter"/>
<path d="M341.2,520.8 L331.7,524.8 L333.12,520.8 L331.7,516.8 Z" fill="#111"/>
<rect x="340.9" y="356" width="41.5" height="102.5" rx="7" fill="none" stroke="#111" stroke-width="2"/>
<text transform="translate(359.5,407.2) rotate(-90)" font-size="20" text-anchor="middle"><tspan x="0" y="0">Transformer</tspan><tspan x="0" y="20.6">Encoder</tspan></text>
<rect x="341.2" y="469.2" width="41.5" height="102.5" rx="7" fill="none" stroke="#111" stroke-width="2"/>
<text transform="translate(359.8,520.4) rotate(-90)" font-size="20" text-anchor="middle"><tspan x="0" y="0">Transformer</tspan><tspan x="0" y="20.6">Encoder</tspan></text>
<path d="M382.4,442 L397.8,442" fill="none" stroke="#111" stroke-width="1.7" stroke-linecap="butt" stroke-linejoin="miter"/>
<path d="M403.5,442 L394,446 L395.43,442 L394,438 Z" fill="#111"/>
<path d="M382.5,482.9 L397.8,482.9" fill="none" stroke="#111" stroke-width="1.7" stroke-linecap="butt" stroke-linejoin="miter"/>
<path d="M403.5,482.9 L394,486.9 L395.43,482.9 L394,478.9 Z" fill="#111"/>
<rect x="403.9" y="410.3" width="42" height="106.6" rx="0" fill="none" stroke="#111" stroke-width="2"/>
<text transform="translate(422.2,463.6) rotate(-90)" font-size="20" text-anchor="middle"><tspan x="0" y="0">Transformer</tspan><tspan x="0" y="21.5">Decoder</tspan></text>
<path d="M445.9,463.8 L460.8,463.8" fill="none" stroke="#111" stroke-width="1.7" stroke-linecap="butt" stroke-linejoin="miter"/>
<path d="M466.5,463.8 L457,467.8 L458.43,463.8 L457,459.8 Z" fill="#111"/>
<rect x="466.6" y="409.2" width="22.1" height="109.9" rx="4" fill="none" stroke="#8a8a8a" stroke-width="1" stroke-dasharray="3 2"/>
<rect x="469.5" y="413.4" width="15.1" height="15" rx="0" fill="#f9e8b8" stroke="#333" stroke-width="1"/>
<rect x="469.5" y="434.5" width="15.1" height="15" rx="0" fill="#f5c6cf" stroke="#333" stroke-width="1"/>
<rect x="469.5" y="456" width="15.1" height="15" rx="0" fill="#e0d4ec" stroke="#333" stroke-width="1"/>
<rect x="469.5" y="477.7" width="15.1" height="15" rx="0" fill="#c2e3d8" stroke="#333" stroke-width="1"/>
<rect x="469.5" y="499.2" width="15.1" height="15" rx="0" fill="#cfe4b9" stroke="#333" stroke-width="1"/>
<path d="M488.7,463.8 L505.7,463.8" fill="none" stroke="#111" stroke-width="1.7" stroke-linecap="butt" stroke-linejoin="miter"/>
<path d="M505.7,402.8 L505.7,512.8" fill="none" stroke="#111" stroke-width="1.7" stroke-linecap="butt" stroke-linejoin="miter"/>
<path d="M505.7,402.8 L528.2,402.8" fill="none" stroke="#111" stroke-width="1.7" stroke-linecap="butt" stroke-linejoin="miter"/>
<path d="M505.7,512.8 L542.6,512.8" fill="none" stroke="#111" stroke-width="1.7" stroke-linecap="butt" stroke-linejoin="miter"/>
<path d="M548.3,512.8 L538.8,516.8 L540.22,512.8 L538.8,508.8 Z" fill="#111"/>
<rect x="528.2" y="352.3" width="24.6" height="101.8" rx="0" fill="none" stroke="#111" stroke-width="1.8"/>
<text transform="translate(546,448.8) rotate(-90)" font-size="19">Mean</text>
<text transform="translate(546,386.6) rotate(-90)" font-size="20">Var</text>
<circle cx="540.2" cy="394" r="6.9" fill="none" stroke="#000" stroke-width="2"/>
<text transform="translate(545.3,394.3) rotate(-90)" font-size="15" text-anchor="middle">C</text>
<path d="M552.8,402.8 L569.7,402.8" fill="none" stroke="#111" stroke-width="1.7" stroke-linecap="butt" stroke-linejoin="miter"/>
<path d="M575.4,402.8 L565.9,406.8 L567.32,402.8 L565.9,398.8 Z" fill="#111"/>
<path d="M575.4,368.1 L616.2,389.2 L616.2,415.3 L575.4,436.8 Z" fill="none" stroke="#7a7a7a" stroke-width="1"/>
<rect x="578.4" y="380.2" width="10.3" height="44.2" rx="0" fill="#e6e6e6" stroke="#c8c8c8" stroke-width="1"/>
<rect x="591.1" y="386.2" width="10.3" height="32.1" rx="0" fill="#e6e6e6" stroke="#c8c8c8" stroke-width="1"/>
<rect x="603.6" y="390.2" width="10.3" height="24.1" rx="0" fill="#e6e6e6" stroke="#c8c8c8" stroke-width="1"/>
<text x="578.8" y="454.5" font-size="17.8" fill="#111" text-anchor="start" letter-spacing="2.2">VAE</text>
<path d="M616.2,402.8 L646.8,402.8" fill="none" stroke="#111" stroke-width="1.7" stroke-linecap="butt" stroke-linejoin="miter"/>
<path d="M652.5,402.8 L643,406.8 L644.42,402.8 L643,398.8 Z" fill="#111"/>
<path d="M548.6,496.9 L609.5,472.3 L609.5,553.1 L548.6,527.3 Z" fill="none" stroke="#7a7a7a" stroke-width="1"/>
<rect x="550.7" y="498.5" width="11.7" height="27.7" rx="0" fill="#e6e6e6" stroke="#c8c8c8" stroke-width="1"/>
<rect x="565.5" y="493.4" width="11.7" height="38.2" rx="0" fill="#e6e6e6" stroke="#c8c8c8" stroke-width="1"/>
<rect x="580.7" y="486.3" width="11.7" height="52.7" rx="0" fill="#e6e6e6" stroke="#c8c8c8" stroke-width="1"/>
<rect x="595.5" y="481.2" width="11.7" height="63" rx="0" fill="#e6e6e6" stroke="#c8c8c8" stroke-width="1"/>
<text x="542" y="567.6" font-size="21.8" fill="#111" text-anchor="start">Decoder</text>
<path d="M609.5,513.3 L641.6,513.3" fill="none" stroke="#111" stroke-width="1.7" stroke-linecap="butt" stroke-linejoin="miter"/>
<path d="M647.3,513.3 L637.8,517.3 L639.22,513.3 L637.8,509.3 Z" fill="#111"/>
<g transform="translate(647.3,473.9)" clip-path="url(#c11)"><rect width="103.4" height="77.6" fill="#4a4a6a"/><path transform="translate(38.2,15.8) rotate(104)" d="M-16.8,0 Q0,-9.3 16.8,0 Q0,9.3 -16.8,0Z" fill="#7898c4"/><path transform="translate(57.7,28.9) rotate(140.6)" d="M-24.7,0 Q0,-12.3 24.7,0 Q0,12.3 -24.7,0Z" fill="#6a8cbc"/><path transform="translate(44.8,9.4) rotate(30.2)" d="M-16.6,0 Q0,-8.7 16.6,0 Q0,8.7 -16.6,0Z" fill="#6a8cbc"/><path transform="translate(8.5,46.3) rotate(132.3)" d="M-20.5,0 Q0,-9.2 20.5,0 Q0,9.2 -20.5,0Z" fill="#6a8cbc"/><path transform="translate(77.4,58.6) rotate(22.3)" d="M-16.2,0 Q0,-8.3 16.2,0 Q0,8.3 -16.2,0Z" fill="#5a7aac"/><path transform="translate(73.2,79.8) rotate(111.6)" d="M-15.2,0 Q0,-6.9 15.2,0 Q0,6.9 -15.2,0Z" fill="#5a7aac"/><path transform="translate(44.3,64.1) rotate(19.2)" d="M-15.3,0 Q0,-7.1 15.3,0 Q0,7.1 -15.3,0Z" fill="#6a8cbc"/><path transform="translate(41.1,52.7) rotate(3.9)" d="M-21.4,0 Q0,-10 21.4,0 Q0,10 -21.4,0Z" fill="#5a7aac"/><path transform="translate(3.7,76.8) rotate(50.4)" d="M-20.1,0 Q0,-9.8 20.1,0 Q0,9.8 -20.1,0Z" fill="#6a8cbc"/><path transform="translate(95,52) rotate(11.8)" d="M-19,0 Q0,-8 19,0 Q0,8 -19,0Z" fill="#6a8cbc"/><path transform="translate(76.8,54.3) rotate(177.6)" d="M-26.4,0 Q0,-14.3 26.4,0 Q0,14.3 -26.4,0Z" fill="#5a7aac"/><path transform="translate(96.6,31.4) rotate(95.2)" d="M-24.4,0 Q0,-10.1 24.4,0 Q0,10.1 -24.4,0Z" fill="#6a8cbc"/><path transform="translate(104.2,16.8) rotate(122.4)" d="M-20.6,0 Q0,-10.8 20.6,0 Q0,10.8 -20.6,0Z" fill="#5a5070"/><path transform="translate(84.6,3.2) rotate(167.2)" d="M-23.8,0 Q0,-11.7 23.8,0 Q0,11.7 -23.8,0Z" fill="#5a7aac"/><path transform="translate(26.3,72.7) rotate(68.4)" d="M-19,0 Q0,-10.6 19,0 Q0,10.6 -19,0Z" fill="#7898c4"/><path transform="translate(80.3,58.6) rotate(5.6)" d="M-17.5,0 Q0,-7.5 17.5,0 Q0,7.5 -17.5,0Z" fill="#5a7aac"/><path transform="translate(48.1,16.7) rotate(112.1)" d="M-28.3,0 Q0,-13.9 28.3,0 Q0,13.9 -28.3,0Z" fill="#5a5070"/><path transform="translate(32.3,15.6) rotate(179.6)" d="M-23.9,0 Q0,-10 23.9,0 Q0,10 -23.9,0Z" fill="#5a7aac"/><path transform="translate(57.7,38.6) rotate(148)" d="M-28,0 Q0,-15.5 28,0 Q0,15.5 -28,0Z" fill="#6a8cbc"/><path transform="translate(15.1,56.6) rotate(93.3)" d="M-16.6,0 Q0,-7.1 16.6,0 Q0,7.1 -16.6,0Z" fill="#5a7aac"/><path transform="translate(41.6,79.1) rotate(120)" d="M-27.9,0 Q0,-11.3 27.9,0 Q0,11.3 -27.9,0Z" fill="#7898c4"/><path transform="translate(19.2,30.2) rotate(51.1)" d="M-27.5,0 Q0,-15.5 27.5,0 Q0,15.5 -27.5,0Z" fill="#7898c4"/><path transform="translate(92,48.4) rotate(50.3)" d="M-26.1,0 Q0,-14.3 26.1,0 Q0,14.3 -26.1,0Z" fill="#5a5070"/><path transform="translate(29.3,64.2) rotate(90)" d="M-24.1,0 Q0,-10.6 24.1,0 Q0,10.6 -24.1,0Z" fill="#5a5070"/><path transform="translate(21.3,11.7) rotate(89.1)" d="M-21.1,0 Q0,-8.7 21.1,0 Q0,8.7 -21.1,0Z" fill="#5a5070"/><path transform="translate(1,66.6) rotate(4.8)" d="M-24.5,0 Q0,-12.7 24.5,0 Q0,12.7 -24.5,0Z" fill="#5a7aac"/><path transform="translate(41.8,38.7) rotate(77)" d="M-27.3,0 Q0,-13.6 27.3,0 Q0,13.6 -27.3,0Z" fill="#6a8cbc"/><path transform="translate(20.1,70.6) rotate(117.9)" d="M-21.6,0 Q0,-9.2 21.6,0 Q0,9.2 -21.6,0Z" fill="#5a5070"/><path transform="translate(-2.1,66.4) rotate(137.9)" d="M-13.1,0 Q0,-4.8 13.1,0 Q0,4.8 -13.1,0Z" fill="#7a9ccc"/><path transform="translate(-2.1,66.4) rotate(137.9)" d="M-11.8,0 L11.8,0" stroke="#5a7aa8" stroke-width="0.4"/><path transform="translate(38.7,12) rotate(124.1)" d="M-15.8,0 Q0,-7.1 15.8,0 Q0,7.1 -15.8,0Z" fill="#6f92c4"/><path transform="translate(38.7,12) rotate(124.1)" d="M-14.2,0 L14.2,0" stroke="#5a7aa8" stroke-width="0.6"/><path transform="translate(2.1,42) rotate(49.8)" d="M-10.8,0 Q0,-4.5 10.8,0 Q0,4.5 -10.8,0Z" fill="#86a8d8"/><path transform="translate(2.1,42) rotate(49.8)" d="M-9.7,0 L9.7,0" stroke="#5a7aa8" stroke-width="0.4"/><path transform="translate(80.6,64.6) rotate(128.5)" d="M-19.2,0 Q0,-8.2 19.2,0 Q0,8.2 -19.2,0Z" fill="#86a8d8"/><path transform="translate(80.6,64.6) rotate(128.5)" d="M-17.2,0 L17.2,0" stroke="#5a7aa8" stroke-width="0.7"/><path transform="translate(29.5,64.9) rotate(57.4)" d="M-16,0 Q0,-7.9 16,0 Q0,7.9 -16,0Z" fill="#6f92c4"/><path transform="translate(29.5,64.9) rotate(57.4)" d="M-14.4,0 L14.4,0" stroke="#5a7aa8" stroke-width="0.7"/><path transform="translate(80.4,27.9) rotate(66.7)" d="M-18.6,0 Q0,-6.9 18.6,0 Q0,6.9 -18.6,0Z" fill="#95b5e0"/><path transform="translate(80.4,27.9) rotate(66.7)" d="M-16.7,0 L16.7,0" stroke="#5a7aa8" stroke-width="0.6"/><path transform="translate(13.1,35.2) rotate(11.7)" d="M-13.1,0 Q0,-6.5 13.1,0 Q0,6.5 -13.1,0Z" fill="#86a8d8"/><path transform="translate(13.1,35.2) rotate(11.7)" d="M-11.8,0 L11.8,0" stroke="#5a7aa8" stroke-width="0.6"/><path transform="translate(30.7,73.2) rotate(35.1)" d="M-13.6,0 Q0,-6.6 13.6,0 Q0,6.6 -13.6,0Z" fill="#6f92c4"/><path transform="translate(30.7,73.2) rotate(35.1)" d="M-12.2,0 L12.2,0" stroke="#5a7aa8" stroke-width="0.6"/><path transform="translate(105.6,71.1) rotate(164.6)" d="M-17.5,0 Q0,-8.7 17.5,0 Q0,8.7 -17.5,0Z" fill="#95b5e0"/><path transform="translate(105.6,71.1) rotate(164.6)" d="M-15.7,0 L15.7,0" stroke="#5a7aa8" stroke-width="0.7"/><path transform="translate(54.7,75.9) rotate(135.5)" d="M-13.2,0 Q0,-6.7 13.2,0 Q0,6.7 -13.2,0Z" fill="#6f92c4"/><path transform="translate(54.7,75.9) rotate(135.5)" d="M-11.9,0 L11.9,0" stroke="#5a7aa8" stroke-width="0.6"/><path transform="translate(82.6,62) rotate(120.5)" d="M-14.5,0 Q0,-6.7 14.5,0 Q0,6.7 -14.5,0Z" fill="#8eb0dc"/><path transform="translate(82.6,62) rotate(120.5)" d="M-13.1,0 L13.1,0" stroke="#5a7aa8" stroke-width="0.6"/><path transform="translate(55.4,19.4) rotate(44.3)" d="M-17.5,0 Q0,-8.7 17.5,0 Q0,8.7 -17.5,0Z" fill="#86a8d8"/><path transform="translate(55.4,19.4) rotate(44.3)" d="M-15.7,0 L15.7,0" stroke="#5a7aa8" stroke-width="0.7"/><path transform="translate(80.6,40.7) rotate(50.7)" d="M-12.3,0 Q0,-5.7 12.3,0 Q0,5.7 -12.3,0Z" fill="#95b5e0"/><path transform="translate(80.6,40.7) rotate(50.7)" d="M-11.1,0 L11.1,0" stroke="#5a7aa8" stroke-width="0.5"/><path transform="translate(100.2,21.1) rotate(47.6)" d="M-13.3,0 Q0,-4.9 13.3,0 Q0,4.9 -13.3,0Z" fill="#8eb0dc"/><path transform="translate(100.2,21.1) rotate(47.6)" d="M-12,0 L12,0" stroke="#5a7aa8" stroke-width="0.4"/><path transform="translate(29.6,30.7) rotate(2.2)" d="M-16,0 Q0,-7.6 16,0 Q0,7.6 -16,0Z" fill="#7a9ccc"/><path transform="translate(29.6,30.7) rotate(2.2)" d="M-14.4,0 L14.4,0" stroke="#5a7aa8" stroke-width="0.6"/><path transform="translate(37.3,63.4) rotate(75.6)" d="M-16.5,0 Q0,-7.6 16.5,0 Q0,7.6 -16.5,0Z" fill="#7a9ccc"/><path transform="translate(37.3,63.4) rotate(75.6)" d="M-14.9,0 L14.9,0" stroke="#5a7aa8" stroke-width="0.6"/><path transform="translate(-0.9,13.4) rotate(31.2)" d="M-13.4,0 Q0,-5.6 13.4,0 Q0,5.6 -13.4,0Z" fill="#6f92c4"/><path transform="translate(-0.9,13.4) rotate(31.2)" d="M-12.1,0 L12.1,0" stroke="#5a7aa8" stroke-width="0.5"/><path transform="translate(73.3,39.6) rotate(143.9)" d="M-16.1,0 Q0,-7 16.1,0 Q0,7 -16.1,0Z" fill="#86a8d8"/><path transform="translate(73.3,39.6) rotate(143.9)" d="M-14.5,0 L14.5,0" stroke="#5a7aa8" stroke-width="0.6"/><path transform="translate(106.5,58.3) rotate(14.8)" d="M-16.9,0 Q0,-7.3 16.9,0 Q0,7.3 -16.9,0Z" fill="#86a8d8"/><path transform="translate(106.5,58.3) rotate(14.8)" d="M-15.2,0 L15.2,0" stroke="#5a7aa8" stroke-width="0.6"/><path transform="translate(87.3,77.9) rotate(2.9)" d="M-20.4,0 Q0,-9.7 20.4,0 Q0,9.7 -20.4,0Z" fill="#8eb0dc"/><path transform="translate(87.3,77.9) rotate(2.9)" d="M-18.4,0 L18.4,0" stroke="#5a7aa8" stroke-width="0.8"/><path transform="translate(26,78.9) rotate(27.5)" d="M-14.4,0 Q0,-7.1 14.4,0 Q0,7.1 -14.4,0Z" fill="#8eb0dc"/><path transform="translate(26,78.9) rotate(27.5)" d="M-12.9,0 L12.9,0" stroke="#5a7aa8" stroke-width="0.6"/><path transform="translate(68,75.2) rotate(169.4)" d="M-18.8,0 Q0,-9 18.8,0 Q0,9 -18.8,0Z" fill="#6f92c4"/><path transform="translate(68,75.2) rotate(169.4)" d="M-16.9,0 L16.9,0" stroke="#5a7aa8" stroke-width="0.8"/><path transform="translate(38.6,36.3) rotate(165.5)" d="M-14.2,0 Q0,-7.2 14.2,0 Q0,7.2 -14.2,0Z" fill="#8eb0dc"/><path transform="translate(38.6,36.3) rotate(165.5)" d="M-12.8,0 L12.8,0" stroke="#5a7aa8" stroke-width="0.6"/><path transform="translate(74,9.7) rotate(169.8)" d="M-17.5,0 Q0,-6.8 17.5,0 Q0,6.8 -17.5,0Z" fill="#95b5e0"/><path transform="translate(74,9.7) rotate(169.8)" d="M-15.8,0 L15.8,0" stroke="#5a7aa8" stroke-width="0.6"/><path transform="translate(85.7,37.5) rotate(40.2)" d="M-17.9,0 Q0,-7.1 17.9,0 Q0,7.1 -17.9,0Z" fill="#86a8d8"/><path transform="translate(85.7,37.5) rotate(40.2)" d="M-16.2,0 L16.2,0" stroke="#5a7aa8" stroke-width="0.6"/><path transform="translate(89.1,3.1) rotate(141.8)" d="M-18.6,0 Q0,-7.5 18.6,0 Q0,7.5 -18.6,0Z" fill="#7a9ccc"/><path transform="translate(89.1,3.1) rotate(141.8)" d="M-16.8,0 L16.8,0" stroke="#5a7aa8" stroke-width="0.6"/><path transform="translate(103.5,11) rotate(63.2)" d="M-20.5,0 Q0,-7.8 20.5,0 Q0,7.8 -20.5,0Z" fill="#86a8d8"/><path transform="translate(103.5,11) rotate(63.2)" d="M-18.5,0 L18.5,0" stroke="#5a7aa8" stroke-width="0.7"/><path transform="translate(83.8,3) rotate(20.1)" d="M-11.1,0 Q0,-5.2 11.1,0 Q0,5.2 -11.1,0Z" fill="#95b5e0"/><path transform="translate(83.8,3) rotate(20.1)" d="M-10,0 L10,0" stroke="#5a7aa8" stroke-width="0.4"/><path transform="translate(68.5,3.9) rotate(170.9)" d="M-20.5,0 Q0,-8.5 20.5,0 Q0,8.5 -20.5,0Z" fill="#7a9ccc"/><path transform="translate(68.5,3.9) rotate(170.9)" d="M-18.5,0 L18.5,0" stroke="#5a7aa8" stroke-width="0.7"/><path transform="translate(95.1,3.2) rotate(129.1)" d="M-12,0 Q0,-4.4 12,0 Q0,4.4 -12,0Z" fill="#7a9ccc"/><path transform="translate(95.1,3.2) rotate(129.1)" d="M-10.8,0 L10.8,0" stroke="#5a7aa8" stroke-width="0.4"/><path transform="translate(56.5,17.6) rotate(91.7)" d="M-12.6,0 Q0,-4.7 12.6,0 Q0,4.7 -12.6,0Z" fill="#6f92c4"/><path transform="translate(56.5,17.6) rotate(91.7)" d="M-11.3,0 L11.3,0" stroke="#5a7aa8" stroke-width="0.4"/><path transform="translate(51.4,34.2) rotate(112.4)" d="M-19.8,0 Q0,-9.5 19.8,0 Q0,9.5 -19.8,0Z" fill="#95b5e0"/><path transform="translate(51.4,34.2) rotate(112.4)" d="M-17.8,0 L17.8,0" stroke="#5a7aa8" stroke-width="0.8"/><path transform="translate(11.7,4.3) rotate(85.5)" d="M-15,0 Q0,-6 15,0 Q0,6 -15,0Z" fill="#7a9ccc"/><path transform="translate(11.7,4.3) rotate(85.5)" d="M-13.5,0 L13.5,0" stroke="#5a7aa8" stroke-width="0.5"/><path transform="translate(102.5,65.8) rotate(62.3)" d="M-19.9,0 Q0,-7.8 19.9,0 Q0,7.8 -19.9,0Z" fill="#86a8d8"/><path transform="translate(102.5,65.8) rotate(62.3)" d="M-17.9,0 L17.9,0" stroke="#5a7aa8" stroke-width="0.7"/><path transform="translate(56.3,20.7) rotate(38.5)" d="M-19.2,0 Q0,-9.8 19.2,0 Q0,9.8 -19.2,0Z" fill="#86a8d8"/><path transform="translate(56.3,20.7) rotate(38.5)" d="M-17.3,0 L17.3,0" stroke="#5a7aa8" stroke-width="0.8"/><path transform="translate(53.4,72.9) rotate(120.6)" d="M-15.8,0 Q0,-7.5 15.8,0 Q0,7.5 -15.8,0Z" fill="#8eb0dc"/><path transform="translate(53.4,72.9) rotate(120.6)" d="M-14.2,0 L14.2,0" stroke="#5a7aa8" stroke-width="0.6"/><path transform="translate(43.2,2) rotate(133.3)" d="M-17.6,0 Q0,-7.6 17.6,0 Q0,7.6 -17.6,0Z" fill="#8eb0dc"/><path transform="translate(43.2,2) rotate(133.3)" d="M-15.8,0 L15.8,0" stroke="#5a7aa8" stroke-width="0.6"/><path transform="translate(43.6,30.8) rotate(3.2)" d="M-11.7,0 Q0,-5.9 11.7,0 Q0,5.9 -11.7,0Z" fill="#6f92c4"/><path transform="translate(43.6,30.8) rotate(3.2)" d="M-10.5,0 L10.5,0" stroke="#5a7aa8" stroke-width="0.5"/><path transform="translate(62.4,12.7) rotate(149)" d="M-20.2,0 Q0,-8.3 20.2,0 Q0,8.3 -20.2,0Z" fill="#7a9ccc"/><path transform="translate(62.4,12.7) rotate(149)" d="M-18.2,0 L18.2,0" stroke="#5a7aa8" stroke-width="0.7"/><path transform="translate(75.8,72.3) rotate(78)" d="M-13.3,0 Q0,-5.6 13.3,0 Q0,5.6 -13.3,0Z" fill="#95b5e0"/><path transform="translate(75.8,72.3) rotate(78)" d="M-12,0 L12,0" stroke="#5a7aa8" stroke-width="0.5"/><path transform="translate(17.6,25.6) rotate(30.8)" d="M-19.1,0 Q0,-8.6 19.1,0 Q0,8.6 -19.1,0Z" fill="#95b5e0"/><path transform="translate(17.6,25.6) rotate(30.8)" d="M-17.2,0 L17.2,0" stroke="#5a7aa8" stroke-width="0.7"/><path transform="translate(60.3,77.5) rotate(8.9)" d="M-17.6,0 Q0,-8.7 17.6,0 Q0,8.7 -17.6,0Z" fill="#8eb0dc"/><path transform="translate(60.3,77.5) rotate(8.9)" d="M-15.8,0 L15.8,0" stroke="#5a7aa8" stroke-width="0.7"/><path transform="translate(48.2,32.1) rotate(79.9)" d="M-20,0 Q0,-9.3 20,0 Q0,9.3 -20,0Z" fill="#6f92c4"/><path transform="translate(48.2,32.1) rotate(79.9)" d="M-18,0 L18,0" stroke="#5a7aa8" stroke-width="0.8"/><path transform="translate(43.9,5.9) rotate(3.8)" d="M-18.7,0 Q0,-8.2 18.7,0 Q0,8.2 -18.7,0Z" fill="#7a9ccc"/><path transform="translate(43.9,5.9) rotate(3.8)" d="M-16.8,0 L16.8,0" stroke="#5a7aa8" stroke-width="0.7"/><path transform="translate(57,47) rotate(39.3)" d="M-7.9,0 Q0,-8.1 7.9,0 Q0,8.1 -7.9,0Z" fill="#a86078"/><path transform="translate(49.2,49.1) rotate(111.3)" d="M-7.9,0 Q0,-8.1 7.9,0 Q0,8.1 -7.9,0Z" fill="#a86078"/><path transform="translate(44.8,42.3) rotate(183.3)" d="M-7.9,0 Q0,-8.1 7.9,0 Q0,8.1 -7.9,0Z" fill="#a86078"/><path transform="translate(50,36) rotate(255.3)" d="M-7.9,0 Q0,-8.1 7.9,0 Q0,8.1 -7.9,0Z" fill="#a86078"/><path transform="translate(57.5,39) rotate(327.3)" d="M-7.9,0 Q0,-8.1 7.9,0 Q0,8.1 -7.9,0Z" fill="#a86078"/><circle cx="51.7" cy="42.7" r="1.8" fill="#e8b040"/><path transform="translate(70.4,55.7) rotate(50.8)" d="M-7.9,0 Q0,-8.1 7.9,0 Q0,8.1 -7.9,0Z" fill="#c07890"/><path transform="translate(62.3,56.2) rotate(122.8)" d="M-7.9,0 Q0,-8.1 7.9,0 Q0,8.1 -7.9,0Z" fill="#c07890"/><path transform="translate(59.4,48.6) rotate(194.8)" d="M-7.9,0 Q0,-8.1 7.9,0 Q0,8.1 -7.9,0Z" fill="#c07890"/><path transform="translate(65.6,43.6) rotate(266.8)" d="M-7.9,0 Q0,-8.1 7.9,0 Q0,8.1 -7.9,0Z" fill="#c07890"/><path transform="translate(72.4,47.9) rotate(338.8)" d="M-7.9,0 Q0,-8.1 7.9,0 Q0,8.1 -7.9,0Z" fill="#c07890"/><circle cx="66" cy="50.4" r="1.8" fill="#e8b040"/><path transform="translate(54.8,62.8) rotate(38.3)" d="M-8.8,0 Q0,-9 8.8,0 Q0,9 -8.8,0Z" fill="#c07890"/><path transform="translate(46.1,65.2) rotate(110.3)" d="M-8.8,0 Q0,-9 8.8,0 Q0,9 -8.8,0Z" fill="#c07890"/><path transform="translate(41.1,57.7) rotate(182.3)" d="M-8.8,0 Q0,-9 8.8,0 Q0,9 -8.8,0Z" fill="#c07890"/><path transform="translate(46.7,50.6) rotate(254.3)" d="M-8.8,0 Q0,-9 8.8,0 Q0,9 -8.8,0Z" fill="#c07890"/><path transform="translate(55.2,53.8) rotate(326.3)" d="M-8.8,0 Q0,-9 8.8,0 Q0,9 -8.8,0Z" fill="#c07890"/><circle cx="48.8" cy="58" r="2" fill="#e8b040"/><path transform="translate(49.8,54.2) rotate(35.4)" d="M-9.1,0 Q0,-9.4 9.1,0 Q0,9.4 -9.1,0Z" fill="#b86a80"/><path transform="translate(40.9,57.2) rotate(107.4)" d="M-9.1,0 Q0,-9.4 9.1,0 Q0,9.4 -9.1,0Z" fill="#b86a80"/><path transform="translate(35.3,49.7) rotate(179.4)" d="M-9.1,0 Q0,-9.4 9.1,0 Q0,9.4 -9.1,0Z" fill="#b86a80"/><path transform="translate(40.8,42.1) rotate(251.4)" d="M-9.1,0 Q0,-9.4 9.1,0 Q0,9.4 -9.1,0Z" fill="#b86a80"/><path transform="translate(49.7,44.9) rotate(323.4)" d="M-9.1,0 Q0,-9.4 9.1,0 Q0,9.4 -9.1,0Z" fill="#b86a80"/><circle cx="43.3" cy="49.6" r="2.1" fill="#e8b040"/><path transform="translate(44.5,44.7) rotate(6.6)" d="M-8.7,0 Q0,-8.9 8.7,0 Q0,8.9 -8.7,0Z" fill="#c07890"/><path transform="translate(38.5,51.2) rotate(78.6)" d="M-8.7,0 Q0,-8.9 8.7,0 Q0,8.9 -8.7,0Z" fill="#c07890"/><path transform="translate(30.4,47.5) rotate(150.6)" d="M-8.7,0 Q0,-8.9 8.7,0 Q0,8.9 -8.7,0Z" fill="#c07890"/><path transform="translate(31.5,38.7) rotate(222.6)" d="M-8.7,0 Q0,-8.9 8.7,0 Q0,8.9 -8.7,0Z" fill="#c07890"/><path transform="translate(40.2,36.9) rotate(294.6)" d="M-8.7,0 Q0,-8.9 8.7,0 Q0,8.9 -8.7,0Z" fill="#c07890"/><circle cx="37" cy="43.8" r="2" fill="#e8b040"/><path transform="translate(47.4,41.3) rotate(48.2)" d="M-9.9,0 Q0,-10.2 9.9,0 Q0,10.2 -9.9,0Z" fill="#a86078"/><path transform="translate(37.4,42.3) rotate(120.2)" d="M-9.9,0 Q0,-10.2 9.9,0 Q0,10.2 -9.9,0Z" fill="#a86078"/><path transform="translate(33.3,33) rotate(192.2)" d="M-9.9,0 Q0,-10.2 9.9,0 Q0,10.2 -9.9,0Z" fill="#a86078"/><path transform="translate(40.8,26.3) rotate(264.2)" d="M-9.9,0 Q0,-10.2 9.9,0 Q0,10.2 -9.9,0Z" fill="#a86078"/><path transform="translate(49.6,31.4) rotate(336.2)" d="M-9.9,0 Q0,-10.2 9.9,0 Q0,10.2 -9.9,0Z" fill="#a86078"/><circle cx="41.7" cy="34.9" r="2.2" fill="#e8b040"/><path transform="translate(58.6,31.7) rotate(7.7)" d="M-9.2,0 Q0,-9.4 9.2,0 Q0,9.4 -9.2,0Z" fill="#b86a80"/><path transform="translate(52.1,38.4) rotate(79.7)" d="M-9.2,0 Q0,-9.4 9.2,0 Q0,9.4 -9.2,0Z" fill="#b86a80"/><path transform="translate(43.7,34.4) rotate(151.7)" d="M-9.2,0 Q0,-9.4 9.2,0 Q0,9.4 -9.2,0Z" fill="#b86a80"/><path transform="translate(45,25.1) rotate(223.7)" d="M-9.2,0 Q0,-9.4 9.2,0 Q0,9.4 -9.2,0Z" fill="#b86a80"/><path transform="translate(54.2,23.4) rotate(295.7)" d="M-9.2,0 Q0,-9.4 9.2,0 Q0,9.4 -9.2,0Z" fill="#b86a80"/><circle cx="50.7" cy="30.6" r="2.1" fill="#e8b040"/><path transform="translate(64.3,36.6) rotate(55.1)" d="M-9.5,0 Q0,-9.7 9.5,0 Q0,9.7 -9.5,0Z" fill="#a86078"/><path transform="translate(54.6,36.4) rotate(127.1)" d="M-9.5,0 Q0,-9.7 9.5,0 Q0,9.7 -9.5,0Z" fill="#a86078"/><path transform="translate(51.8,27.1) rotate(199.1)" d="M-9.5,0 Q0,-9.7 9.5,0 Q0,9.7 -9.5,0Z" fill="#a86078"/><path transform="translate(59.7,21.6) rotate(271.1)" d="M-9.5,0 Q0,-9.7 9.5,0 Q0,9.7 -9.5,0Z" fill="#a86078"/><path transform="translate(67.5,27.4) rotate(343.1)" d="M-9.5,0 Q0,-9.7 9.5,0 Q0,9.7 -9.5,0Z" fill="#a86078"/><circle cx="59.6" cy="29.8" r="2.1" fill="#e8b040"/></g>
<text x="653.6" y="410.8" font-size="26" fill="#111" text-anchor="start" font-style="italic" font-weight="bold">Z</text>
<text x="671.8" y="414.6" font-size="16.5" fill="#111" text-anchor="start" font-style="italic" font-weight="bold">s</text>
<text x="777.2" y="410.5" font-size="21" fill="#111" text-anchor="start" font-style="italic">Guassian</text>
<text x="857.4" y="411.5" font-size="21.5" fill="#111" text-anchor="start">(</text>
<text x="864.3" y="408" font-size="17.5" fill="#111" text-anchor="start" font-style="italic" font-weight="bold">μ</text>
<text x="875.4" y="410.4" font-size="11" fill="#111" text-anchor="start" font-style="italic" font-weight="bold">s</text>
<text x="880.8" y="410.4" font-size="16" fill="#111" text-anchor="start" font-weight="bold">,</text>
<text x="885.3" y="408" font-size="20" fill="#111" text-anchor="start" font-style="italic" font-weight="bold">σ</text>
<text x="897.6" y="410.8" font-size="11" fill="#111" text-anchor="start" font-style="italic" font-weight="bold">s</text>
<text x="901.6" y="411.5" font-size="21.5" fill="#111" text-anchor="start">)</text>
<path d="M1014.4,43.5 L986.8,43.5 L986.8,366.6" fill="none" stroke="#111" stroke-width="1.7" stroke-linecap="butt" stroke-linejoin="miter"/>
<path d="M1119.7,43.4 L1151,43.4 L1151,258.6" fill="none" stroke="#111" stroke-width="1.7" stroke-linecap="butt" stroke-linejoin="miter"/>
<path d="M1151,258.6 L1142.5,258.6" fill="none" stroke="#111" stroke-width="1.7" stroke-linecap="butt" stroke-linejoin="miter"/>
<path d="M1136.8,258.6 L1146.3,254.6 L1144.88,258.6 L1146.3,262.6 Z" fill="#111"/>
<rect x="1000.7" y="102.7" width="136.1" height="25.5" rx="0" fill="#e0ebd6" stroke="#5a9040" stroke-width="1.5"/>
<text x="1069" y="121.9" font-size="22.2" fill="#111" text-anchor="middle">Linear</text>
<path d="M1069,128.2 L1069,138.6" fill="none" stroke="#3a7ab8" stroke-width="1.6" stroke-linecap="butt" stroke-linejoin="miter"/>
<path d="M986.8,151.35 L995,151.35" fill="none" stroke="#111" stroke-width="1.7" stroke-linecap="butt" stroke-linejoin="miter"/>
<path d="M1000.7,151.35 L991.2,155.35 L992.62,151.35 L991.2,147.35 Z" fill="#111"/>
<rect x="1000.7" y="138.6" width="136.1" height="25.5" rx="0" fill="#e0ebd6" stroke="#5a9040" stroke-width="1.5"/>
<text x="1069" y="157.8" font-size="22.2" fill="#111" text-anchor="middle">Linear</text>
<path d="M1069,164.1 L1069,174.5" fill="none" stroke="#3a7ab8" stroke-width="1.6" stroke-linecap="butt" stroke-linejoin="miter"/>
<path d="M986.8,187.25 L995,187.25" fill="none" stroke="#111" stroke-width="1.7" stroke-linecap="butt" stroke-linejoin="miter"/>
<path d="M1000.7,187.25 L991.2,191.25 L992.62,187.25 L991.2,183.25 Z" fill="#111"/>
<rect x="1000.7" y="174.5" width="136.1" height="25.5" rx="0" fill="#e0ebd6" stroke="#5a9040" stroke-width="1.5"/>
<text x="1069" y="193.7" font-size="22.2" fill="#111" text-anchor="middle">Linear</text>
<path d="M1069,200 L1069,210.4" fill="none" stroke="#3a7ab8" stroke-width="1.6" stroke-linecap="butt" stroke-linejoin="miter"/>
<path d="M986.8,223.15 L995,223.15" fill="none" stroke="#111" stroke-width="1.7" stroke-linecap="butt" stroke-linejoin="miter"/>
<path d="M1000.7,223.15 L991.2,227.15 L992.62,223.15 L991.2,219.15 Z" fill="#111"/>
<rect x="1000.7" y="210.4" width="136.1" height="25.5" rx="0" fill="#e0ebd6" stroke="#5a9040" stroke-width="1.5"/>
<text x="1069" y="229.6" font-size="22.2" fill="#111" text-anchor="middle">Linear</text>
<path d="M1069,235.9 L1069,246.3" fill="none" stroke="#3a7ab8" stroke-width="1.6" stroke-linecap="butt" stroke-linejoin="miter"/>
<path d="M986.8,259.05 L995,259.05" fill="none" stroke="#111" stroke-width="1.7" stroke-linecap="butt" stroke-linejoin="miter"/>
<path d="M1000.7,259.05 L991.2,263.05 L992.62,259.05 L991.2,255.05 Z" fill="#111"/>
<rect x="1000.7" y="246.3" width="136.1" height="25.5" rx="0" fill="#e0ebd6" stroke="#5a9040" stroke-width="1.5"/>
<text x="1069" y="265.5" font-size="22.2" fill="#111" text-anchor="middle">Linear</text>
<path d="M1069,271.8 L1069,282.2" fill="none" stroke="#3a7ab8" stroke-width="1.6" stroke-linecap="butt" stroke-linejoin="miter"/>
<path d="M986.8,294.95 L995,294.95" fill="none" stroke="#111" stroke-width="1.7" stroke-linecap="butt" stroke-linejoin="miter"/>
<path d="M1000.7,294.95 L991.2,298.95 L992.62,294.95 L991.2,290.95 Z" fill="#111"/>
<rect x="1000.7" y="282.2" width="136.1" height="25.5" rx="0" fill="#e0ebd6" stroke="#5a9040" stroke-width="1.5"/>
<text x="1069" y="301.4" font-size="22.2" fill="#111" text-anchor="middle">Linear</text>
<path d="M1069,307.7 L1069,318.1" fill="none" stroke="#3a7ab8" stroke-width="1.6" stroke-linecap="butt" stroke-linejoin="miter"/>
<path d="M986.8,330.85 L995,330.85" fill="none" stroke="#111" stroke-width="1.7" stroke-linecap="butt" stroke-linejoin="miter"/>
<path d="M1000.7,330.85 L991.2,334.85 L992.62,330.85 L991.2,326.85 Z" fill="#111"/>
<rect x="1000.7" y="318.1" width="136.1" height="25.5" rx="0" fill="#e0ebd6" stroke="#5a9040" stroke-width="1.5"/>
<text x="1069" y="337.3" font-size="22.2" fill="#111" text-anchor="middle">Linear</text>
<path d="M1069,343.6 L1069,354" fill="none" stroke="#3a7ab8" stroke-width="1.6" stroke-linecap="butt" stroke-linejoin="miter"/>
<path d="M986.8,366.75 L995,366.75" fill="none" stroke="#111" stroke-width="1.7" stroke-linecap="butt" stroke-linejoin="miter"/>
<path d="M1000.7,366.75 L991.2,370.75 L992.62,366.75 L991.2,362.75 Z" fill="#111"/>
<rect x="1000.7" y="354" width="136.1" height="25.5" rx="0" fill="#e0ebd6" stroke="#5a9040" stroke-width="1.5"/>
<text x="1069" y="373.2" font-size="22.2" fill="#111" text-anchor="middle">Linear</text>
<path d="M1069,379 L1069,389.6" fill="none" stroke="#3a7ab8" stroke-width="1.7" stroke-linecap="butt" stroke-linejoin="miter"/>
<path d="M1069,395 L1064.75,386 L1069,387.35 L1073.25,386 Z" fill="#3a7ab8"/>
<text x="1062.6" y="407.3" font-size="22.5" fill="#111" text-anchor="start" font-style="italic" font-weight="bold">c</text>
<rect x="1014.4" y="23.5" width="26.3" height="49.2" rx="13.1" fill="#f8d5bb" stroke="#000" stroke-width="2"/>
<rect x="1040.7" y="23.5" width="26.3" height="49.2" rx="13.1" fill="#fce2b8" stroke="#000" stroke-width="2"/>
<rect x="1067" y="23.5" width="26.3" height="49.2" rx="13.1" fill="#b3bbe0" stroke="#000" stroke-width="2"/>
<rect x="1093.3" y="23.5" width="26.3" height="49.2" rx="13.1" fill="#7f9ad0" stroke="#000" stroke-width="2"/>
<path d="M1027.5,72.5 C1035.8,82 1069,84 1069,97" fill="none" stroke="#000" stroke-width="1.6"/>
<path d="M1053.8,72.5 C1056.84,82 1069,84 1069,97" fill="none" stroke="#000" stroke-width="1.6"/>
<path d="M1080,72.5 C1077.8,82 1069,84 1069,97" fill="none" stroke="#000" stroke-width="1.6"/>
<path d="M1106.4,72.5 C1098.92,82 1069,84 1069,97" fill="none" stroke="#000" stroke-width="1.6"/>
<path d="M1069,101.2 L1065.5,93.2 L1069,93.2 L1072.5,93.2 Z" fill="#111"/>
<text x="1127" y="30" font-size="21.4" fill="#111" text-anchor="start">Merge Network</text>
<rect x="1159.6" y="44.2" width="96" height="106.5" rx="0" fill="#fff" stroke="#222" stroke-width="1.3" stroke-dasharray="5 3"/>
<rect x="1163.7" y="56.3" width="17.7" height="8" rx="0" fill="#7f9ad0" stroke="#333" stroke-width="1"/>
<rect x="1163.7" y="79.1" width="17.7" height="8" rx="0" fill="#b3bbe0" stroke="#333" stroke-width="1"/>
<rect x="1163.7" y="104.6" width="17.7" height="8" rx="0" fill="#fce2b8" stroke="#333" stroke-width="1"/>
<rect x="1163.7" y="128.7" width="17.7" height="8" rx="0" fill="#f8d5bb" stroke="#333" stroke-width="1"/>
<path transform="translate(1198,56.5) scale(0.56)" d="M0,5.5 C0.9,1.5 2.9,0 5,0 C7.9,0 9.2,3.5 10.2,13 M15.4,0 C12.4,5.5 9.9,11.5 8.7,16.5 C8.2,18.5 8.9,19.3 9.5,17.7 C10,16.1 10.3,14.3 10.2,13" fill="none" stroke="#000" stroke-width="1.96"/>
<text x="1206.2" y="65" font-size="19" fill="#111" text-anchor="start">(</text>
<text x="1214" y="64.8" font-size="19" fill="#111" text-anchor="start" font-style="italic" font-weight="bold">x</text>
<text x="1225.2" y="65" font-size="19" fill="#111" text-anchor="start">)</text>
<text x="1207.4" y="89.2" font-size="15.5" fill="#111" text-anchor="start" font-style="italic" font-weight="bold">Z</text>
<text x="1219" y="92" font-size="10.5" fill="#111" text-anchor="start" font-style="italic" font-weight="bold">σ</text>
<text x="1205.3" y="112.7" font-size="14" fill="#111" text-anchor="start">Δ</text>
<text x="1215.6" y="112.7" font-size="15.5" fill="#111" text-anchor="start" font-style="italic" font-weight="bold">s</text>
<text x="1207.6" y="139.3" font-size="13.5" fill="#111" text-anchor="start" font-style="italic" font-weight="bold">Z</text>
<text x="1218.8" y="141.5" font-size="10.5" fill="#111" text-anchor="start" font-style="italic" font-weight="bold">s</text>
<path d="M1209.5,128.6 L1218.5,128.6" fill="none" stroke="#111" stroke-width="1.1" stroke-linecap="butt" stroke-linejoin="miter"/>
<text x="1141.8" y="350.5" font-size="21.9" fill="#111" text-anchor="start">Style Network</text>
<rect x="1160.2" y="361.3" width="96.7" height="52" rx="0" fill="#fff" stroke="#222" stroke-width="1.3" stroke-dasharray="5 3"/>
<rect x="1164.6" y="372.4" width="17.1" height="8.2" rx="0" fill="#f8d5bb" stroke="#333" stroke-width="1"/>
<rect x="1164.6" y="396.4" width="17.1" height="8.2" rx="0" fill="#cfe0b8" stroke="#333" stroke-width="1"/>
<path transform="translate(1198.6,373) scale(0.56)" d="M0,5.5 C0.9,1.5 2.9,0 5,0 C7.9,0 9.2,3.5 10.2,13 M15.4,0 C12.4,5.5 9.9,11.5 8.7,16.5 C8.2,18.5 8.9,19.3 9.5,17.7 C10,16.1 10.3,14.3 10.2,13" fill="none" stroke="#000" stroke-width="1.96"/>
<text x="1208.1" y="382.3" font-size="19" fill="#111" text-anchor="start">(</text>
<text x="1214.6" y="381.7" font-size="19" fill="#111" text-anchor="start" font-style="italic" font-weight="bold">x</text>
<text x="1225.8" y="382.3" font-size="19" fill="#111" text-anchor="start">)</text>
<text x="1207.1" y="406.2" font-size="16" fill="#111" text-anchor="start" font-style="italic" font-weight="bold">Z</text>
<text x="1219.3" y="408.9" font-size="10.5" fill="#111" text-anchor="start" font-style="italic" font-weight="bold">s</text>
<rect x="995.4" y="435.7" width="47" height="24.5" rx="12.2" fill="#f8d5bb" stroke="#000" stroke-width="2"/>
<rect x="995.4" y="461" width="47" height="24.5" rx="12.2" fill="#d3e0bf" stroke="#000" stroke-width="2"/>
<rect x="995.4" y="526.9" width="47" height="24.5" rx="12.2" fill="#f8d5bb" stroke="#000" stroke-width="2"/>
<rect x="995.4" y="551.6" width="47" height="24.5" rx="12.2" fill="#d3e0bf" stroke="#000" stroke-width="2"/>
<circle cx="1019.5" cy="493" r="1.8" fill="#111"/>
<circle cx="1019.5" cy="505.6" r="1.8" fill="#111"/>
<circle cx="1019.5" cy="518.1" r="1.8" fill="#111"/>
<path d="M1040.5,442 L1191.6,442" fill="none" stroke="#111" stroke-width="1.7" stroke-linecap="butt" stroke-linejoin="miter"/>
<path d="M1191.6,442 L1191.6,448.8" fill="none" stroke="#111" stroke-width="1.7" stroke-linecap="butt" stroke-linejoin="miter"/>
<path d="M1191.6,453.9 L1187.85,445.4 L1191.6,446.67 L1195.35,445.4 Z" fill="#111"/>
<path d="M1038.3,573 L1191.6,573" fill="none" stroke="#111" stroke-width="1.7" stroke-linecap="butt" stroke-linejoin="miter"/>
<path d="M1105.6,573 L1105.6,567.1" fill="none" stroke="#111" stroke-width="1.7" stroke-linecap="butt" stroke-linejoin="miter"/>
<path d="M1105.6,562 L1109.35,570.5 L1105.6,569.23 L1101.85,570.5 Z" fill="#111"/>
<path d="M1134.2,573 L1134.2,567.1" fill="none" stroke="#111" stroke-width="1.7" stroke-linecap="butt" stroke-linejoin="miter"/>
<path d="M1134.2,562 L1137.95,570.5 L1134.2,569.23 L1130.45,570.5 Z" fill="#111"/>
<path d="M1162.8,573 L1162.8,567.1" fill="none" stroke="#111" stroke-width="1.7" stroke-linecap="butt" stroke-linejoin="miter"/>
<path d="M1162.8,562 L1166.55,570.5 L1162.8,569.23 L1159.05,570.5 Z" fill="#111"/>
<path d="M1191.4,573 L1191.4,567.1" fill="none" stroke="#111" stroke-width="1.7" stroke-linecap="butt" stroke-linejoin="miter"/>
<path d="M1191.4,562 L1195.15,570.5 L1191.4,569.23 L1187.65,570.5 Z" fill="#111"/>
<rect x="1066.8" y="453.9" width="20.4" height="108.1" rx="0" fill="#dce6f2" stroke="#3a7ab8" stroke-width="1.5"/>
<text transform="translate(1084.3,508) rotate(-90)" font-size="21" text-anchor="middle">Linear</text>
<path d="M1087.2,508.1 L1095.4,508.1" fill="none" stroke="#3a7ab8" stroke-width="1.6" stroke-linecap="butt" stroke-linejoin="miter"/>
<rect x="1095.4" y="453.9" width="20.4" height="108.1" rx="0" fill="#dce6f2" stroke="#3a7ab8" stroke-width="1.5"/>
<text transform="translate(1112.9,508) rotate(-90)" font-size="21" text-anchor="middle">Linear</text>
<path d="M1115.8,508.1 L1124,508.1" fill="none" stroke="#3a7ab8" stroke-width="1.6" stroke-linecap="butt" stroke-linejoin="miter"/>
<rect x="1124" y="453.9" width="20.4" height="108.1" rx="0" fill="#dce6f2" stroke="#3a7ab8" stroke-width="1.5"/>
<text transform="translate(1141.5,508) rotate(-90)" font-size="21" text-anchor="middle">Linear</text>
<path d="M1144.4,508.1 L1152.6,508.1" fill="none" stroke="#3a7ab8" stroke-width="1.6" stroke-linecap="butt" stroke-linejoin="miter"/>
<rect x="1152.6" y="453.9" width="20.4" height="108.1" rx="0" fill="#dce6f2" stroke="#3a7ab8" stroke-width="1.5"/>
<text transform="translate(1170.1,508) rotate(-90)" font-size="21" text-anchor="middle">Linear</text>
<path d="M1173,508.1 L1181.2,508.1" fill="none" stroke="#3a7ab8" stroke-width="1.6" stroke-linecap="butt" stroke-linejoin="miter"/>
<rect x="1181.2" y="453.9" width="20.4" height="108.1" rx="0" fill="#dce6f2" stroke="#3a7ab8" stroke-width="1.5"/>
<text transform="translate(1198.7,508) rotate(-90)" font-size="21" text-anchor="middle">Linear</text>
<path d="M1201.3,507.8 L1208.5,507.8" fill="none" stroke="#3a7ab8" stroke-width="1.7" stroke-linecap="butt" stroke-linejoin="miter"/>
<path d="M1213.6,507.8 L1205.1,512.3 L1206.38,507.8 L1205.1,503.3 Z" fill="#3a7ab8"/>
<path d="M1214.6,514.2 L1220.6,501.8 L1221.9,501.8 L1227.7,514.2 Z M1216.7,512.6 L1224.4,512.6 L1220.5,504.4 Z" fill="#000" fill-rule="evenodd"/>
<text x="1229.3" y="514.1" font-size="17" fill="#111" text-anchor="start" font-style="italic" font-weight="bold">s</text>
<path d="M1042.4,451 Q1049,461 1061,461.3 M1042.4,469.6 Q1049,461.6 1061,461.3" fill="none" stroke="#000" stroke-width="1.7"/>
<path d="M1066.8,461.3 L1058.3,465.05 L1060,461.3 L1058.3,457.55 Z" fill="#111"/>
<path d="M1042.4,543.4 Q1049,552.6 1061,552.9 M1042.4,562.2 Q1049,553.2 1061,552.9" fill="none" stroke="#000" stroke-width="1.7"/>
<path d="M1066.8,552.9 L1058.3,556.65 L1060,552.9 L1058.3,549.15 Z" fill="#111"/>
</svg></body></html>
